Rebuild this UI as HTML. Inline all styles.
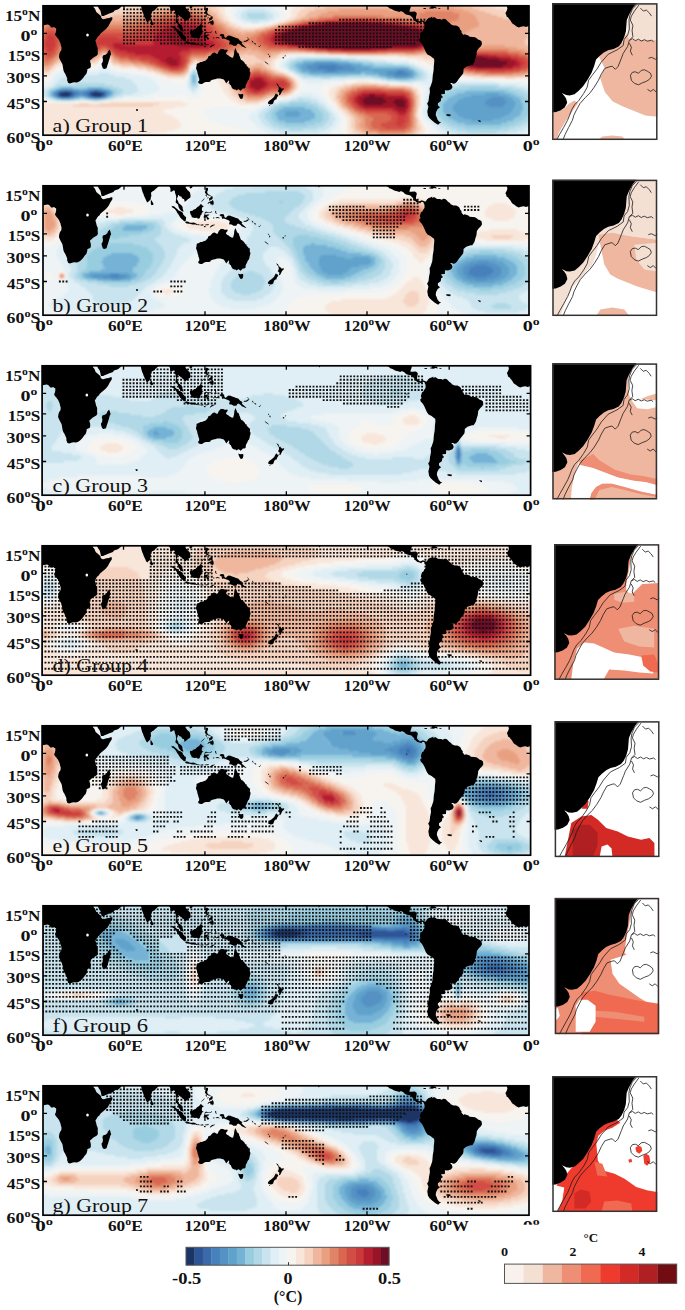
<!DOCTYPE html><html><head><meta charset="utf-8"><style>html,body{margin:0;padding:0;background:#fff;}svg{display:block;}.ax{font-family:"Liberation Serif",serif;font-weight:bold;font-size:14.3px;fill:#111;}.lb{font-family:"Liberation Serif",serif;font-size:18.8px;fill:#111;}.cb{font-family:"Liberation Serif",serif;font-weight:bold;font-size:17px;fill:#111;}.cb2{font-family:"Liberation Serif",serif;font-weight:bold;font-size:12.4px;fill:#111;}</style></head><body><svg width="685" height="1310" viewBox="0 0 685 1310"><defs><clipPath id="pc"><rect x="43" y="0.8" width="486" height="129.4"/></clipPath><filter id="bl" x="-2%" y="-5%" width="104%" height="110%"><feGaussianBlur stdDeviation="1.2"/></filter><path id="land" d="M19.4,-1.4L20.2,-0.6L20.7,0.8L21,1.8L21.4,3.7L20.7,5.8L19.4,8.3L20.3,10L20.5,11.5L21.9,12.3L23,13.7L24.5,15.5L25.2,16.8L26.1,18.3L27.9,19.4L28.4,19.8L30.2,21.2L32.6,22.4L34.9,21.7L37.6,21.3L40.2,22L42.7,20.9L44.6,20.1L46.2,19.8L47.6,19.6L49.1,20L50.4,21.6L51.1,22.6L52.5,22.4L54.2,22L55.1,23L56.1,23.2L56.2,25L56,26.3L55.7,27.8L54.9,29.3L55.8,31.1L57.3,32.7L59,34.9L59.6,36.5L60.5,38.5L60.8,40.3L61.5,42.6L61.4,44.7L61.1,45.5L60,47L59.3,49.1L58.9,52.1L59.6,53.8L60.8,56.2L62.2,58.8L62.6,60.1L63.1,63.2L63.5,65.6L64.2,67.3L65.2,68.7L66.2,70.9L67.2,73.2L67.1,75.3L67.6,76.3L67.8,77.1L68,77.8L69.1,78.2L70,78.5L71.3,77.9L72.8,77.6L74.7,77.2L76.5,77.6L77.6,77.2L78.9,76.7L80.7,75.6L82.2,74L83.5,72.6L84.8,70.6L86.3,69L87,67L87.4,65L87,64.7L88.2,63.7L90.2,62.9L90.9,61.6L90.8,58.8L90.2,56.7L90,55.6L91.3,54.4L92.8,52.9L94.3,51.9L96.9,50.5L97.9,48.9L97.7,46.1L97.8,42.9L96.7,40.6L96.1,37.8L96.1,37.6L95.4,35.8L95.9,34.7L96.6,33.8L97.1,32.7L98.2,31.3L99.4,30.5L100.4,28.8L102.1,27.3L104.2,25.6L106.2,23.8L108.5,21.1L109.4,19.2L110.3,17.5L111.6,15.5L112.4,14.2L112.3,12.3L110.9,12.2L109.4,13L107.1,13.3L103.8,14.2L102.4,14.1L101.6,13L101.2,12.6L100.8,11.8L101.5,11.2L100.6,10.7L99,9.3L97.4,7.9L96.3,7L95.5,5.1L95,3.7L93.6,2.2L93.2,0.8L92.9,-1.4ZM505.4,-1.4L506.2,-0.6L506.7,0.8L507,1.8L507.4,3.7L506.7,5.8L505.4,8.3L506.3,10L506.5,11.5L507.9,12.3L509,13.7L510.5,15.5L511.2,16.8L512.1,18.3L513.9,19.4L514.4,19.8L516.2,21.2L518.6,22.4L520.9,21.7L523.6,21.3L526.2,22L528.7,20.9L530.6,20.1L532.2,19.8L533.6,19.6L535.1,20L536.4,21.6L537.1,22.6L538.5,22.4L540.2,22L541.1,23L542.1,23.2L542.2,25L542,26.3L541.7,27.8L540.9,29.3L541.8,31.1L543.3,32.7L545,34.9L545.6,36.5L546.6,38.5L546.8,40.3L547.5,42.6L547.4,44.7L547.1,45.5L546,47L545.3,49.1L544.9,52.1L545.6,53.8L546.8,56.2L548.2,58.8L548.6,60.1L549.1,63.2L549.5,65.6L550.2,67.3L551.2,68.7L552.2,70.9L553.2,73.2L553.1,75.3L553.6,76.3L553.8,77.1L554,77.8L555.1,78.2L556,78.5L557.4,77.9L558.8,77.6L560.7,77.2L562.5,77.6L563.6,77.2L564.9,76.7L566.7,75.6L568.1,74L569.5,72.6L570.8,70.6L572.3,69L573,67L573.4,65L573,64.7L574.2,63.7L576.2,62.9L576.9,61.6L576.8,58.8L576.2,56.7L576,55.6L577.3,54.4L578.8,52.9L580.3,51.9L582.9,50.5L583.9,48.9L583.7,46.1L583.8,42.9L582.7,40.6L582.1,37.8L582.1,37.6L581.4,35.8L581.9,34.7L582.6,33.8L583.1,32.7L584.2,31.3L585.4,30.5L586.4,28.8L588.1,27.3L590.2,25.6L592.2,23.8L594.5,21.1L595.4,19.2L596.3,17.5L597.6,15.5L598.4,14.2L598.3,12.3L596.9,12.2L595.4,13L593.1,13.3L589.8,14.2L588.4,14.1L587.6,13L587.2,12.6L586.8,11.8L587.5,11.2L586.6,10.7L585,9.3L583.4,7.9L582.3,7L581.5,5.1L581,3.7L579.6,2.2L579.2,0.8L579,-1.4ZM94.3,-1.4L95.9,-1.4L96.7,0.1L97.8,1.5L99,3.7L100,5.1L100.4,5.8L100.8,7.2L101,8.2L101.2,9.3L101.4,10.2L101.7,11.1L102.7,11.1L103.8,10.9L105.1,10.2L107.1,9.6L109.3,8.6L110.9,7.9L112.1,7.6L113.5,7L114.5,5.6L116,5.1L117.7,4.4L119.1,3.8L120.4,2.5L121,2.3L121.6,0.8L122.4,0.2L123.1,-1.4ZM140.2,-1.4L141,-0.6L141.3,2.2L141.8,4.4L142.2,5.8L142.6,7.2L143.3,8.6L144,10.8L144.7,12.3L145.3,13.4L145.9,14.8L146.4,16.3L147.6,17.4L148.5,16.4L149.5,15.8L150.1,14.8L150.8,14.4L150.7,12.7L151.3,11.2L151.4,10.5L151.1,9.3L151.1,7.6L152.1,6.8L152.6,6.2L154.1,5.6L155.5,4.1L156.5,3.2L157.8,1.9L158.8,1.1L160.2,0.1L160.4,-1.4ZM150.9,15.1L151.4,15.3L152.2,16.6L152.9,17.8L153.6,18.9L153.2,19.7L151.8,20.3L151,19.6L150.8,18.2L150.8,17.1ZM166.5,-2.8L167.2,-0.6L167.6,-0.2L168.4,0.7L169.4,1.5L170.2,2.8L170.6,4.4L170.2,6.5L171.7,6.8L172.6,6.1L173.3,5.6L174.2,5.4L174.8,5.8L175,7.9L175.6,9.3L176.1,11.5L176.2,13.4L176.1,14.8L175.7,16.4L175.7,17.5L176.9,18.5L178,19.4L178.4,21.1L178.8,22.7L179.8,24.3L181,25.4L182,26.2L182.7,26.6L183.7,26.5L183.1,25L182.6,23.2L182.6,22.1L182,20.9L181,20.1L179.8,19L178.8,18.6L178.4,17.1L177.9,15.9L176.9,14.1L177.3,12.7L177.9,11.4L178,10.2L178.7,10L179.2,10.4L179.2,11.1L179.8,11.2L180.7,11.5L181.4,11.8L182,12.9L182.7,13.8L183.7,14L184.1,14.2L184.5,15.5L184.5,16.7L185.2,16.6L186.4,15.8L186.9,15.1L187.6,14.4L188.9,13.6L189.9,13L190.4,12.2L190.6,10.7L190.4,9.6L190,7.6L189.1,6.4L188.3,5.8L187.4,4.9L186.6,3.7L185.7,2.7L185.7,1.8L186.4,0.8L187.2,-0.4L188.5,-1.5L189.5,-1.8L191.2,-1.4L191.9,-0.5L192.2,-1.4ZM189.6,1.9L189.7,2.9L190.8,3.4L191.9,2.8L192.8,1.4L192.4,0.7L191.5,0.7L190.6,0.9ZM205.1,-3.6L205.9,-2.1L206.2,-1.9L207,-3.4L207.6,-3.6ZM205.8,2.9L205.5,5.1L205.4,6.5L204.9,6.2L205,7.9L205.8,8.6L205.8,9.4L207,9.7L208.4,10.4L209.1,10.7L209.6,9.4L210.7,10.7L210.5,11.2L209.5,10.8L208.6,9.6L208,9L207.3,8L207.2,6.5L208,5.1L208,2.9L206.5,2.8ZM207.6,18.9L208.1,17.5L209.7,16.8L210.4,16.3L211.5,16.2L212.4,15.1L213.4,15.9L213.8,18.2L213.4,19.6L212.6,20.4L212.2,19.2L210.8,19.8L210.3,18.3L209.6,17.8L208.8,18.3L208,19ZM207.6,12.2L208.8,12.5L209.3,13.4L209.1,14.8L209.5,15.9L210.4,15.3L210.9,14.5L211.8,14.8L212.6,13.4L212.7,11.6L210.9,11.2L210.4,12.7L209.7,13L208.4,12.7L207.7,14.1L207.6,13.4ZM205.4,10L206.5,10.1L207,11.5L206.4,11.8L205.8,10.7ZM201.2,17L202.7,15.8L204.2,14.2L204.6,12.9L204.1,13.4L203,14.8L201.6,16ZM191,25.7L192,26.1L193.3,25L193.9,24.6L195.6,24L196.9,22.4L198.2,21.6L198.9,21.2L199.7,20.3L200.7,18.9L201.4,19.3L201.9,20.3L202.4,20.5L203.9,21.3L202.7,22.1L202.2,22.6L201.8,23.9L202,25.7L203.7,27L202.3,27.3L201.6,28.4L201.6,29.4L200.7,30.1L200.3,31.3L200,32.4L199.5,33.2L197.7,34L197.7,33L196.2,32.7L194.9,33L193.8,32.8L192.8,32.4L191.8,32.3L191.5,30.8L190.6,29.6L190.4,28.4L190,27.6L190.1,26.3ZM171.7,20.8L172.6,21.2L174.1,21.3L175,22.3L176.2,23.2L177.5,24.3L178.5,25.4L179.9,26.1L181,26.5L182,27.2L183,28.1L183.1,29.7L183.9,29.7L184.6,31.3L185.8,31.7L186.2,32.7L185.8,34.4L185.8,36.3L185,36.2L184.1,36.2L182.9,35L181.1,33.5L179.8,31.7L178.5,29.6L177.7,28.4L176.8,27L176.4,26.1L175.6,25L174.8,23.9L173.7,23.2L172.7,22.8L171.9,21.9ZM185.2,37.6L186.1,36.5L187.2,36.6L188.3,36.8L189.6,37.4L190.8,37.7L192,37.8L193.1,37.4L194.3,37.7L195.1,38.1L196.2,38.8L197.4,38.9L197.4,40.2L195.8,39.6L194.2,39.6L192.8,39.5L191.5,39.2L190.1,38.8L188.8,38.8L187.4,38.4L186.6,38.4L185.4,37.8ZM197.6,39.3L198.5,39.3L199.2,39.7L198.5,40.3L197.7,39.9ZM199.5,39.6L200.4,39.5L200.5,40.4L199.5,40.3ZM200.8,39.9L201.6,39.6L202.6,39.3L203.8,39.9L203.7,40.3L202.3,40.4L201,40.6ZM204.7,39.7L206.1,39.6L207.7,39.3L209.1,39.6L208.8,40L207,40.3L205,40.3ZM203.7,41.1L205,41.1L206.1,42.1L204.5,42.2ZM209.7,42.2L210.8,41.1L212,40L214.5,39.6L214.9,39.9L213.1,40.7L211.5,41.7L210.4,42.5ZM204.2,35.8L204.3,33.8L204.5,33L203.5,32.3L204.1,30.4L204.7,28.6L204.7,27.7L205.3,27.3L206.1,26.6L207,26.9L208.8,27.2L210.4,27.2L211.6,26.3L212,26.5L211.1,27.7L209.5,27.8L207.7,27.7L206.4,27.8L205.3,28.2L205.1,29.2L205.8,30.1L207,29.6L208.8,29.4L209.5,29.6L208.6,30.4L207,30.9L207.7,31.9L208.4,32.8L209.3,33.8L208.6,34.6L207.7,34.6L207,34.4L206.5,32.4L205.9,32.1L205.5,33.2L205.7,35.8L205.4,35.9ZM215.1,25.7L215.8,26.3L216.5,26.9L215.8,27.7L216.9,28L216.1,29L215.5,28.1L215.1,27ZM215.5,32.7L217.2,32.1L219.2,32.4L219.6,33.5L217.8,33.1L216.1,33.2ZM213.1,32.6L214,32.4L214.7,33L213.9,33.6L213.1,33.2ZM219.7,29.7L220.3,29.6L221.6,28.9L223.2,29.3L224,29.5L224.4,31.7L225.2,32.7L225.9,32.8L227,31.5L228.6,30.5L230.4,30.8L232,31.5L232.9,31.7L233.8,32L235.4,32.7L236.9,33.2L238.1,33.6L239.8,35.4L240,35.8L241.4,36.6L242.5,37.2L242.1,37.8L241.4,37.7L242.1,39.1L243.1,40L244.6,41.2L245.5,42.2L246.4,42.6L245.5,42.9L244.1,42.2L241.7,41.2L240.4,39.7L238.1,38.5L237.1,39.2L236.3,40.7L234.7,40.8L233.3,40.7L232.5,39.9L230.7,39.3L229.7,39.7L228.9,37.8L230,37.2L229.3,35.8L227.9,35.1L225.9,34.3L224.6,33.8L223.2,33.5L222.3,33.9L221.6,32.3L222.8,31.7L221.2,31.5L219.8,30.4ZM243.2,35.9L244.8,35.8L245.9,35.8L246.8,35.1L248.5,34L248.7,34.9L247.5,36.1L246.2,36.8L244.1,36.8ZM246.6,32L247.9,32.7L249.3,34.2L249.7,34.9L248.9,34.3L247.5,33.1ZM251.7,35.4L252.8,36.2L253.5,37.4L252.9,37.7L252,36.5ZM254.3,37.8L255.6,38.5L256.3,39.2L254.9,39.5L254.3,38.5ZM258.5,41L259.7,41.1L260.1,41.7L258.7,41.7ZM259.8,39.6L260.4,39.9L261,41.2L260.4,41ZM267.9,48.6L268.7,48.9L268.7,50L267.9,49.7ZM269.5,50.3L270.3,51.1L269.9,52.7L269.1,51.4ZM264.4,56.2L265.6,56.8L267.8,58.4L268.5,59.3L268.2,59.6L266.8,58.5L265.1,57.2ZM282.4,52.4L283.3,52.1L284.1,52.8L283.7,53.4L282.5,53.2ZM284.5,50.8L285.7,50.5L286,51L284.6,51.4ZM235.4,42.9L235,44L234.4,45.5L234.2,47L234,48.9L233.6,50.8L233.1,52.4L232,52.7L231.1,52.2L229.7,51.4L228.6,50.5L227.5,50L226.3,49.1L225.9,48.3L226.6,46.9L227.4,46.2L227.7,45L227,44.5L225.7,44.8L224.6,44.7L223.2,44.1L221.9,44L220.9,43.7L220.1,44.7L219.6,45.2L218.9,45.8L218.5,46.8L217.8,48.2L217.2,48.9L216.2,48.6L215.8,48.2L215.1,47.7L214.2,47.5L213.4,47.7L212.4,48.3L211.8,49.3L211.1,49.6L210.4,50.7L209.6,51.1L209.1,50.8L208,51.9L208,53.1L207,53.9L205.8,55.4L204.3,55.9L203.1,56.4L201.6,56.9L200.5,56.9L198.9,58L197.7,58.5L197,58.5L196.6,59.7L196.5,61.8L196.1,62.5L196.2,64L196.8,65.2L197.2,66.2L197.7,69L198.2,70.1L198.4,71.6L199.2,73.5L199.3,74.8L199.1,76.1L198.2,76.6L198.4,77.9L199.6,78.7L201,78.9L202.2,79L203.5,78L204.9,77.2L206.2,77.1L207.6,77.1L209.1,77.1L210.4,76.4L210.8,75.4L212.4,74.8L213.8,74.5L215.8,74L217.2,73.4L219.2,73.4L220.5,73.4L221.9,74L223.2,74.3L224.2,75.1L224.8,76.1L225.7,77.6L226.5,78.4L227,77.2L227.9,76.4L228.9,75.3L229.2,76.4L228.8,78L228.5,79L229.3,78.5L230,78.9L229.6,79.9L230.7,80L231.5,81.9L232,83L232.7,83.7L234.2,84.4L235.4,84.6L236.7,85.4L237.8,84.4L238.6,84.2L239.4,84.8L240.6,85.8L241.4,84.9L242.8,83.6L244.1,83.4L245.4,83L245.6,81.4L245.8,79.7L246.6,78.4L247.3,77L247.9,75.4L248.9,74.5L249.4,73.1L249.7,71.2L250.4,68.7L250.2,67L249.7,66.5L249.8,64.7L250,63.2L249,63.5L247.8,61.8L246.6,60.9L246.6,59.6L245.4,59.3L244.4,57.5L243.5,56.5L242.1,55.2L241.2,54.9L240.5,53.8L240.1,52.5L239.8,51.5L239.3,50.7L239.1,49.6L238.6,48.6L238.1,47.7L237,47.5L236.7,46.1L236.2,45L235.8,43.9ZM238.3,88.6L239.4,89L240.8,89.3L242.1,89L243.2,89.2L243.2,91L242.7,93.2L241.2,93.9L240.1,93.5L239,91.3L238.5,90ZM276.1,77.9L277,78.7L278,79.2L278.7,80.9L279,81.9L279.9,81.4L280.5,82.5L281.8,83.7L283,83.2L284,83.4L283.3,84.9L282.2,85.8L281.8,86.5L281.1,88.1L280.5,89.2L279.7,90.2L279,89.7L279.1,89L279.5,87.7L278.6,87L277.6,86.1L278.4,85.3L278.8,83.9L278.6,82.5L278.2,81.4L277.6,80.5L276.7,79.2ZM276.1,88.3L277,89.7L277.9,89.2L278.3,90.4L277.5,91.7L276.6,93L276.7,94.3L275.5,94.5L274.2,95.4L273.6,96.9L273.3,98.3L272.2,99.3L270.2,99.6L269.1,98.9L267.8,98.5L268.2,96.9L269.5,95.6L271.1,94.5L272.9,93L274.1,91.8L274.7,90.5L275.3,89.2ZM269.1,100L270.1,100L269.9,100.8L269.3,100.8ZM109.5,44.6L110,45.5L110.5,46.8L110.8,47.9L111.2,49.3L110.5,50.3L110,51.7L109.7,53.3L109,55.2L108.3,57.7L107.5,60L106.5,63.2L105.1,63.7L104,64.1L102.8,63.2L101.9,60.8L101.5,58.8L102.3,57.4L102.8,56.4L102.9,54.1L102.4,52.4L103,50.5L104.4,50.1L105.5,49.8L106.5,48.9L107.5,47.9L107.8,46.8L108.9,45.4ZM385.9,-1.4L386.3,0.8L387.2,1.5L388.2,2.1L389.3,3.2L391,3.7L392.6,4.6L394.1,5.4L396,6.1L398,6.6L399.3,6.9L400.5,6.3L401.4,6.2L403.4,7.2L404.5,8.6L406.1,9.4L408.2,10L409.5,10.2L410.7,10.8L411.8,12L413.2,13.3L413.3,14.8L414.5,15.3L416.3,17L417.9,17.3L419.7,18.1L420.5,18.3L420.7,17.5L421.7,16.8L423.2,17.1L423.8,18.6L424.5,20L424.5,23L423,24.9L422.4,26.6L421,27.2L420.3,29.6L419.8,31.3L420.6,33L419.2,34.2L419.5,36.2L421.8,38.8L423,40.8L424.8,44.7L425.9,47.2L427.5,49.4L430.5,51L432.6,52.7L434.1,53.8L434.3,56.2L433.8,61L433.6,65.2L432.7,70.7L432.5,74L432.2,76.6L431.1,79.7L430.3,81.9L429.6,83L429.9,87L429.4,90L429.1,91L428.8,93.7L428.4,96.5L427.1,98.5L428.4,101.4L427.3,106.5L428,110.8L429.4,113.1L431.8,115.3L434.5,117.4L436.5,118.8L438.1,119.8L439.9,118.1L441.2,117.2L439.2,116.7L437.5,114.6L436.7,112.2L435.7,110L436.1,107L437.7,104.1L440,102.2L437.9,100.4L437.9,98.3L440.3,96.5L440.8,96L441.2,93.3L443.1,92L441.9,91L441.1,89.2L444.8,89L445,86.7L444.9,85.3L448,85.5L451.2,84.2L452.5,82.2L452.2,81L451.8,79.7L450,78L451.6,77.9L453.4,78.7L454.9,78.4L456.9,76.7L458.7,74L461.1,70.9L463.1,68.5L463.5,66.2L463.5,64L466.2,61.8L470.7,60.3L472.3,60.3L473.6,58.2L474.6,56.4L475.5,53.1L476.4,50.3L476.9,46.1L478.8,43.3L480.9,41.2L482,39.2L481.5,36.2L479.7,35.1L478.4,34.7L477,33.4L475,32.3L473,32.1L469.6,31.7L468.4,30.4L464.6,29.3L463.5,30.1L462.2,28.6L461.5,27.7L461.5,25.9L460.4,25L459.3,22.6L458.1,21.6L456.1,20.5L453.5,20.4L450.7,19.2L449.9,18.1L448,16.8L446.7,15.2L445.3,14L443.3,13.8L441.8,14.7L439.9,14L437.2,14.1L435.2,12.7L434.2,11.9L432.3,12.9L432.2,11.5L431.1,12.3L428.8,13L427.1,14.2L426.4,15.6L425.2,16.7L423.7,15.9L421.7,15.3L419.8,16.2L418.6,16.3L417.5,15.3L416,13.7L416,12L416.7,9.3L416.7,7.9L414.9,6.6L410.9,6.8L409.4,6.8L409.9,4.4L410.5,2.9L411,0.8L411.6,-1.4ZM430.7,0.9L434.5,1.2L435.9,2.2L436.7,2.9L436.3,3.4L434.5,3.1L433,3.4L432.3,3.7L429.8,3.4L428.6,2.9L430.9,2.2ZM438.3,2.9L440.4,3.1L440.2,3.7L438.3,3.7ZM423.3,2.9L426,2.9L426.1,3.8L424.4,3.9L423.2,3.4ZM423.8,0.1L424.1,1L427.1,0.9L428.8,0.5L428.4,-0.1ZM318.5,0.5L319.8,1.2L318.8,2.4L318.4,1.5ZM446.2,109.3L448.7,109.3L451,109.7L450,111.3L448,111.1L446.4,110.6ZM477.7,115.3L480.4,115.5L480.7,117.2L478.8,116.5ZM135.9,104.1L138.2,104.5L137.9,105.7L136.4,105.9ZM405.3,28.8L406.1,28.4L406.4,29.7L405.6,29.7Z"/></defs><g transform="translate(0,5)"><g><g clip-path="url(#pc)"><rect x="43" y="0.8" width="486" height="129.4" fill="#f7f7f7"/><g filter="url(#bl)" fill="none" stroke-width="2"><path stroke="#1b3565" d="M65 87h2M95 87h2M59 89h12M91 89h12M61 91h8M93 91h8"/><path stroke="#2d5595" d="M61 87h4M67 87h4M91 87h4M97 87h4M71 89h2M89 89h2M103 89h2M59 91h2M69 91h2M91 91h2M101 91h2"/><path stroke="#3a6aab" d="M59 87h2M71 87h2M89 87h2M101 87h4M57 89h2M73 89h2M87 89h2M57 91h2M71 91h2M89 91h2M103 91h2"/><path stroke="#4781bb" d="M319 61h18M317 63h26M327 65h8M397 67h6M395 69h12M65 85h2M93 85h6M57 87h2M73 87h4M85 87h4M105 87h2M55 89h2M75 89h4M83 89h4M105 89h2M73 91h2M87 91h2M105 91h2M61 93h8M93 93h8"/><path stroke="#5591c3" d="M313 59h26M307 61h12M337 61h14M307 63h10M343 63h12M311 65h16M335 65h20M397 65h8M323 67h16M387 67h10M403 67h6M387 69h8M407 69h4M393 71h16M59 85h6M67 85h6M89 85h4M99 85h4M55 87h2M77 87h8M107 87h2M53 89h2M79 89h4M107 89h2M55 91h2M75 91h4M83 91h4M59 93h2M69 93h4M89 93h4M101 93h2M491 93h12M487 95h18M485 97h22M485 99h20M489 101h14"/><path stroke="#60a2cb" d="M315 57h20M303 59h10M339 59h14M301 61h6M351 61h10M301 63h6M355 63h14M303 65h8M355 65h42M405 65h4M309 67h14M339 67h22M373 67h14M409 67h4M379 69h8M411 69h2M385 71h8M409 71h4M395 73h12M57 85h2M73 85h6M83 85h6M103 85h4M53 87h2M109 87h2M109 89h2M485 89h14M53 91h2M79 91h4M107 91h2M471 91h36M57 93h2M73 93h2M87 93h2M103 93h2M463 93h28M503 93h8M459 95h28M505 95h8M457 97h28M507 97h8M455 99h30M505 99h10M453 101h36M503 101h12M453 103h60M453 105h60M285 107h14M455 107h56M285 109h16M457 109h52M285 111h14M459 111h46M463 113h38M471 115h22"/><path stroke="#74b2d6" d="M303 57h12M335 57h14M297 59h6M353 59h10M295 61h6M361 61h12M297 63h4M369 63h40M299 65h4M409 65h4M301 67h8M361 67h12M413 67h2M309 69h52M365 69h14M413 69h4M193 71h2M379 71h6M413 71h2M193 73h2M387 73h8M407 73h6M193 75h2M193 77h2M61 83h12M87 83h16M55 85h2M79 85h4M107 85h4M51 87h2M111 87h2M465 87h40M51 89h2M111 89h2M457 89h28M499 89h12M51 91h2M109 91h2M453 91h18M507 91h8M55 93h2M75 93h4M85 93h2M105 93h2M449 93h14M511 93h8M447 95h12M513 95h8M445 97h12M515 97h6M443 99h12M515 99h8M443 101h10M515 101h8M283 103h22M443 103h10M513 103h10M279 105h32M443 105h10M513 105h10M277 107h8M299 107h14M443 107h12M511 107h10M275 109h10M301 109h14M445 109h12M509 109h12M277 111h8M299 111h16M447 111h12M505 111h14M277 113h38M449 113h14M501 113h14M279 115h32M453 115h18M493 115h20M285 117h20M457 117h50M465 119h36"/><path stroke="#98cde0" d="M303 55h38M295 57h8M349 57h12M293 59h4M363 59h12M291 61h4M373 61h32M293 63h4M409 63h2M295 65h4M413 65h2M297 67h4M415 67h2M193 69h2M303 69h6M361 69h4M417 69h2M191 71h2M195 71h2M313 71h34M371 71h8M415 71h4M191 73h2M195 73h2M381 73h6M413 73h4M191 75h2M195 75h2M395 75h14M191 77h2M195 77h2M193 79h2M57 83h4M73 83h14M103 83h6M469 83h26M51 85h4M111 85h4M455 85h54M49 87h2M113 87h4M449 87h16M505 87h10M49 89h2M113 89h2M445 89h12M511 89h8M49 91h2M111 91h2M443 91h10M515 91h8M53 93h2M79 93h6M107 93h2M441 93h8M519 93h6M61 95h10M93 95h6M439 95h8M521 95h6M437 97h8M521 97h8M289 99h18M437 99h6M523 99h8M279 101h34M435 101h8M523 101h8M275 103h8M305 103h12M435 103h8M523 103h8M273 105h6M311 105h8M435 105h8M523 105h8M271 107h6M313 107h8M437 107h6M521 107h10M271 109h4M315 109h8M437 109h8M521 109h8M271 111h6M315 111h8M439 111h8M519 111h8M271 113h6M315 113h8M441 113h8M515 113h10M273 115h6M311 115h12M443 115h10M513 115h10M275 117h10M305 117h16M447 117h10M507 117h12M279 119h36M451 119h14M501 119h14M285 121h22M457 121h52M465 123h36"/><path stroke="#b0d8e6" d="M247 9h18M247 11h20M249 13h16M295 55h8M341 55h14M291 57h4M361 57h12M289 59h4M375 59h18M289 61h2M405 61h6M289 63h4M411 63h4M291 65h4M415 65h4M193 67h4M295 67h2M417 67h4M191 69h2M195 69h2M299 69h4M419 69h4M303 71h10M347 71h24M419 71h4M321 73h10M375 73h6M417 73h4M387 75h8M409 75h8M75 79h30M191 79h2M195 79h2M57 81h56M191 81h6M459 81h40M53 83h4M109 83h10M449 83h20M495 83h18M49 85h2M115 85h8M443 85h12M509 85h12M47 87h2M117 87h6M441 87h8M515 87h10M47 89h2M115 89h6M437 89h8M519 89h10M47 91h2M113 91h4M435 91h8M523 91h8M51 93h2M109 93h4M433 93h8M525 93h8M57 95h4M71 95h4M89 95h4M99 95h4M299 95h4M433 95h6M527 95h8M289 97h22M431 97h6M529 97h6M279 99h10M307 99h10M431 99h6M531 99h4M273 101h6M313 101h6M431 101h4M531 101h4M271 103h4M317 103h6M431 103h4M531 103h4M269 105h4M319 105h6M431 105h4M531 105h4M267 107h4M321 107h6M431 107h6M531 107h4M265 109h6M323 109h6M431 109h6M529 109h6M265 111h6M323 111h6M433 111h6M527 111h8M265 113h6M323 113h6M435 113h6M525 113h8M267 115h6M323 115h6M437 115h6M523 115h8M269 117h6M321 117h6M439 117h8M519 117h10M271 119h8M315 119h10M443 119h8M515 119h10M273 121h12M307 121h16M447 121h10M509 121h12M279 123h38M451 123h14M501 123h14M289 125h14M457 125h52M467 127h30"/><path stroke="#c9e4ee" d="M247 5h18M243 7h26M241 9h6M265 9h8M241 11h6M267 11h6M241 13h8M265 13h8M245 15h24M251 17h8M297 53h44M289 55h6M355 55h14M287 57h4M373 57h14M285 59h4M393 59h16M285 61h4M411 61h4M287 63h2M415 63h4M193 65h4M289 65h2M419 65h4M191 67h2M293 67h2M421 67h4M99 69h10M197 69h2M295 69h4M423 69h4M65 71h50M189 71h2M197 71h2M299 71h4M423 71h4M61 73h64M189 73h2M197 73h2M303 73h18M331 73h44M421 73h6M59 75h72M189 75h2M197 75h2M381 75h6M417 75h8M57 77h76M189 77h2M197 77h2M399 77h14M55 79h20M105 79h30M189 79h2M197 79h2M453 79h46M53 81h4M113 81h24M189 81h2M197 81h2M443 81h16M499 81h18M49 83h4M119 83h18M191 83h6M437 83h12M513 83h12M43 85h6M123 85h16M191 85h4M435 85h8M521 85h10M37 87h10M123 87h14M433 87h8M525 87h10M41 89h6M121 89h12M431 89h6M529 89h6M43 91h4M117 91h6M429 91h6M531 91h4M47 93h4M113 93h2M297 93h14M429 93h4M533 93h2M53 95h4M75 95h6M83 95h6M103 95h4M291 95h8M303 95h14M429 95h4M279 97h10M311 97h8M427 97h4M273 99h6M317 99h6M427 99h4M269 101h4M319 101h6M427 101h4M267 103h4M323 103h4M427 103h4M263 105h6M325 105h4M427 105h4M261 107h6M327 107h4M427 107h4M259 109h6M329 109h4M427 109h4M259 111h6M329 111h4M427 111h6M259 113h6M329 113h6M429 113h6M533 113h2M261 115h6M329 115h6M431 115h6M531 115h4M261 117h8M327 117h6M433 117h6M529 117h6M263 119h8M325 119h8M435 119h8M525 119h10M265 121h8M323 121h8M439 121h8M521 121h10M269 123h10M317 123h12M441 123h10M515 123h12M273 125h16M303 125h22M445 125h12M509 125h14M279 127h40M451 127h16M497 127h20M457 129h50M473 131h18"/><path stroke="#e0eff5" d="M247 1h20M241 3h32M237 5h10M265 5h10M237 7h6M269 7h8M235 9h6M273 9h6M235 11h6M273 11h6M237 13h4M273 13h4M239 15h6M269 15h6M243 17h8M259 17h10M289 53h8M341 53h16M285 55h4M369 55h16M283 57h4M387 57h22M281 59h4M409 59h6M103 61h4M281 61h4M415 61h4M101 63h8M193 63h4M283 63h4M419 63h4M99 65h12M191 65h2M287 65h2M423 65h4M61 67h54M197 67h2M289 67h4M425 67h4M57 69h42M109 69h20M189 69h2M293 69h2M427 69h4M55 71h10M115 71h26M297 71h2M427 71h6M53 73h8M125 73h24M299 73h4M427 73h8M53 75h6M131 75h22M187 75h2M199 75h2M303 75h44M373 75h8M425 75h12M37 77h2M51 77h6M133 77h22M187 77h2M199 77h2M307 77h16M387 77h12M413 77h82M37 79h2M51 79h4M135 79h22M187 79h2M199 79h2M423 79h30M499 79h22M37 81h6M47 81h6M137 81h22M187 81h2M427 81h16M517 81h14M37 83h12M137 83h22M187 83h4M197 83h2M427 83h10M525 83h10M37 85h6M139 85h20M189 85h2M195 85h4M427 85h8M531 85h4M137 87h18M191 87h6M427 87h6M37 89h4M133 89h18M193 89h2M301 89h12M427 89h4M37 91h6M123 91h20M297 91h20M425 91h4M43 93h4M115 93h8M291 93h6M311 93h10M425 93h4M49 95h4M81 95h2M107 95h4M283 95h8M317 95h6M425 95h4M273 97h6M319 97h6M425 97h2M269 99h4M323 99h4M425 99h2M265 101h4M325 101h4M425 101h2M261 103h6M327 103h4M423 103h4M257 105h6M329 105h4M423 105h4M255 107h6M331 107h4M423 107h4M251 109h8M333 109h4M423 109h4M249 111h10M333 111h4M425 111h2M249 113h10M335 113h4M425 113h4M251 115h10M335 115h4M427 115h4M253 117h8M333 117h6M429 117h4M255 119h8M333 119h4M431 119h4M257 121h8M331 121h6M433 121h6M531 121h4M259 123h10M329 123h6M435 123h6M527 123h8M263 125h10M325 125h8M437 125h8M523 125h12M265 127h14M319 127h12M439 127h12M517 127h14M269 129h60M443 129h14M507 129h18M275 131h50M447 131h26M491 131h28M285 133h30M455 133h54M473 135h18"/><path stroke="#eef3f5" d="M251 -5h18M241 -3h36M237 -1h44M235 1h12M267 1h14M233 3h8M273 3h10M231 5h6M275 5h8M231 7h6M277 7h6M231 9h4M279 9h6M231 11h4M279 11h6M233 13h4M277 13h6M235 15h4M275 15h4M237 17h6M269 17h6M241 19h26M291 51h38M285 53h4M357 53h20M103 55h2M281 55h4M385 55h22M101 57h6M279 57h4M409 57h6M101 59h8M279 59h2M415 59h6M99 61h4M107 61h4M193 61h4M279 61h2M419 61h6M63 63h24M97 63h4M109 63h2M191 63h2M197 63h2M279 63h4M423 63h6M59 65h40M111 65h6M197 65h2M283 65h4M427 65h6M55 67h6M115 67h20M189 67h2M287 67h2M429 67h6M37 69h2M53 69h4M129 69h18M199 69h2M291 69h2M431 69h6M37 71h2M51 71h4M141 71h12M199 71h2M295 71h2M433 71h8M37 73h4M51 73h2M149 73h10M187 73h2M199 73h2M297 73h2M435 73h14M37 75h6M49 75h4M153 75h12M299 75h4M347 75h26M437 75h48M39 77h6M47 77h4M155 77h16M185 77h2M201 77h2M301 77h6M323 77h20M381 77h6M495 77h30M39 79h12M157 79h22M183 79h4M201 79h2M303 79h28M409 79h14M521 79h14M43 81h4M159 81h28M199 81h4M303 81h20M419 81h8M531 81h4M159 83h28M199 83h4M303 83h18M421 83h6M159 85h30M199 85h4M301 85h20M423 85h4M155 87h36M197 87h6M299 87h22M423 87h4M151 89h42M195 89h6M295 89h6M313 89h10M423 89h4M143 91h32M187 91h14M293 91h4M317 91h8M423 91h2M37 93h6M123 93h32M189 93h10M287 93h4M321 93h6M423 93h2M39 95h10M111 95h6M275 95h8M323 95h4M423 95h2M55 97h20M91 97h10M269 97h4M325 97h4M423 97h2M265 99h4M327 99h4M423 99h2M259 101h6M329 101h4M421 101h4M211 103h26M253 103h8M331 103h4M421 103h2M205 105h52M333 105h4M421 105h2M203 107h52M335 107h4M421 107h2M205 109h46M337 109h4M421 109h2M205 111h44M337 111h4M421 111h4M209 113h40M339 113h4M423 113h2M211 115h40M339 115h4M423 115h4M215 117h38M339 117h4M425 117h4M221 119h34M337 119h6M427 119h4M229 121h28M337 121h4M427 121h6M237 123h22M335 123h6M429 123h6M243 125h20M333 125h8M431 125h6M249 127h16M331 127h10M431 127h8M531 127h4M251 129h18M329 129h12M431 129h12M525 129h10M255 131h20M325 131h16M433 131h14M519 131h16M259 133h26M315 133h24M435 133h20M509 133h26M263 135h76M437 135h36M491 135h40M267 137h70M443 137h80"/><path stroke="#f7f4f0" d="M37 -5h72M221 -5h30M269 -5h52M499 -5h36M37 -3h58M223 -3h18M277 -3h30M515 -3h20M37 -1h8M59 -1h24M223 -1h14M281 -1h18M527 -1h8M37 1h4M65 1h8M225 1h10M281 1h14M37 3h2M225 3h8M283 3h10M225 5h6M283 5h8M225 7h6M283 7h8M225 9h6M285 9h6M227 11h4M285 11h6M229 13h4M283 13h6M229 15h6M279 15h6M233 17h4M275 17h4M237 19h4M267 19h6M241 21h22M285 51h6M329 51h18M103 53h4M281 53h4M377 53h30M101 55h2M105 55h4M277 55h4M407 55h10M99 57h2M107 57h2M275 57h4M415 57h10M67 59h12M97 59h4M109 59h2M195 59h2M275 59h4M421 59h8M61 61h38M111 61h2M191 61h2M197 61h2M275 61h4M425 61h8M57 63h6M87 63h10M111 63h8M275 63h4M429 63h6M37 65h2M55 65h4M117 65h20M189 65h2M199 65h2M279 65h4M433 65h6M37 67h4M53 67h2M135 67h12M199 67h2M283 67h4M435 67h6M39 69h2M51 69h2M147 69h8M201 69h2M289 69h2M437 69h8M39 71h4M49 71h2M153 71h8M187 71h2M201 71h2M291 71h4M441 71h12M41 73h10M159 73h8M185 73h2M201 73h4M295 73h2M449 73h24M43 75h6M165 75h22M201 75h16M297 75h2M485 75h50M45 77h2M171 77h14M203 77h16M299 77h2M343 77h14M369 77h12M525 77h10M179 79h4M203 79h16M299 79h4M331 79h12M389 79h20M203 81h18M299 81h4M323 81h12M413 81h6M203 83h18M299 83h4M321 83h10M417 83h4M203 85h20M297 85h4M321 85h8M419 85h4M203 87h20M295 87h4M321 87h8M419 87h4M201 89h24M293 89h2M323 89h6M421 89h2M175 91h12M201 91h26M289 91h4M325 91h4M421 91h2M155 93h34M199 93h30M277 93h10M327 93h4M421 93h2M37 95h2M117 95h114M269 95h6M327 95h4M421 95h2M37 97h18M75 97h16M101 97h8M183 97h52M265 97h4M329 97h4M421 97h2M189 99h50M259 99h6M331 99h4M421 99h2M185 101h74M333 101h4M175 103h36M237 103h16M335 103h2M419 103h2M165 105h40M337 105h2M419 105h2M163 107h40M339 107h2M419 107h2M167 109h38M341 109h2M419 109h2M173 111h32M341 111h4M419 111h2M175 113h34M343 113h4M419 113h4M179 115h32M343 115h4M421 115h2M179 117h36M343 117h4M421 117h4M181 119h40M343 119h4M423 119h4M181 121h48M341 121h6M423 121h4M179 123h58M341 123h6M425 123h4M175 125h68M341 125h6M425 125h6M167 127h82M341 127h6M425 127h6M37 129h8M153 129h98M341 129h8M423 129h8M37 131h44M119 131h136M341 131h10M423 131h10M37 133h222M339 133h16M419 133h16M37 135h226M339 135h24M417 135h20M531 135h4M37 137h230M337 137h38M411 137h32M523 137h12"/><path stroke="#f8e6da" d="M109 -5h112M321 -5h178M95 -3h68M203 -3h20M307 -3h110M465 -3h50M45 -1h14M83 -1h68M211 -1h12M299 -1h34M477 -1h50M41 1h24M73 1h66M215 1h10M295 1h18M485 1h50M39 3h88M217 3h8M293 3h12M495 3h40M37 5h74M219 5h6M291 5h10M505 5h30M37 7h10M55 7h42M219 7h6M291 7h8M515 7h20M37 9h6M59 9h30M221 9h4M291 9h6M523 9h12M37 11h4M63 11h20M223 11h4M291 11h6M529 11h6M37 13h2M67 13h8M223 13h6M289 13h6M225 15h4M285 15h6M229 17h4M279 17h6M231 19h6M273 19h4M235 21h6M263 21h6M241 23h18M287 49h28M103 51h4M279 51h6M347 51h52M101 53h2M107 53h2M277 53h4M407 53h16M67 55h10M99 55h2M109 55h2M231 55h12M273 55h4M417 55h16M63 57h22M97 57h2M109 57h2M195 57h2M221 57h22M271 57h4M425 57h10M37 59h2M59 59h8M79 59h18M111 59h2M193 59h2M197 59h2M215 59h26M271 59h4M429 59h8M37 61h2M55 61h6M113 61h8M199 61h2M211 61h28M271 61h4M433 61h6M37 63h4M53 63h4M119 63h18M189 63h2M199 63h4M209 63h28M271 63h4M435 63h6M39 65h2M51 65h4M137 65h10M201 65h34M275 65h4M439 65h6M41 67h2M49 67h4M147 67h8M201 67h32M279 67h4M441 67h8M41 69h10M155 69h6M187 69h2M203 69h28M285 69h4M445 69h10M43 71h6M161 71h6M185 71h2M203 71h26M289 71h2M453 71h14M167 73h18M205 73h24M293 73h2M473 73h32M515 73h20M217 75h12M295 75h2M219 77h8M295 77h4M357 77h12M219 79h8M297 79h2M343 79h10M379 79h10M221 81h8M297 81h2M335 81h8M407 81h6M221 83h8M297 83h2M331 83h8M413 83h4M223 85h6M295 85h2M329 85h8M417 85h2M223 87h8M293 87h2M329 87h6M417 87h2M225 89h6M291 89h2M329 89h6M417 89h4M227 91h6M285 91h4M329 91h6M419 91h2M229 93h8M271 93h6M331 93h4M419 93h2M231 95h8M265 95h4M331 95h4M419 95h2M109 97h74M235 97h10M259 97h6M333 97h4M419 97h2M37 99h42M89 99h10M159 99h30M239 99h20M335 99h2M419 99h2M37 101h36M153 101h32M337 101h2M419 101h2M37 103h138M337 103h4M37 105h128M339 105h4M417 105h2M37 107h126M341 107h4M417 107h2M37 109h130M343 109h4M417 109h2M37 111h136M345 111h4M417 111h2M37 113h138M347 113h4M417 113h2M37 115h142M347 115h4M419 115h2M37 117h142M347 117h4M419 117h2M37 119h144M347 119h4M419 119h4M37 121h144M347 121h4M421 121h2M37 123h142M347 123h4M421 123h4M37 125h138M347 125h6M421 125h4M37 127h130M347 127h6M419 127h6M45 129h108M349 129h8M417 129h6M81 131h38M351 131h12M415 131h8M355 133h20M409 133h10M363 135h54M375 137h36"/><path stroke="#f5d3c0" d="M163 -3h40M417 -3h48M151 -1h60M333 -1h144M139 1h30M199 1h16M313 1h96M463 1h22M127 3h30M207 3h10M305 3h20M473 3h22M111 5h36M211 5h8M301 5h14M479 5h26M47 7h8M97 7h42M213 7h6M299 7h10M485 7h30M43 9h16M89 9h38M217 9h4M297 9h10M491 9h32M41 11h22M83 11h30M217 11h6M297 11h8M497 11h32M39 13h6M57 13h10M75 13h24M219 13h4M295 13h6M503 13h32M37 15h6M61 15h30M221 15h4M291 15h4M511 15h24M37 17h4M63 17h22M223 17h6M285 17h4M517 17h18M37 19h2M65 19h16M227 19h4M277 19h4M521 19h14M37 21h2M69 21h6M229 21h6M269 21h4M525 21h10M233 23h8M259 23h6M527 23h8M239 25h16M529 25h6M529 27h6M529 29h6M527 31h8M527 33h8M525 35h10M525 37h10M525 39h10M529 41h6M533 43h2M103 49h2M245 49h2M279 49h8M315 49h14M431 49h12M67 51h10M101 51h2M107 51h2M233 51h22M275 51h4M399 51h42M63 53h20M99 53h2M109 53h2M221 53h36M271 53h6M423 53h18M37 55h2M61 55h6M77 55h10M95 55h4M195 55h2M211 55h20M243 55h18M265 55h8M433 55h8M37 57h2M57 57h6M85 57h12M111 57h2M193 57h2M197 57h4M207 57h14M243 57h28M435 57h6M39 59h2M55 59h4M113 59h6M191 59h2M199 59h16M241 59h14M263 59h8M437 59h6M39 61h2M53 61h2M121 61h14M189 61h2M201 61h10M239 61h10M265 61h6M439 61h4M41 63h2M51 63h2M137 63h10M203 63h6M237 63h8M267 63h4M441 63h6M41 65h4M49 65h2M147 65h6M235 65h6M271 65h4M445 65h4M43 67h6M155 67h4M187 67h2M233 67h6M275 67h4M449 67h6M161 69h4M185 69h2M231 69h6M283 69h2M455 69h8M167 71h18M229 71h6M287 71h2M467 71h14M523 71h12M229 73h4M291 73h2M505 73h10M229 75h4M293 75h2M227 77h6M227 79h6M295 79h2M353 79h26M229 81h4M295 81h2M343 81h8M389 81h18M229 83h4M295 83h2M339 83h6M411 83h2M229 85h4M293 85h2M337 85h4M413 85h4M231 87h4M291 87h2M335 87h4M415 87h2M231 89h6M287 89h4M335 89h4M415 89h2M233 91h6M273 91h12M335 91h2M417 91h2M237 93h4M267 93h4M335 93h2M417 93h2M239 95h6M261 95h4M335 95h4M417 95h2M245 97h14M337 97h2M417 97h2M79 99h10M99 99h60M337 99h4M417 99h2M73 101h80M339 101h2M417 101h2M341 103h2M417 103h2M343 105h4M345 107h4M347 109h4M415 109h2M349 111h4M415 111h2M351 113h4M351 115h4M417 115h2M351 117h4M417 117h2M351 119h4M417 119h2M351 121h4M417 121h4M351 123h4M417 123h4M353 125h4M417 125h4M353 127h8M415 127h4M357 129h8M413 129h4M363 131h16M407 131h8M375 133h34"/><path stroke="#efb79e" d="M169 1h30M409 1h54M157 3h50M325 3h98M455 3h18M147 5h20M201 5h10M315 5h24M389 5h12M463 5h16M139 7h18M207 7h6M309 7h18M469 7h16M127 9h22M209 9h8M307 9h14M473 9h18M113 11h28M213 11h4M305 11h12M475 11h22M45 13h12M99 13h34M215 13h4M301 13h8M477 13h26M43 15h18M91 15h30M217 15h4M295 15h6M477 15h34M41 17h4M57 17h6M85 17h18M219 17h4M289 17h4M479 17h38M39 19h4M59 19h6M81 19h12M223 19h4M281 19h4M479 19h42M39 21h2M61 21h8M75 21h14M225 21h4M273 21h4M479 21h46M37 23h4M63 23h20M227 23h6M265 23h6M475 23h52M37 25h2M65 25h16M231 25h8M255 25h8M471 25h58M37 27h2M67 27h10M235 27h20M467 27h62M37 29h2M69 29h4M241 29h4M465 29h64M463 31h64M461 33h66M457 35h68M455 37h70M449 39h76M69 41h4M445 41h38M505 41h24M67 43h8M439 43h26M517 43h16M37 45h2M65 45h12M247 45h4M435 45h22M525 45h10M37 47h2M65 47h14M237 47h22M281 47h24M429 47h24M531 47h4M37 49h2M63 49h20M101 49h2M105 49h4M229 49h16M247 49h16M271 49h8M329 49h18M387 49h18M419 49h12M443 49h6M37 51h2M61 51h6M77 51h10M97 51h4M109 51h2M219 51h14M255 51h20M441 51h6M37 53h4M59 53h4M83 53h8M95 53h4M111 53h2M207 53h14M257 53h14M441 53h6M39 55h2M57 55h4M87 55h8M111 55h4M191 55h4M197 55h14M261 55h4M441 55h4M39 57h2M55 57h2M113 57h6M191 57h2M201 57h6M441 57h4M41 59h2M53 59h2M119 59h14M189 59h2M255 59h8M443 59h4M41 61h2M49 61h4M135 61h10M249 61h16M443 61h6M43 63h8M147 63h6M245 63h8M261 63h6M447 63h4M45 65h4M153 65h6M187 65h2M241 65h6M267 65h4M449 65h6M159 67h4M185 67h2M239 67h4M271 67h4M455 67h6M165 69h8M181 69h4M237 69h4M275 69h8M463 69h10M525 69h10M235 71h4M285 71h2M481 71h42M233 73h4M289 73h2M233 75h4M291 75h2M233 77h2M293 77h2M233 79h2M293 79h2M233 81h2M293 81h2M351 81h10M377 81h12M233 83h4M293 83h2M345 83h6M405 83h6M233 85h4M291 85h2M341 85h6M411 85h2M235 87h4M289 87h2M339 87h4M413 87h2M237 89h4M277 89h10M339 89h4M239 91h4M267 91h6M337 91h4M415 91h2M241 93h6M263 93h4M337 93h4M415 93h2M245 95h16M339 95h2M415 95h2M339 97h2M415 97h2M341 99h2M415 99h2M341 101h4M415 101h2M343 103h4M415 103h2M347 105h2M415 105h2M349 107h2M415 107h2M351 109h4M353 111h4M355 113h4M415 113h2M355 115h6M415 115h2M355 117h6M415 117h2M355 119h4M415 119h2M355 121h4M415 121h2M355 123h6M415 123h2M357 125h6M413 125h4M361 127h6M411 127h4M365 129h14M405 129h8M379 131h28"/><path stroke="#e8a080" d="M423 3h32M167 5h34M339 5h50M401 5h62M157 7h18M193 7h14M327 7h98M453 7h16M149 9h14M203 9h6M321 9h98M459 9h14M141 11h14M207 11h6M317 11h16M383 11h36M459 11h16M133 13h16M209 13h6M309 13h10M403 13h12M459 13h18M121 15h20M213 15h4M301 15h8M457 15h20M45 17h12M103 17h32M215 17h4M293 17h6M451 17h28M43 19h6M53 19h6M93 19h32M217 19h6M285 19h4M449 19h30M41 21h4M57 21h4M89 21h14M221 21h4M277 21h6M449 21h30M41 23h2M59 23h4M83 23h12M223 23h4M271 23h4M451 23h24M39 25h4M61 25h4M81 25h8M225 25h6M263 25h4M451 25h20M39 27h2M61 27h6M77 27h8M227 27h8M255 27h6M453 27h14M39 29h2M63 29h6M73 29h10M229 29h12M245 29h12M453 29h12M37 31h4M63 31h18M233 31h20M453 31h10M37 33h2M63 33h18M237 33h12M451 33h10M37 35h2M65 35h14M241 35h6M449 35h8M37 37h2M65 37h14M447 37h8M37 39h2M63 39h18M245 39h4M443 39h6M37 41h2M63 41h6M73 41h8M243 41h12M439 41h6M483 41h22M37 43h2M63 43h4M75 43h8M239 43h20M435 43h4M465 43h52M39 45h2M61 45h4M77 45h6M235 45h12M251 45h12M429 45h6M457 45h10M509 45h16M39 47h2M61 47h4M79 47h8M101 47h6M229 47h8M259 47h22M305 47h10M423 47h6M453 47h6M521 47h10M39 49h2M59 49h4M83 49h6M97 49h4M109 49h2M219 49h10M263 49h8M347 49h40M405 49h14M449 49h6M527 49h8M39 51h2M57 51h4M87 51h10M111 51h2M207 51h12M447 51h4M533 51h2M41 53h2M55 53h4M91 53h4M113 53h2M191 53h16M447 53h4M41 55h2M53 55h4M115 55h4M445 55h4M41 57h2M51 57h4M119 57h12M189 57h2M445 57h4M43 59h2M49 59h4M133 59h10M447 59h2M43 61h6M145 61h6M187 61h2M449 61h2M153 63h4M187 63h2M253 63h8M451 63h4M159 65h4M185 65h2M247 65h6M261 65h6M455 65h4M533 65h2M163 67h6M183 67h2M243 67h4M267 67h4M461 67h6M527 67h8M173 69h8M241 69h2M271 69h4M473 69h12M513 69h12M239 71h2M279 71h6M237 73h4M287 73h2M237 75h2M289 75h2M235 77h4M291 77h2M235 79h4M291 79h2M235 81h4M291 81h2M361 81h16M237 83h2M291 83h2M351 83h6M385 83h20M237 85h2M289 85h2M347 85h4M407 85h4M239 87h2M285 87h4M343 87h4M411 87h2M241 89h2M269 89h8M343 89h2M413 89h2M243 91h4M263 91h4M341 91h4M413 91h2M247 93h16M341 93h2M413 93h2M341 95h4M341 97h4M343 99h2M345 101h2M347 103h2M413 103h2M349 105h4M413 105h2M351 107h4M413 107h2M355 109h4M413 109h2M357 111h6M413 111h2M359 113h6M413 113h2M361 115h4M413 115h2M361 117h4M413 117h2M359 119h6M413 119h2M359 121h6M413 121h2M361 123h6M411 123h4M363 125h6M411 125h2M367 127h10M407 127h4M379 129h26"/><path stroke="#e08468" d="M175 7h18M425 7h28M163 9h40M419 9h40M155 11h14M197 11h10M333 11h50M419 11h40M149 13h12M203 13h6M319 13h14M377 13h26M415 13h44M141 15h14M207 15h6M309 15h8M399 15h58M135 17h14M211 17h4M299 17h4M419 17h32M49 19h4M125 19h18M213 19h4M289 19h6M431 19h18M45 21h12M103 21h34M215 21h6M283 21h4M437 21h12M43 23h4M55 23h4M95 23h34M217 23h6M275 23h4M441 23h10M43 25h2M57 25h4M89 25h12M219 25h6M267 25h4M443 25h8M41 27h2M59 27h2M85 27h8M221 27h6M261 27h6M445 27h8M41 29h2M59 29h4M83 29h6M223 29h6M257 29h4M447 29h6M41 31h2M61 31h2M81 31h6M225 31h8M253 31h6M447 31h6M39 33h2M61 33h2M81 33h4M227 33h10M249 33h8M445 33h6M39 35h2M61 35h4M79 35h6M229 35h12M247 35h10M443 35h6M39 37h2M61 37h4M79 37h6M233 37h24M441 37h6M39 39h2M61 39h2M81 39h4M235 39h10M249 39h10M439 39h4M39 41h2M61 41h2M81 41h6M233 41h10M255 41h8M435 41h4M39 43h2M59 43h4M83 43h4M231 43h8M259 43h8M431 43h4M41 45h2M59 45h2M83 45h6M101 45h6M227 45h8M263 45h36M425 45h4M467 45h42M41 47h2M57 47h4M87 47h6M97 47h4M107 47h2M219 47h10M315 47h12M415 47h8M459 47h6M507 47h14M41 49h2M57 49h2M89 49h8M111 49h2M207 49h12M455 49h4M519 49h8M41 51h2M55 51h2M113 51h2M191 51h16M451 51h4M527 51h6M43 53h2M53 53h2M115 53h4M189 53h2M451 53h2M531 53h4M43 55h2M49 55h4M119 55h10M189 55h2M449 55h4M533 55h2M43 57h8M131 57h10M449 57h4M45 59h4M143 59h6M187 59h2M449 59h4M151 61h4M451 61h4M157 63h4M185 63h2M455 63h4M531 63h4M163 65h4M183 65h2M253 65h8M459 65h4M527 65h6M169 67h14M247 67h6M261 67h6M467 67h8M519 67h8M243 69h4M267 69h4M485 69h28M241 71h4M271 71h8M241 73h2M283 73h4M239 75h2M287 75h2M239 77h2M289 77h2M239 79h2M239 81h2M239 83h2M289 83h2M357 83h28M239 85h4M287 85h2M351 85h6M403 85h4M241 87h4M269 87h16M347 87h4M409 87h2M243 89h4M265 89h4M345 89h4M411 89h2M247 91h16M345 91h2M411 91h2M343 93h4M345 95h2M413 95h2M345 97h2M413 97h2M345 99h4M413 99h2M347 101h4M413 101h2M349 103h4M353 105h2M355 107h4M411 107h2M359 109h6M411 109h2M363 111h6M411 111h2M365 113h8M411 113h2M365 115h8M411 115h2M365 117h6M411 117h2M365 119h6M411 119h2M365 121h6M411 121h2M367 123h6M409 123h2M369 125h10M405 125h6M377 127h30"/><path stroke="#d9664f" d="M169 11h28M161 13h14M193 13h10M333 13h44M155 15h12M201 15h6M317 15h8M385 15h14M149 17h10M205 17h6M303 17h6M405 17h14M143 19h12M207 19h6M295 19h4M419 19h12M137 21h12M211 21h4M287 21h4M429 21h8M47 23h8M129 23h16M213 23h4M279 23h4M433 23h8M45 25h12M101 25h38M213 25h6M271 25h6M437 25h6M43 27h4M55 27h4M93 27h40M215 27h6M267 27h4M441 27h4M43 29h2M57 29h2M89 29h10M217 29h6M261 29h6M441 29h6M43 31h2M57 31h4M87 31h6M219 31h6M259 31h4M441 31h6M41 33h4M57 33h4M85 33h6M221 33h6M257 33h6M441 33h4M41 35h2M59 35h2M85 35h6M223 35h6M257 35h6M439 35h4M41 37h2M59 37h2M85 37h4M225 37h8M257 37h6M437 37h4M41 39h2M57 39h4M85 39h4M227 39h8M259 39h6M435 39h4M41 41h2M57 41h4M87 41h4M227 41h6M263 41h6M431 41h4M41 43h2M57 43h2M87 43h6M101 43h6M225 43h6M267 43h20M427 43h4M43 45h2M55 45h4M89 45h12M107 45h2M219 45h8M299 45h10M421 45h4M43 47h2M55 47h2M93 47h4M109 47h4M209 47h10M327 47h14M377 47h38M465 47h42M43 49h2M53 49h4M113 49h2M191 49h16M459 49h4M509 49h10M43 51h4M51 51h4M115 51h4M189 51h2M455 51h4M519 51h8M45 53h8M119 53h10M187 53h2M453 53h2M525 53h6M45 55h4M129 55h10M187 55h2M453 55h2M529 55h4M141 57h8M187 57h2M453 57h2M529 57h6M149 59h6M185 59h2M453 59h2M531 59h4M155 61h4M185 61h2M455 61h2M529 61h6M161 63h4M183 63h2M459 63h2M527 63h4M167 65h4M179 65h4M463 65h6M521 65h6M253 67h8M475 67h14M505 67h14M247 69h6M261 69h6M245 71h4M267 71h4M243 73h2M271 73h12M241 75h4M285 75h2M241 77h2M287 77h2M241 79h2M289 79h2M241 81h2M289 81h2M241 83h4M287 83h2M243 85h2M271 85h16M357 85h6M381 85h22M245 87h2M265 87h4M351 87h6M405 87h4M247 89h6M259 89h6M349 89h4M409 89h2M347 91h4M409 91h2M347 93h2M411 93h2M347 95h2M411 95h2M347 97h4M411 97h2M349 99h2M411 99h2M351 101h2M411 101h2M353 103h2M411 103h2M355 105h4M411 105h2M359 107h6M365 109h22M409 109h2M369 111h22M409 111h2M373 113h18M409 113h2M373 115h18M409 115h2M371 117h16M409 117h2M371 119h10M407 119h4M371 121h10M407 121h4M373 123h12M405 123h4M379 125h26"/><path stroke="#d24d44" d="M175 13h18M167 15h34M325 15h16M367 15h18M159 17h12M195 17h10M309 17h8M393 17h12M155 19h10M201 19h6M299 19h4M409 19h10M149 21h10M205 21h6M291 21h4M421 21h8M145 23h10M207 23h6M283 23h4M429 23h4M139 25h12M209 25h4M277 25h4M433 25h4M47 27h8M133 27h14M209 27h6M271 27h4M435 27h6M45 29h12M99 29h46M211 29h6M267 29h4M437 29h4M45 31h2M53 31h4M93 31h48M213 31h6M263 31h6M437 31h4M45 33h2M55 33h2M91 33h8M117 33h18M215 33h6M263 33h4M437 33h4M43 35h4M55 35h4M91 35h6M217 35h6M263 35h4M437 35h2M43 37h2M55 37h4M89 37h6M219 37h6M263 37h6M435 37h2M43 39h2M55 39h2M89 39h6M221 39h6M265 39h6M431 39h4M43 41h2M55 41h2M91 41h16M221 41h6M269 41h10M429 41h2M43 43h4M53 43h4M93 43h8M107 43h4M219 43h6M287 43h10M423 43h4M45 45h2M53 45h2M109 45h4M211 45h8M309 45h8M415 45h6M45 47h10M113 47h2M191 47h18M341 47h36M45 49h8M115 49h6M187 49h4M463 49h4M489 49h20M47 51h4M119 51h10M185 51h4M459 51h2M511 51h8M129 53h12M185 53h2M455 53h4M519 53h6M139 55h12M185 55h2M455 55h2M523 55h6M149 57h6M185 57h2M455 57h2M525 57h4M155 59h4M455 59h4M525 59h6M159 61h4M183 61h2M457 61h4M523 61h6M165 63h4M179 63h4M461 63h4M521 63h6M171 65h8M469 65h6M513 65h8M489 67h16M253 69h8M249 71h4M263 71h4M245 73h4M267 73h4M245 75h2M269 75h16M243 77h2M285 77h2M243 79h2M287 79h2M243 81h2M285 81h4M245 83h2M269 83h12M283 83h4M245 85h4M265 85h6M363 85h18M247 87h4M261 87h4M357 87h4M385 87h20M253 89h6M353 89h4M405 89h4M351 91h4M407 91h2M349 93h4M409 93h2M349 95h4M409 95h2M351 97h2M351 99h4M353 101h4M355 103h4M409 103h2M359 105h6M409 105h2M365 107h26M409 107h2M387 109h8M407 109h2M391 111h6M407 111h2M391 113h6M405 113h4M391 115h6M405 115h4M387 117h10M405 117h4M381 119h14M403 119h4M381 121h18M401 121h6M385 123h20"/><path stroke="#cb3a3b" d="M341 15h26M171 17h24M317 17h8M383 17h10M165 19h14M189 19h12M303 19h6M401 19h8M159 21h12M197 21h8M295 21h4M415 21h6M155 23h10M199 23h8M287 23h4M423 23h6M151 25h10M201 25h8M281 25h4M427 25h6M147 27h12M203 27h6M275 27h4M431 27h4M145 29h12M205 29h6M271 29h4M433 29h4M47 31h6M141 31h14M205 31h8M269 31h4M435 31h2M47 33h8M99 33h18M135 33h20M207 33h8M267 33h4M435 33h2M47 35h8M97 35h56M209 35h8M267 35h4M433 35h4M45 37h10M95 37h58M213 37h6M269 37h4M431 37h4M45 39h10M95 39h18M123 39h30M215 39h6M271 39h8M429 39h2M45 41h10M107 41h6M213 41h8M279 41h10M425 41h4M47 43h6M111 43h4M209 43h10M297 43h8M421 43h2M47 45h6M113 45h6M189 45h22M317 45h10M387 45h28M115 47h12M181 47h10M121 49h14M179 49h8M467 49h22M129 51h22M181 51h4M461 51h4M497 51h14M141 53h14M181 53h4M459 53h2M511 53h8M151 55h8M181 55h4M457 55h2M517 55h6M155 57h6M181 57h4M457 57h2M519 57h6M159 59h6M181 59h4M459 59h2M521 59h4M163 61h6M179 61h4M461 61h2M519 61h4M169 63h10M465 63h4M513 63h8M475 65h38M253 71h10M249 73h4M263 73h4M247 75h2M265 75h4M245 77h4M267 77h18M245 79h4M269 79h18M245 81h4M267 81h18M247 83h2M265 83h4M281 83h2M249 85h4M261 85h4M251 87h10M361 87h24M357 89h4M387 89h18M355 91h2M405 91h2M353 93h2M407 93h2M353 95h2M353 97h2M409 97h2M355 99h2M409 99h2M357 101h2M409 101h2M359 103h4M365 105h28M407 105h2M391 107h6M407 107h2M395 109h4M405 109h2M397 111h10M397 113h8M397 115h8M397 117h8M395 119h8M399 121h2"/><path stroke="#b51e30" d="M325 17h14M369 17h14M179 19h10M309 19h6M393 19h8M171 21h26M299 21h4M407 21h8M165 23h34M291 23h4M417 23h6M161 25h14M191 25h10M285 25h4M423 25h4M159 27h12M195 27h8M279 27h4M427 27h4M157 29h12M195 29h10M275 29h4M429 29h4M155 31h12M197 31h8M273 31h4M431 31h4M155 33h12M199 33h8M271 33h4M431 33h4M153 35h16M201 35h8M271 35h6M431 35h2M153 37h18M203 37h10M273 37h6M429 37h2M113 39h10M153 39h20M205 39h10M279 39h8M427 39h2M113 41h64M201 41h12M289 41h8M423 41h2M115 43h94M305 43h8M417 43h4M119 45h70M327 45h16M371 45h16M127 47h54M135 49h44M151 51h30M465 51h4M483 51h14M155 53h12M173 53h8M461 53h2M501 53h10M159 55h6M177 55h4M459 55h2M511 55h6M161 57h6M177 57h4M459 57h2M515 57h4M165 59h4M177 59h4M461 59h2M515 59h6M169 61h10M463 61h4M513 61h6M469 63h8M503 63h10M253 73h10M249 75h6M261 75h4M249 77h2M263 77h4M249 79h2M265 79h4M249 81h2M263 81h4M249 83h6M261 83h4M253 85h8M361 89h8M375 89h12M357 91h6M385 91h20M355 93h4M405 93h2M355 95h4M407 95h2M355 97h4M407 97h2M357 99h4M407 99h2M359 101h4M407 101h2M363 103h32M407 103h2M393 105h4M405 105h2M397 107h10M399 109h6"/><path stroke="#9a1428" d="M339 17h30M315 19h8M383 19h10M303 21h6M399 21h8M295 23h4M411 23h6M175 25h16M289 25h4M419 25h4M171 27h24M283 27h4M423 27h4M169 29h26M279 29h4M427 29h2M167 31h30M277 31h4M427 31h4M167 33h32M275 33h6M429 33h2M169 35h32M277 35h4M427 35h4M171 37h32M279 37h6M427 37h2M173 39h32M287 39h6M423 39h4M177 41h24M297 41h8M419 41h4M313 43h8M391 43h26M343 45h28M469 51h14M167 53h6M463 53h4M487 53h14M165 55h12M461 55h4M499 55h12M167 57h10M461 57h4M507 57h8M169 59h8M463 59h4M507 59h8M467 61h4M503 61h10M477 63h26M255 75h6M251 77h12M251 79h14M251 81h12M255 83h6M369 89h6M363 91h6M375 91h10M359 93h6M383 93h22M359 95h4M385 95h10M403 95h4M359 97h4M387 97h6M405 97h2M361 99h4M383 99h12M405 99h2M363 101h34M405 101h2M395 103h12M397 105h8"/><path stroke="#6e0d26" d="M323 19h60M309 21h90M299 23h112M293 25h126M287 27h136M283 29h144M281 31h146M281 33h148M281 35h146M285 37h142M293 39h130M305 41h114M321 43h70M467 53h20M465 55h34M465 57h42M467 59h40M471 61h32M369 91h6M365 93h18M363 95h22M395 95h8M363 97h24M393 97h12M365 99h18M395 99h10M397 101h8"/></g><path fill="none" stroke="#111" stroke-width="1.9" stroke-dasharray="1.9 1.475" d="M298.6 41.9h93M123 38.5h12M160.2 38.5h45.8M274.9 38.5h140.3M123 35.1h82.9M274.9 35.1h150.4M123 31.7h82.9M274.9 31.7h150.4M123 28.4h82.9M274.9 28.4h150.4M123 25h82.9M274.9 25h150.4M123 21.6h82.9M278.3 21.6h147M123 18.2h82.9M308.7 18.2h116.7M123 14.8h82.9M339.1 14.8h86.3M123 11.4h82.9M123 7.9h82.9M123 4.4h82.9"/><use href="#land" fill="#000"/><ellipse cx="87.5" cy="30" rx="1.3" ry="1.6" fill="#fff"/></g><path d="M43,7.9h4M529,7.9h-4M43,28.4h4M529,28.4h-4M43,48.9h4M529,48.9h-4M43,70.9h4M529,70.9h-4M43,96.5h4M529,96.5h-4M124,0.8v4M124,130.2v-4M205,0.8v4M205,130.2v-4M286,0.8v4M286,130.2v-4M367,0.8v4M367,130.2v-4M448,0.8v4M448,130.2v-4" stroke="#000" stroke-width="1.3" fill="none"/><rect x="43" y="0.8" width="486" height="129.4" fill="none" stroke="#000" stroke-width="1.7"/></g><text class="ax" x="5" y="15.8" textLength="35.4" lengthAdjust="spacingAndGlyphs">15<tspan font-size="9.8" dy="-5.6">o</tspan><tspan dy="5.6">N</tspan></text><text class="ax" x="20.5" y="35.7" textLength="16.9" lengthAdjust="spacingAndGlyphs">0<tspan font-size="9.8" dy="-5.6">o</tspan><tspan dy="5.6"></tspan></text><text class="ax" x="7.7" y="56.2" textLength="32.7" lengthAdjust="spacingAndGlyphs">15<tspan font-size="9.8" dy="-5.6">o</tspan><tspan dy="5.6">S</tspan></text><text class="ax" x="6.5" y="78.2" textLength="33.9" lengthAdjust="spacingAndGlyphs">30<tspan font-size="9.8" dy="-5.6">o</tspan><tspan dy="5.6">S</tspan></text><text class="ax" x="6.8" y="103.8" textLength="33.6" lengthAdjust="spacingAndGlyphs">45<tspan font-size="9.8" dy="-5.6">o</tspan><tspan dy="5.6">S</tspan></text><text class="ax" x="6.6" y="137.7" textLength="33.8" lengthAdjust="spacingAndGlyphs">60<tspan font-size="9.8" dy="-5.6">o</tspan><tspan dy="5.6">S</tspan></text><text class="ax" x="35.2" y="145.8" textLength="17.8" lengthAdjust="spacingAndGlyphs">0<tspan font-size="9.8" dy="-5.6">o</tspan><tspan dy="5.6"></tspan></text><text class="ax" x="107.9" y="145.8" textLength="34.8" lengthAdjust="spacingAndGlyphs">60<tspan font-size="9.8" dy="-5.6">o</tspan><tspan dy="5.6">E</tspan></text><text class="ax" x="184.4" y="145.8" textLength="42.4" lengthAdjust="spacingAndGlyphs">120<tspan font-size="9.8" dy="-5.6">o</tspan><tspan dy="5.6">E</tspan></text><text class="ax" x="263.3" y="145.8" textLength="47.4" lengthAdjust="spacingAndGlyphs">180<tspan font-size="9.8" dy="-5.6">o</tspan><tspan dy="5.6">W</tspan></text><text class="ax" x="343.8" y="145.8" textLength="46.8" lengthAdjust="spacingAndGlyphs">120<tspan font-size="9.8" dy="-5.6">o</tspan><tspan dy="5.6">W</tspan></text><text class="ax" x="429.5" y="145.8" textLength="39.3" lengthAdjust="spacingAndGlyphs">60<tspan font-size="9.8" dy="-5.6">o</tspan><tspan dy="5.6">W</tspan></text><text class="ax" x="522.8" y="145.8" textLength="17" lengthAdjust="spacingAndGlyphs">0<tspan font-size="9.8" dy="-5.6">o</tspan><tspan dy="5.6"></tspan></text><text class="lb" x="52.6" y="126.5" textLength="95.5" lengthAdjust="spacingAndGlyphs">a) Group 1</text></g><g transform="translate(0,185)"><g><g clip-path="url(#pc)"><rect x="43" y="0.8" width="486" height="129.4" fill="#f7f7f7"/><g filter="url(#bl)" fill="none" stroke-width="2"><path stroke="#4781bb" d="M475 81h12M471 83h20M469 85h24M469 87h24M469 89h22M111 91h8M473 91h14"/><path stroke="#5591c3" d="M477 77h12M469 79h26M465 81h10M487 81h12M463 83h8M491 83h10M463 85h6M493 85h8M463 87h6M493 87h8M109 89h10M463 89h6M491 89h10M93 91h18M119 91h8M465 91h8M487 91h12M103 93h22M467 93h28M475 95h12"/><path stroke="#60a2cb" d="M321 71h16M319 73h26M353 73h16M319 75h52M471 75h26M319 77h52M465 77h12M489 77h14M319 79h50M461 79h8M495 79h10M319 81h40M459 81h6M499 81h8M321 83h30M457 83h6M501 83h8M321 85h28M457 85h6M501 85h8M323 87h24M457 87h6M501 87h8M89 89h20M119 89h10M327 89h16M457 89h6M501 89h8M87 91h6M127 91h4M459 91h6M499 91h8M91 93h12M125 93h6M461 93h6M495 93h10M111 95h10M463 95h12M487 95h14M469 97h26"/><path stroke="#74b2d6" d="M125 41h22M123 43h24M123 45h20M311 59h4M305 61h22M303 63h32M303 65h38M303 67h44M111 69h22M303 69h58M107 71h30M305 71h16M337 71h34M473 71h24M103 73h36M305 73h14M345 73h8M369 73h6M465 73h40M103 75h36M305 75h14M371 75h4M461 75h10M497 75h12M101 77h38M307 77h12M371 77h4M457 77h8M503 77h10M103 79h34M309 79h10M369 79h6M455 79h6M505 79h10M103 81h34M309 81h10M359 81h14M453 81h6M507 81h10M105 83h28M311 83h10M351 83h18M453 83h4M509 83h8M101 85h32M313 85h8M349 85h14M451 85h6M509 85h8M89 87h44M315 87h8M347 87h12M451 87h6M509 87h8M83 89h6M129 89h8M317 89h10M343 89h12M453 89h4M509 89h8M83 91h4M131 91h6M321 91h30M453 91h6M507 91h8M85 93h6M131 93h4M325 93h20M455 93h6M505 93h8M97 95h14M121 95h10M457 95h6M501 95h10M461 97h8M495 97h12M465 99h38M473 101h20"/><path stroke="#98cde0" d="M279 17h4M135 37h8M121 39h32M115 41h10M147 41h8M113 43h10M147 43h8M109 45h14M143 45h10M107 47h42M105 49h36M107 51h22M297 51h12M111 53h8M293 53h26M293 55h34M293 57h40M109 59h24M293 59h18M315 59h24M103 61h38M293 61h12M327 61h18M97 63h50M295 63h8M335 63h14M93 65h56M295 65h8M341 65h14M91 67h60M297 67h6M347 67h18M479 67h14M89 69h22M133 69h20M297 69h6M361 69h12M467 69h40M87 71h20M137 71h16M297 71h8M371 71h6M461 71h12M497 71h16M87 73h16M139 73h14M299 73h6M375 73h4M457 73h8M505 73h12M87 75h16M139 75h14M299 75h6M375 75h6M453 75h8M509 75h10M87 77h14M139 77h14M301 77h6M375 77h6M451 77h6M513 77h10M87 79h16M137 79h14M301 79h8M375 79h4M449 79h6M515 79h8M87 81h16M137 81h14M303 81h6M373 81h6M447 81h6M517 81h8M87 83h18M133 83h16M303 83h8M369 83h8M447 83h6M517 83h8M85 85h16M133 85h14M305 85h8M363 85h12M447 85h4M517 85h8M81 87h8M133 87h12M307 87h8M359 87h12M447 87h4M517 87h8M79 89h4M137 89h8M309 89h8M355 89h12M447 89h6M517 89h8M79 91h4M137 91h6M313 91h8M351 91h12M447 91h6M515 91h10M81 93h4M135 93h6M317 93h8M345 93h12M449 93h6M513 93h10M87 95h10M131 95h8M321 95h30M451 95h6M511 95h10M103 97h28M331 97h8M453 97h8M507 97h10M455 99h10M503 99h12M459 101h14M493 101h16M465 103h38M479 105h12"/><path stroke="#b0d8e6" d="M265 7h34M245 9h58M237 11h68M233 13h72M231 15h72M229 17h50M283 17h20M229 19h72M231 21h68M233 23h62M237 25h56M243 27h48M249 29h40M255 31h32M261 33h24M265 35h20M119 37h16M143 37h14M269 37h16M111 39h10M153 39h6M271 39h18M107 41h8M155 41h6M273 41h22M103 43h10M155 43h6M273 43h28M99 45h10M153 45h8M273 45h34M95 47h12M149 47h12M273 47h42M91 49h14M141 49h20M275 49h46M87 51h20M129 51h30M277 51h20M309 51h20M85 53h26M119 53h36M279 53h14M319 53h16M83 55h72M281 55h12M327 55h14M83 57h74M283 57h10M333 57h14M81 59h28M133 59h26M285 59h8M339 59h12M81 61h22M141 61h20M287 61h6M345 61h12M79 63h18M147 63h16M289 63h6M349 63h14M79 65h14M149 65h14M291 65h4M355 65h14M469 65h36M77 67h14M151 67h14M291 67h6M365 67h10M461 67h18M493 67h22M77 69h12M153 69h12M293 69h4M373 69h6M455 69h12M507 69h14M77 71h10M153 71h12M293 71h4M377 71h4M451 71h10M513 71h12M77 73h10M153 73h12M295 73h4M379 73h4M447 73h10M517 73h10M77 75h10M153 75h10M295 75h4M381 75h4M445 75h8M519 75h10M77 77h10M153 77h10M297 77h4M381 77h4M445 77h6M523 77h8M77 79h10M151 79h10M297 79h4M379 79h6M443 79h6M523 79h10M77 81h10M151 81h10M299 81h4M379 81h6M441 81h6M525 81h8M77 83h10M149 83h10M299 83h4M377 83h8M441 83h6M525 83h10M77 85h8M147 85h10M299 85h6M375 85h8M441 85h6M525 85h10M77 87h4M145 87h12M247 87h8M301 87h6M371 87h12M441 87h6M525 87h10M75 89h4M145 89h10M241 89h18M303 89h6M367 89h14M441 89h6M525 89h8M75 91h4M143 91h10M237 91h26M305 91h8M363 91h14M443 91h4M525 91h8M75 93h6M141 93h10M235 93h28M307 93h10M357 93h16M443 93h6M523 93h8M79 95h8M139 95h8M233 95h32M311 95h10M351 95h16M445 95h6M521 95h10M87 97h16M131 97h12M231 97h34M317 97h14M339 97h18M445 97h8M517 97h12M97 99h40M231 99h34M323 99h22M447 99h8M515 99h10M109 101h20M231 101h32M451 101h8M509 101h14M231 103h32M453 103h12M503 103h16M233 105h28M457 105h22M491 105h22M235 107h22M465 107h42M241 109h10M475 109h24M495 119h12M491 121h20M493 123h18"/><path stroke="#c9e4ee" d="M253 1h48M233 3h74M225 5h86M221 7h44M299 7h14M217 9h28M303 9h10M215 11h22M305 11h8M213 13h20M305 13h8M211 15h20M303 15h10M211 17h18M303 17h8M209 19h20M301 19h8M209 21h22M299 21h8M211 23h22M295 23h10M213 25h24M293 25h10M219 27h24M291 27h10M227 29h22M289 29h10M235 31h20M287 31h12M241 33h20M285 33h14M119 35h44M247 35h18M285 35h16M105 37h14M157 37h8M249 37h20M285 37h18M99 39h12M159 39h6M251 39h20M289 39h16M95 41h12M161 41h4M253 41h20M295 41h16M91 43h12M161 43h6M253 43h20M301 43h14M85 45h14M161 45h8M253 45h20M307 45h14M81 47h14M161 47h10M251 47h22M315 47h12M77 49h14M161 49h14M251 49h24M321 49h14M73 51h14M159 51h22M249 51h28M329 51h12M71 53h14M155 53h32M247 53h32M335 53h12M69 55h14M155 55h36M247 55h34M341 55h10M69 57h14M157 57h32M247 57h36M347 57h10M69 59h12M159 59h24M245 59h40M351 59h12M67 61h14M161 61h20M245 61h42M357 61h12M67 63h12M163 63h16M247 63h22M279 63h10M363 63h10M461 63h52M67 65h12M163 65h14M247 65h20M283 65h8M369 65h10M453 65h16M505 65h18M67 67h10M165 67h12M249 67h16M285 67h6M375 67h8M449 67h12M515 67h14M67 69h10M165 69h12M249 69h14M287 69h6M379 69h6M445 69h10M521 69h12M67 71h10M165 71h10M249 71h14M289 71h4M381 71h6M443 71h8M525 71h10M67 73h10M165 73h10M249 73h14M291 73h4M383 73h6M441 73h6M527 73h8M69 75h8M163 75h10M247 75h16M293 75h2M385 75h6M439 75h6M529 75h6M69 77h8M163 77h10M243 77h22M293 77h4M385 77h6M439 77h6M531 77h4M69 79h8M161 79h10M241 79h24M293 79h4M385 79h8M437 79h6M533 79h2M69 81h8M161 81h10M237 81h30M295 81h4M385 81h8M437 81h4M533 81h2M71 83h6M159 83h10M233 83h36M295 83h4M385 83h8M437 83h4M71 85h6M157 85h10M231 85h40M297 85h2M383 85h8M437 85h4M71 87h6M157 87h10M229 87h18M255 87h16M297 87h4M383 87h8M437 87h4M69 89h6M155 89h10M227 89h14M259 89h14M297 89h6M381 89h10M437 89h4M533 89h2M69 91h6M153 91h10M225 91h12M263 91h10M299 91h6M377 91h12M437 91h6M533 91h2M71 93h4M151 93h10M223 93h12M263 93h12M299 93h8M373 93h14M437 93h6M531 93h4M73 95h6M147 95h10M223 95h10M265 95h10M301 95h10M367 95h16M439 95h6M531 95h4M75 97h12M143 97h12M221 97h10M265 97h10M305 97h12M357 97h22M439 97h6M529 97h6M79 99h18M137 99h14M221 99h10M265 99h10M309 99h14M345 99h24M441 99h6M525 99h10M81 101h28M129 101h18M221 101h10M263 101h12M317 101h36M443 101h8M523 101h12M85 103h60M221 103h10M263 103h10M445 103h8M519 103h14M87 105h56M221 105h12M261 105h12M447 105h10M513 105h16M89 107h52M221 107h14M257 107h14M449 107h16M507 107h18M91 109h48M223 109h18M251 109h18M453 109h22M499 109h22M93 111h44M225 111h40M457 111h62M93 113h42M227 113h36M463 113h56M93 115h40M233 115h24M467 115h54M95 117h34M469 117h54M103 119h18M471 119h24M507 119h20M471 121h20M511 121h18M473 123h20M511 123h16M477 125h48M485 127h34"/><path stroke="#e0eff5" d="M231 -5h74M219 -3h94M211 -1h106M207 1h46M301 1h20M201 3h32M307 3h16M199 5h26M311 5h12M195 7h26M313 7h10M193 9h24M313 9h10M191 11h24M313 11h10M191 13h22M313 13h8M189 15h22M313 15h6M189 17h22M311 17h6M187 19h22M309 19h6M185 21h24M307 21h6M183 23h28M305 23h6M181 25h32M303 25h6M175 27h44M301 27h6M163 29h64M299 29h8M149 31h34M217 31h18M299 31h8M123 33h54M229 33h12M299 33h8M89 35h30M163 35h12M237 35h10M301 35h8M83 37h22M165 37h8M241 37h8M303 37h8M79 39h20M165 39h6M243 39h8M305 39h10M75 41h20M165 41h6M243 41h10M311 41h8M73 43h18M167 43h6M243 43h10M315 43h10M69 45h16M169 45h6M241 45h12M321 45h10M69 47h12M171 47h10M239 47h12M327 47h10M67 49h10M175 49h14M235 49h16M335 49h8M65 51h8M181 51h20M229 51h20M341 51h8M65 53h6M187 53h60M347 53h10M63 55h6M191 55h56M351 55h10M61 57h8M189 57h58M357 57h10M61 59h8M183 59h62M363 59h10M467 59h10M59 61h8M181 61h64M369 61h10M453 61h70M59 63h8M179 63h68M269 63h10M373 63h12M447 63h14M513 63h22M57 65h10M177 65h70M267 65h16M379 65h10M443 65h10M523 65h12M57 67h10M177 67h20M217 67h32M265 67h20M383 67h8M441 67h8M529 67h6M57 69h10M177 69h16M221 69h28M263 69h24M385 69h8M439 69h6M533 69h2M57 71h10M175 71h16M223 71h26M263 71h26M387 71h8M437 71h6M59 73h8M175 73h14M223 73h26M263 73h14M285 73h6M389 73h8M437 73h4M59 75h10M173 75h14M223 75h24M263 75h14M287 75h6M391 75h8M435 75h4M61 77h8M173 77h12M223 77h20M265 77h12M289 77h4M391 77h8M435 77h4M61 79h8M171 79h12M221 79h20M265 79h12M291 79h2M393 79h6M433 79h4M63 81h6M171 81h10M219 81h18M267 81h10M291 81h4M393 81h6M433 81h4M63 83h8M169 83h10M219 83h14M269 83h8M293 83h2M393 83h6M433 83h4M65 85h6M167 85h12M217 85h14M271 85h8M293 85h4M391 85h8M433 85h4M65 87h6M167 87h10M215 87h14M271 87h8M293 87h4M391 87h8M433 87h4M67 89h2M165 89h10M215 89h12M273 89h6M293 89h4M391 89h6M433 89h4M67 91h2M163 91h12M213 91h12M273 91h6M295 91h4M389 91h8M433 91h4M67 93h4M161 93h12M213 93h10M275 93h6M295 93h4M387 93h8M433 93h4M67 95h6M157 95h12M211 95h12M275 95h6M295 95h6M383 95h10M433 95h6M67 97h8M155 97h10M211 97h10M275 97h6M295 97h10M379 97h12M435 97h4M67 99h12M151 99h8M211 99h10M275 99h6M297 99h12M369 99h18M435 99h6M69 101h12M147 101h8M211 101h10M275 101h8M299 101h18M353 101h30M437 101h6M69 103h16M145 103h8M209 103h12M273 103h10M303 103h68M437 103h8M533 103h2M69 105h18M143 105h8M209 105h12M273 105h10M317 105h30M439 105h8M529 105h6M67 107h22M141 107h8M209 107h12M271 107h10M439 107h10M525 107h10M65 109h26M139 109h12M209 109h14M269 109h12M441 109h12M521 109h14M63 111h30M137 111h14M211 111h14M265 111h14M443 111h14M519 111h16M59 113h34M135 113h18M211 113h16M263 113h14M445 113h18M519 113h16M55 115h38M133 115h24M213 115h20M257 115h18M447 115h20M521 115h14M51 117h44M129 117h32M215 117h58M449 117h20M523 117h12M49 119h54M121 119h44M217 119h52M451 119h20M527 119h8M49 121h116M221 121h44M451 121h20M529 121h6M53 123h108M229 123h28M453 123h20M527 123h8M61 125h94M457 125h20M525 125h10M75 127h68M461 127h24M519 127h16M467 129h64M479 131h42"/><path stroke="#eef3f5" d="M59 -5h172M305 -5h84M61 -3h158M313 -3h62M61 -1h150M317 -1h46M63 1h144M321 1h36M63 3h138M323 3h28M65 5h134M323 5h22M65 7h130M323 7h18M65 9h128M323 9h14M65 11h126M323 11h12M65 13h126M321 13h10M65 15h124M319 15h8M63 17h40M131 17h58M317 17h8M63 19h32M141 19h46M315 19h6M65 21h28M147 21h38M313 21h6M65 23h26M149 23h34M311 23h6M65 25h26M151 25h30M309 25h6M65 27h26M149 27h26M307 27h6M67 29h28M143 29h20M307 29h6M67 31h40M129 31h20M183 31h34M307 31h6M67 33h56M177 33h52M307 33h6M67 35h22M175 35h12M225 35h12M309 35h6M67 37h16M173 37h8M233 37h8M311 37h8M67 39h12M171 39h8M235 39h8M315 39h8M65 41h10M171 41h6M237 41h6M319 41h10M65 43h8M173 43h6M235 43h8M325 43h8M65 45h4M175 45h8M233 45h8M331 45h10M63 47h6M181 47h12M227 47h12M337 47h10M63 49h4M189 49h46M343 49h10M61 51h4M201 51h28M349 51h10M59 53h6M357 53h8M59 55h4M361 55h12M37 57h2M57 57h4M367 57h12M449 57h32M37 59h4M55 59h6M373 59h12M445 59h22M477 59h58M37 61h8M51 61h8M379 61h12M441 61h12M523 61h12M37 63h22M385 63h10M439 63h8M37 65h20M389 65h10M437 65h6M37 67h20M197 67h20M391 67h10M437 67h4M37 69h20M193 69h28M393 69h10M435 69h4M37 71h20M191 71h32M395 71h10M433 71h4M37 73h22M189 73h34M277 73h8M397 73h10M433 73h4M37 75h22M187 75h36M277 75h10M399 75h8M431 75h4M37 77h24M185 77h38M277 77h12M399 77h8M431 77h4M37 79h24M183 79h38M277 79h14M399 79h8M429 79h4M37 81h26M181 81h38M277 81h14M399 81h8M429 81h4M37 83h26M179 83h40M277 83h16M399 83h8M427 83h6M37 85h28M179 85h38M279 85h6M287 85h6M399 85h8M427 85h6M37 87h22M63 87h2M177 87h38M279 87h6M287 87h6M399 87h6M427 87h6M37 89h8M51 89h6M65 89h2M175 89h40M279 89h14M397 89h8M427 89h6M37 91h8M53 91h4M65 91h2M175 91h38M279 91h16M397 91h6M427 91h6M37 93h8M53 93h4M65 93h2M173 93h40M281 93h14M395 93h8M427 93h6M37 95h10M51 95h8M63 95h4M169 95h42M281 95h14M393 95h8M429 95h4M37 97h30M165 97h46M281 97h14M391 97h8M429 97h6M37 99h30M159 99h52M281 99h16M387 99h10M429 99h6M37 101h32M155 101h8M183 101h28M283 101h16M383 101h12M431 101h6M37 103h32M153 103h4M185 103h24M283 103h20M371 103h20M431 103h6M37 105h32M151 105h4M185 105h24M283 105h34M347 105h40M433 105h6M37 107h30M149 107h6M185 107h24M281 107h98M433 107h6M37 109h28M151 109h6M183 109h26M281 109h62M435 109h6M37 111h26M151 111h8M179 111h32M279 111h30M435 111h8M37 113h22M153 113h58M277 113h22M435 113h10M37 115h18M157 115h56M275 115h20M437 115h10M37 117h14M161 117h54M273 117h20M437 117h12M37 119h12M165 119h52M269 119h22M437 119h14M37 121h12M165 121h56M265 121h24M437 121h14M37 123h16M161 123h68M257 123h30M437 123h16M37 125h24M155 125h132M437 125h20M37 127h38M143 127h142M437 127h24M37 129h246M437 129h30M531 129h4M37 131h246M437 131h42M521 131h14M37 133h244M437 133h98M37 135h242M435 135h100M37 137h240M435 137h100"/><path stroke="#f7f4f0" d="M37 -5h22M389 -5h146M37 -3h24M375 -3h160M37 -1h24M363 -1h172M37 1h26M357 1h178M37 3h26M351 3h184M37 5h28M345 5h190M37 7h28M341 7h194M37 9h28M337 9h198M37 11h28M335 11h200M37 13h28M331 13h68M421 13h114M37 15h28M327 15h12M425 15h110M37 17h8M51 17h12M103 17h28M325 17h8M429 17h106M37 19h6M53 19h10M95 19h46M321 19h8M431 19h62M507 19h28M37 21h4M55 21h10M93 21h54M319 21h6M433 21h56M511 21h24M37 23h2M57 23h8M91 23h24M125 23h24M317 23h6M435 23h52M513 23h22M37 25h2M59 25h6M91 25h16M133 25h18M315 25h6M437 25h48M515 25h20M37 27h2M59 27h6M91 27h16M133 27h16M313 27h6M437 27h48M517 27h18M61 29h6M95 29h20M125 29h18M313 29h6M439 29h46M515 29h20M61 31h6M107 31h22M313 31h6M441 31h44M515 31h20M63 33h4M313 33h6M441 33h48M513 33h22M63 35h4M187 35h38M315 35h8M441 35h52M509 35h26M63 37h4M181 37h14M221 37h12M319 37h6M443 37h92M63 39h4M179 39h8M227 39h8M323 39h8M443 39h92M63 41h2M177 41h10M229 41h8M329 41h6M443 41h92M61 43h4M179 43h10M227 43h8M333 43h10M445 43h90M61 45h4M183 45h16M219 45h14M341 45h8M445 45h44M517 45h18M37 47h2M61 47h2M193 47h34M347 47h8M445 47h34M525 47h10M37 49h2M59 49h4M353 49h10M445 49h28M531 49h4M37 51h4M57 51h4M359 51h10M443 51h28M533 51h2M37 53h6M55 53h4M365 53h12M443 53h32M531 53h4M37 55h8M53 55h6M373 55h12M441 55h44M525 55h10M39 57h18M379 57h14M439 57h10M481 57h54M41 59h14M385 59h14M437 59h8M45 61h6M391 61h12M437 61h4M395 63h12M435 63h4M399 65h10M433 65h4M401 67h10M431 67h6M403 69h10M431 69h4M405 71h8M429 71h4M407 73h8M427 73h6M407 75h10M425 75h6M407 77h12M423 77h8M407 79h22M407 81h22M407 83h20M285 85h2M407 85h20M59 87h4M285 87h2M405 87h22M45 89h6M57 89h2M405 89h22M45 91h8M57 91h2M403 91h24M45 93h8M57 93h2M403 93h10M419 93h8M47 95h4M59 95h4M401 95h10M421 95h8M399 97h8M423 97h6M397 99h8M423 99h6M163 101h20M395 101h8M425 101h6M157 103h28M391 103h10M425 103h6M155 105h6M173 105h12M387 105h12M427 105h6M155 107h6M173 107h12M379 107h18M427 107h6M157 109h8M169 109h14M343 109h52M427 109h8M159 111h20M309 111h82M427 111h8M299 113h88M429 113h6M295 115h46M429 115h8M293 117h38M429 117h8M291 119h36M429 119h8M289 121h36M427 121h10M287 123h38M427 123h10M287 125h38M427 125h10M285 127h42M425 127h12M283 129h48M423 129h14M283 131h54M375 131h20M421 131h16M281 133h70M361 133h42M417 133h20M279 135h156M277 137h158"/><path stroke="#f8e6da" d="M399 13h22M339 15h66M413 15h12M45 17h6M333 17h62M421 17h8M43 19h10M329 19h10M425 19h6M493 19h14M41 21h2M51 21h4M325 21h8M427 21h6M489 21h22M39 23h4M53 23h4M115 23h10M323 23h6M429 23h6M487 23h26M39 25h2M55 25h4M107 25h26M321 25h6M431 25h6M485 25h30M39 27h2M57 27h2M107 27h26M319 27h6M433 27h4M485 27h32M37 29h4M57 29h4M115 29h10M319 29h4M433 29h6M485 29h30M37 31h4M59 31h2M319 31h6M433 31h8M485 31h30M37 33h4M59 33h4M319 33h6M435 33h6M489 33h24M37 35h2M59 35h4M323 35h6M435 35h6M493 35h16M37 37h2M59 37h4M195 37h26M325 37h8M435 37h8M37 39h2M59 39h4M187 39h40M331 39h6M437 39h6M37 41h2M59 41h4M187 41h42M335 41h8M437 41h6M37 43h4M59 43h2M189 43h38M343 43h8M437 43h8M37 45h4M59 45h2M199 45h20M349 45h8M437 45h8M489 45h28M39 47h2M57 47h4M355 47h10M437 47h8M479 47h46M39 49h4M55 49h4M363 49h10M437 49h8M473 49h58M41 51h4M55 51h2M369 51h12M437 51h6M471 51h20M513 51h20M43 53h12M377 53h14M437 53h6M475 53h18M511 53h20M45 55h8M385 55h16M435 55h6M485 55h40M393 57h14M435 57h4M399 59h12M433 59h4M403 61h10M433 61h4M407 63h8M431 63h4M409 65h8M429 65h4M411 67h8M427 67h4M413 69h18M413 71h16M415 73h12M417 75h8M419 77h4M63 89h2M63 93h2M413 93h6M411 95h10M407 97h16M405 99h18M403 101h22M401 103h24M161 105h12M399 105h28M161 107h12M397 107h12M417 107h10M165 109h4M395 109h12M419 109h8M391 111h14M419 111h8M387 113h18M419 113h10M341 115h62M419 115h10M331 117h72M419 117h10M327 119h78M417 119h12M325 121h82M415 121h12M325 123h102M325 125h102M327 127h98M331 129h92M337 131h38M395 131h26M351 133h10M403 133h14"/><path stroke="#f5d3c0" d="M405 15h8M395 17h12M411 17h10M339 19h58M419 19h6M43 21h8M333 21h14M379 21h6M423 21h4M43 23h2M51 23h2M329 23h8M425 23h4M41 25h2M51 25h4M327 25h6M427 25h4M41 27h2M53 27h4M325 27h6M429 27h4M41 29h2M55 29h2M323 29h6M429 29h4M41 31h2M55 31h4M325 31h6M431 31h2M41 33h2M57 33h2M325 33h8M431 33h4M39 35h4M57 35h2M329 35h6M431 35h4M39 37h4M57 37h2M333 37h6M431 37h4M39 39h4M57 39h2M337 39h8M431 39h6M39 41h4M57 41h2M343 41h10M433 41h4M41 43h2M57 43h2M351 43h8M433 43h4M41 45h2M55 45h4M357 45h10M433 45h4M41 47h4M55 47h2M365 47h10M433 47h4M43 49h4M51 49h4M373 49h14M433 49h4M45 51h10M381 51h24M433 51h4M491 51h22M391 53h20M433 53h4M493 53h18M401 55h12M431 55h4M407 57h8M431 57h4M411 59h6M429 59h4M413 61h6M427 61h6M415 63h16M417 65h12M419 67h8M59 89h2M59 93h2M409 107h8M407 109h12M405 111h14M405 113h14M403 115h16M403 117h16M405 119h12M407 121h8"/><path stroke="#efb79e" d="M407 17h4M397 19h8M413 19h6M347 21h32M385 21h12M419 21h4M45 23h6M337 23h50M421 23h4M43 25h8M333 25h10M423 25h4M43 27h2M51 27h2M331 27h8M425 27h4M43 29h2M51 29h4M329 29h8M427 29h2M43 31h2M53 31h2M331 31h6M427 31h4M43 33h2M53 33h4M333 33h6M427 33h4M43 35h2M53 35h4M335 35h8M427 35h4M43 37h2M55 37h2M339 37h8M427 37h4M43 39h2M55 39h2M345 39h10M429 39h2M43 41h2M55 41h2M353 41h8M429 41h4M43 43h2M53 43h4M359 43h10M429 43h4M43 45h4M51 45h4M367 45h12M429 45h4M45 47h10M375 47h36M429 47h4M47 49h4M387 49h28M429 49h4M405 51h12M429 51h4M411 53h8M427 53h6M413 55h8M425 55h6M415 57h16M417 59h12M419 61h8M61 89h2M59 91h2M63 91h2M61 93h2"/><path stroke="#e8a080" d="M405 19h8M397 21h6M413 21h6M387 23h10M419 23h2M343 25h44M421 25h2M45 27h6M339 27h14M423 27h2M45 29h6M337 29h10M423 29h4M45 31h8M337 31h10M423 31h4M45 33h8M339 33h10M425 33h2M45 35h8M343 35h8M425 35h2M45 37h10M347 37h10M423 37h4M45 39h10M355 39h8M423 39h6M45 41h10M361 41h10M423 41h6M45 43h8M369 43h14M409 43h20M47 45h4M379 45h50M411 47h18M415 49h14M417 51h12M419 53h8M421 55h4"/><path stroke="#e08468" d="M403 21h10M397 23h6M413 23h6M387 25h10M417 25h4M353 27h36M419 27h4M347 29h18M421 29h2M347 31h12M421 31h2M349 33h10M421 33h4M351 35h12M421 35h4M357 37h12M419 37h4M363 39h12M415 39h8M371 41h52M383 43h26"/><path stroke="#d9664f" d="M403 23h10M397 25h4M413 25h4M389 27h8M417 27h2M365 29h26M417 29h4M359 31h22M417 31h4M359 33h16M417 33h4M363 35h14M415 35h6M369 37h16M413 37h6M375 39h40M61 91h2"/><path stroke="#d24d44" d="M401 25h12M397 27h6M413 27h4M391 29h8M415 29h2M381 31h16M415 31h2M375 33h20M413 33h4M377 35h22M409 35h6M385 37h28"/><path stroke="#cb3a3b" d="M403 27h10M399 29h16M397 31h8M409 31h6M395 33h18M399 35h10"/><path stroke="#b51e30" d="M405 31h4"/></g><path fill="none" stroke="#111" stroke-width="1.9" stroke-dasharray="1.9 1.475" d="M153.4 106.5h8.7M173.7 106.5h8.7M170.3 101.4h12M58.9 96.5h8.7M170.3 96.5h15.4M372.8 52.4h22.1M372.8 48.9h22.1M372.8 45.4h22.1M372.8 41.9h25.5M366.1 38.5h35.6M342.4 35.1h62.6M106.2 31.7h1.9M335.7 31.7h69.4M106.2 28.4h1.9M332.3 28.4h86.3M328.9 25h89.7M463.9 25h15.4M328.9 21.6h35.6M379.6 21.6h39M463.9 21.6h15.4M403.2 18.2h15.4M403.2 14.8h15.4"/><use href="#land" fill="#000"/><ellipse cx="87.5" cy="30" rx="1.3" ry="1.6" fill="#fff"/></g><path d="M43,7.9h4M529,7.9h-4M43,28.4h4M529,28.4h-4M43,48.9h4M529,48.9h-4M43,70.9h4M529,70.9h-4M43,96.5h4M529,96.5h-4M124,0.8v4M124,130.2v-4M205,0.8v4M205,130.2v-4M286,0.8v4M286,130.2v-4M367,0.8v4M367,130.2v-4M448,0.8v4M448,130.2v-4" stroke="#000" stroke-width="1.3" fill="none"/><rect x="43" y="0.8" width="486" height="129.4" fill="none" stroke="#000" stroke-width="1.7"/></g><text class="ax" x="5" y="15.8" textLength="35.4" lengthAdjust="spacingAndGlyphs">15<tspan font-size="9.8" dy="-5.6">o</tspan><tspan dy="5.6">N</tspan></text><text class="ax" x="20.5" y="35.7" textLength="16.9" lengthAdjust="spacingAndGlyphs">0<tspan font-size="9.8" dy="-5.6">o</tspan><tspan dy="5.6"></tspan></text><text class="ax" x="7.7" y="56.2" textLength="32.7" lengthAdjust="spacingAndGlyphs">15<tspan font-size="9.8" dy="-5.6">o</tspan><tspan dy="5.6">S</tspan></text><text class="ax" x="6.5" y="78.2" textLength="33.9" lengthAdjust="spacingAndGlyphs">30<tspan font-size="9.8" dy="-5.6">o</tspan><tspan dy="5.6">S</tspan></text><text class="ax" x="6.8" y="103.8" textLength="33.6" lengthAdjust="spacingAndGlyphs">45<tspan font-size="9.8" dy="-5.6">o</tspan><tspan dy="5.6">S</tspan></text><text class="ax" x="6.6" y="137.7" textLength="33.8" lengthAdjust="spacingAndGlyphs">60<tspan font-size="9.8" dy="-5.6">o</tspan><tspan dy="5.6">S</tspan></text><text class="ax" x="35.2" y="145.8" textLength="17.8" lengthAdjust="spacingAndGlyphs">0<tspan font-size="9.8" dy="-5.6">o</tspan><tspan dy="5.6"></tspan></text><text class="ax" x="107.9" y="145.8" textLength="34.8" lengthAdjust="spacingAndGlyphs">60<tspan font-size="9.8" dy="-5.6">o</tspan><tspan dy="5.6">E</tspan></text><text class="ax" x="184.4" y="145.8" textLength="42.4" lengthAdjust="spacingAndGlyphs">120<tspan font-size="9.8" dy="-5.6">o</tspan><tspan dy="5.6">E</tspan></text><text class="ax" x="263.3" y="145.8" textLength="47.4" lengthAdjust="spacingAndGlyphs">180<tspan font-size="9.8" dy="-5.6">o</tspan><tspan dy="5.6">W</tspan></text><text class="ax" x="343.8" y="145.8" textLength="46.8" lengthAdjust="spacingAndGlyphs">120<tspan font-size="9.8" dy="-5.6">o</tspan><tspan dy="5.6">W</tspan></text><text class="ax" x="429.5" y="145.8" textLength="39.3" lengthAdjust="spacingAndGlyphs">60<tspan font-size="9.8" dy="-5.6">o</tspan><tspan dy="5.6">W</tspan></text><text class="ax" x="522.8" y="145.8" textLength="17" lengthAdjust="spacingAndGlyphs">0<tspan font-size="9.8" dy="-5.6">o</tspan><tspan dy="5.6"></tspan></text><text class="lb" x="52.6" y="126.5" textLength="95.5" lengthAdjust="spacingAndGlyphs">b) Group 2</text></g><g transform="translate(0,365)"><g transform="matrix(1.00514,0,0,1,-1.121,0)"><g clip-path="url(#pc)"><rect x="43" y="0.8" width="486" height="129.4" fill="#f7f7f7"/><g filter="url(#bl)" fill="none" stroke-width="2"><path stroke="#3a6aab" d="M457 89h2"/><path stroke="#4781bb" d="M455 85h4M455 87h4M455 89h2M455 91h4M455 93h4"/><path stroke="#5591c3" d="M455 83h4M455 95h4"/><path stroke="#60a2cb" d="M153 67h6M153 69h8M459 89h2M459 91h2M455 97h4"/><path stroke="#74b2d6" d="M153 63h14M149 65h24M147 67h6M159 67h16M147 69h6M161 69h14M149 71h24M153 73h14M455 81h4M459 85h2M453 87h2M459 87h2M453 89h2M473 89h14M453 91h2M469 91h22M453 93h2M459 93h2M467 93h26M459 95h2M469 95h26M459 97h2M471 97h26M455 99h4"/><path stroke="#98cde0" d="M163 57h6M149 59h26M143 61h36M143 63h10M167 63h14M143 65h6M173 65h10M143 67h4M175 67h8M143 69h4M175 69h8M145 71h4M173 71h10M147 73h6M167 73h16M151 75h30M163 77h16M455 79h4M453 83h2M459 83h2M453 85h2M469 85h20M461 87h36M461 89h12M487 89h14M461 91h8M491 91h12M461 93h6M493 93h12M453 95h2M461 95h8M495 95h14M453 97h2M461 97h10M497 97h18M453 99h2M459 99h48M455 101h6M465 101h30M457 103h2M479 103h4"/><path stroke="#b0d8e6" d="M389 25h12M389 27h12M389 29h10M49 37h4M47 39h6M47 41h8M185 41h10M47 43h6M171 43h38M49 45h4M167 45h44M49 47h2M101 47h18M165 47h42M99 49h32M161 49h34M99 51h44M155 51h30M101 53h82M105 55h78M109 57h54M169 57h16M115 59h34M175 59h10M121 61h22M179 61h8M271 61h16M129 63h14M181 63h8M267 63h34M133 65h10M183 65h6M267 65h42M137 67h6M183 67h8M269 67h44M139 69h4M183 69h8M269 69h46M141 71h4M183 71h10M273 71h44M143 73h4M183 73h10M275 73h44M147 75h4M181 75h10M279 75h42M151 77h12M179 77h10M283 77h40M455 77h4M157 79h30M287 79h38M163 81h20M291 81h36M453 81h2M459 81h2M167 83h12M293 83h36M461 83h34M297 85h34M451 85h2M461 85h8M489 85h16M299 87h36M449 87h4M497 87h12M303 89h34M447 89h6M501 89h12M305 91h36M447 91h6M503 91h10M309 93h34M447 93h6M505 93h12M313 95h34M447 95h6M509 95h16M317 97h34M447 97h6M515 97h14M321 99h32M449 99h4M507 99h16M327 101h26M451 101h4M461 101h4M495 101h16M337 103h12M453 103h4M459 103h20M483 103h22M455 105h44"/><path stroke="#c9e4ee" d="M47 1h6M43 3h14M43 5h14M41 7h18M39 9h22M39 11h22M389 11h12M37 13h26M377 13h36M37 15h26M371 15h48M37 17h28M367 17h56M37 19h30M365 19h60M37 21h30M363 21h64M37 23h32M361 23h68M37 25h38M361 25h28M401 25h28M37 27h52M165 27h14M361 27h28M401 27h28M37 29h64M161 29h22M263 29h10M361 29h28M399 29h30M37 31h76M157 31h32M251 31h34M361 31h66M37 33h86M155 33h50M245 33h46M363 33h62M37 35h94M151 35h146M365 35h52M37 37h12M53 37h248M371 37h36M37 39h10M53 39h250M377 39h18M37 41h10M55 41h130M195 41h108M37 43h10M53 43h118M209 43h88M37 45h12M53 45h114M211 45h82M37 47h12M51 47h50M119 47h46M207 47h80M37 49h62M131 49h30M195 49h38M249 49h34M37 51h62M143 51h12M185 51h38M253 51h28M37 53h64M183 53h28M255 53h28M37 55h68M183 55h18M253 55h34M37 57h72M185 57h14M251 57h46M37 59h78M185 59h14M249 59h62M37 61h30M85 61h36M187 61h12M249 61h22M287 61h32M37 63h28M103 63h26M189 63h12M249 63h18M301 63h24M37 65h26M115 65h18M189 65h14M251 65h16M309 65h18M37 67h26M125 67h12M191 67h12M251 67h18M313 67h14M37 69h24M131 69h8M191 69h14M253 69h16M315 69h14M37 71h24M135 71h6M193 71h12M255 71h18M317 71h12M37 73h22M139 73h4M193 73h12M259 73h16M319 73h12M37 75h20M141 75h6M191 75h14M261 75h18M321 75h12M455 75h4M39 77h18M145 77h6M189 77h14M265 77h18M323 77h10M39 79h16M149 79h8M187 79h14M267 79h20M325 79h10M453 79h2M459 79h2M41 81h12M153 81h10M183 81h14M271 81h20M327 81h10M447 81h6M461 81h38M41 83h12M155 83h12M179 83h14M275 83h18M329 83h12M439 83h14M495 83h20M39 85h14M157 85h32M279 85h18M331 85h12M435 85h16M505 85h20M37 87h26M159 87h26M283 87h16M335 87h12M431 87h18M509 87h24M37 89h36M161 89h20M285 89h18M337 89h14M429 89h18M513 89h22M37 91h44M163 91h14M289 91h16M341 91h16M427 91h20M513 91h22M37 93h46M167 93h4M291 93h18M343 93h22M391 93h22M423 93h24M517 93h18M37 95h42M293 95h20M347 95h100M525 95h10M37 97h28M297 97h20M351 97h96M529 97h6M299 99h22M353 99h96M523 99h12M301 101h26M353 101h98M511 101h24M305 103h32M349 103h104M505 103h30M309 105h108M435 105h20M499 105h32M315 107h96M445 107h80M327 109h74M455 109h60"/><path stroke="#e0eff5" d="M37 -5h498M37 -3h498M37 -1h498M37 1h10M53 1h482M37 3h6M57 3h478M37 5h6M57 5h478M37 7h4M59 7h476M37 9h2M61 9h474M37 11h2M61 11h328M401 11h134M63 13h314M413 13h122M63 15h308M419 15h116M65 17h302M423 17h112M67 19h298M425 19h110M67 21h296M427 21h108M69 23h292M429 23h106M75 25h286M429 25h106M89 27h76M179 27h182M429 27h106M101 29h60M183 29h80M273 29h88M429 29h106M113 31h44M189 31h62M285 31h76M427 31h108M123 33h32M205 33h40M291 33h72M425 33h110M131 35h20M297 35h68M417 35h118M301 37h70M407 37h128M303 39h74M395 39h140M303 41h232M297 43h112M415 43h120M293 45h106M423 45h112M287 47h106M427 47h108M233 49h16M283 49h40M429 49h106M223 51h30M281 51h30M431 51h104M211 53h44M283 53h28M433 53h102M201 55h52M287 55h30M433 55h102M199 57h52M297 57h28M433 57h102M199 59h50M311 59h22M431 59h104M67 61h18M199 61h50M319 61h18M431 61h104M65 63h38M201 63h48M325 63h14M431 63h46M515 63h20M63 65h52M203 65h48M327 65h12M431 65h28M533 65h2M63 67h62M203 67h48M327 67h12M431 67h14M61 69h38M113 69h18M205 69h48M329 69h10M61 71h28M125 71h10M205 71h50M329 71h10M59 73h26M131 73h8M205 73h54M331 73h8M455 73h4M57 75h24M135 75h6M205 75h56M333 75h8M423 75h20M453 75h2M459 75h2M37 77h2M57 77h22M139 77h6M203 77h26M243 77h22M333 77h10M419 77h36M459 77h10M37 79h2M55 79h22M141 79h8M201 79h24M249 79h18M335 79h10M415 79h38M461 79h44M531 79h4M37 81h4M53 81h24M143 81h10M197 81h26M253 81h18M337 81h10M411 81h36M499 81h36M37 83h4M53 83h24M145 83h10M193 83h24M257 83h18M341 83h10M407 83h32M515 83h20M37 85h2M53 85h24M147 85h10M189 85h24M259 85h20M343 85h12M403 85h32M525 85h10M63 87h18M147 87h12M185 87h20M263 87h20M347 87h14M393 87h38M533 87h2M73 89h14M145 89h16M181 89h18M267 89h18M351 89h22M377 89h52M81 91h12M143 91h20M177 91h18M271 91h18M357 91h70M83 93h14M141 93h26M171 93h20M273 93h18M365 93h26M413 93h10M79 95h18M139 95h50M275 95h18M65 97h32M133 97h54M277 97h20M37 99h62M127 99h58M279 99h20M37 101h148M281 101h20M37 103h146M283 103h22M37 105h144M285 105h24M417 105h18M531 105h4M37 107h142M287 107h28M411 107h34M525 107h10M37 109h138M291 109h36M401 109h54M515 109h20M37 111h42M141 111h28M297 111h238M37 113h24M309 113h226M37 115h14M345 115h72M483 115h52M37 117h10M379 117h20M503 117h32M37 119h6M511 119h24M37 121h6M513 121h22M37 123h10M515 123h20M37 125h14M515 125h20M37 127h24M149 127h36M511 127h24M37 129h46M121 129h78M507 129h28M37 131h178M383 131h28M499 131h36M37 133h268M363 133h70M483 133h52M37 135h498M37 137h498"/><path stroke="#eef3f5" d="M409 43h6M399 45h24M393 47h14M415 47h12M323 49h78M421 49h8M311 51h86M423 51h8M311 53h82M425 53h8M317 55h42M361 55h30M425 55h8M325 57h34M367 57h24M425 57h8M333 59h28M373 59h18M423 59h8M337 61h22M381 61h8M423 61h8M339 63h16M421 63h10M477 63h38M339 65h14M417 65h14M459 65h74M339 67h12M411 67h20M445 67h30M517 67h18M99 69h14M339 69h10M407 69h58M527 69h8M89 71h36M339 71h10M403 71h60M531 71h4M85 73h46M339 73h10M403 73h52M459 73h6M531 73h4M81 75h16M123 75h12M341 75h8M401 75h22M443 75h10M461 75h16M527 75h8M79 77h14M129 77h10M229 77h14M343 77h8M399 77h20M469 77h66M77 79h14M133 79h8M225 79h24M345 79h8M397 79h18M505 79h26M77 81h12M135 81h8M223 81h30M347 81h10M393 81h18M77 83h12M135 83h10M217 83h40M351 83h12M387 83h20M77 85h12M135 85h12M213 85h46M355 85h48M81 87h12M133 87h14M205 87h58M361 87h32M87 89h12M131 89h14M199 89h68M373 89h4M93 91h14M125 91h18M195 91h76M97 93h44M191 93h34M245 93h28M97 95h42M189 95h28M249 95h26M97 97h36M187 97h26M253 97h24M99 99h28M185 99h26M255 99h24M185 101h24M257 101h24M183 103h24M257 103h26M181 105h26M259 105h26M179 107h28M259 107h28M175 109h34M257 109h34M79 111h62M169 111h40M257 111h40M61 113h152M255 113h54M51 115h166M251 115h94M417 115h66M47 117h180M243 117h136M399 117h104M43 119h396M471 119h40M43 121h266M355 121h76M483 121h30M47 123h260M361 123h68M485 123h30M51 125h258M361 125h70M485 125h30M61 127h88M185 127h134M353 127h86M477 127h34M83 129h38M199 129h308M215 131h168M411 131h88M305 133h58M433 133h50"/><path stroke="#f7f4f0" d="M407 47h8M401 49h20M397 51h10M415 51h8M393 53h10M417 53h8M359 55h2M391 55h10M419 55h6M359 57h8M391 57h12M419 57h6M361 59h12M391 59h12M417 59h6M359 61h22M389 61h34M355 63h66M353 65h64M351 67h60M475 67h42M349 69h16M377 69h30M465 69h62M349 71h12M383 71h20M463 71h24M509 71h22M349 73h12M385 73h18M465 73h30M505 73h26M97 75h26M349 75h12M385 75h16M477 75h50M93 77h36M351 77h12M383 77h16M91 79h14M119 79h14M353 79h18M377 79h20M89 81h12M123 81h12M357 81h36M89 83h12M123 83h12M363 83h24M89 85h12M123 85h12M93 87h14M119 87h14M99 89h32M107 91h18M225 93h20M217 95h32M213 97h40M211 99h44M209 101h48M207 103h50M207 105h52M207 107h52M209 109h48M209 111h48M213 113h42M217 115h34M227 117h16M439 119h32M309 121h46M431 121h52M307 123h54M429 123h56M309 125h52M431 125h54M319 127h34M439 127h38"/><path stroke="#f8e6da" d="M407 51h8M403 53h14M401 55h18M403 57h16M403 59h14M365 69h12M361 71h22M487 71h22M361 73h24M495 73h10M361 75h24M363 77h20M105 79h14M371 79h6M101 81h22M101 83h22M101 85h22M107 87h12"/></g><path fill="none" stroke="#111" stroke-width="1.9" stroke-dasharray="1.9 1.475" d="M484.2 45.4h42.4M386.3 41.9h12M484.2 41.9h42.4M183.8 38.5h32.3M342.4 38.5h59.3M484.2 38.5h42.4M177.1 35.1h39M322.2 35.1h82.9M484.2 35.1h42.4M123 31.7h96.4M288.4 31.7h120M460.6 31.7h59.3M123 28.4h99.8M288.4 28.4h120M460.6 28.4h39M123 25h99.8M288.4 25h133.5M460.6 25h39M123 21.6h99.8M295.2 21.6h126.8M460.6 21.6h39M123 18.2h99.8M335.7 18.2h86.3M123 14.8h99.8M339.1 14.8h82.9M146.7 11.4h76.2M339.1 11.4h82.9M150.1 7.9h72.8M150.1 4.4h72.8"/><use href="#land" fill="#000"/><ellipse cx="87.5" cy="30" rx="1.3" ry="1.6" fill="#fff"/></g><path d="M43,7.9h4M529,7.9h-4M43,28.4h4M529,28.4h-4M43,48.9h4M529,48.9h-4M43,70.9h4M529,70.9h-4M43,96.5h4M529,96.5h-4M124,0.8v4M124,130.2v-4M205,0.8v4M205,130.2v-4M286,0.8v4M286,130.2v-4M367,0.8v4M367,130.2v-4M448,0.8v4M448,130.2v-4" stroke="#000" stroke-width="1.3" fill="none"/><rect x="43" y="0.8" width="486" height="129.4" fill="none" stroke="#000" stroke-width="1.7"/></g><text class="ax" x="5" y="15.8" textLength="35.4" lengthAdjust="spacingAndGlyphs">15<tspan font-size="9.8" dy="-5.6">o</tspan><tspan dy="5.6">N</tspan></text><text class="ax" x="20.5" y="35.7" textLength="16.9" lengthAdjust="spacingAndGlyphs">0<tspan font-size="9.8" dy="-5.6">o</tspan><tspan dy="5.6"></tspan></text><text class="ax" x="7.7" y="56.2" textLength="32.7" lengthAdjust="spacingAndGlyphs">15<tspan font-size="9.8" dy="-5.6">o</tspan><tspan dy="5.6">S</tspan></text><text class="ax" x="6.5" y="78.2" textLength="33.9" lengthAdjust="spacingAndGlyphs">30<tspan font-size="9.8" dy="-5.6">o</tspan><tspan dy="5.6">S</tspan></text><text class="ax" x="6.8" y="103.8" textLength="33.6" lengthAdjust="spacingAndGlyphs">45<tspan font-size="9.8" dy="-5.6">o</tspan><tspan dy="5.6">S</tspan></text><text class="ax" x="6.6" y="137.7" textLength="33.8" lengthAdjust="spacingAndGlyphs">60<tspan font-size="9.8" dy="-5.6">o</tspan><tspan dy="5.6">S</tspan></text><text class="ax" x="35.2" y="145.8" textLength="17.8" lengthAdjust="spacingAndGlyphs">0<tspan font-size="9.8" dy="-5.6">o</tspan><tspan dy="5.6"></tspan></text><text class="ax" x="107.9" y="145.8" textLength="34.8" lengthAdjust="spacingAndGlyphs">60<tspan font-size="9.8" dy="-5.6">o</tspan><tspan dy="5.6">E</tspan></text><text class="ax" x="184.4" y="145.8" textLength="42.4" lengthAdjust="spacingAndGlyphs">120<tspan font-size="9.8" dy="-5.6">o</tspan><tspan dy="5.6">E</tspan></text><text class="ax" x="263.3" y="145.8" textLength="47.4" lengthAdjust="spacingAndGlyphs">180<tspan font-size="9.8" dy="-5.6">o</tspan><tspan dy="5.6">W</tspan></text><text class="ax" x="343.8" y="145.8" textLength="46.8" lengthAdjust="spacingAndGlyphs">120<tspan font-size="9.8" dy="-5.6">o</tspan><tspan dy="5.6">W</tspan></text><text class="ax" x="429.5" y="145.8" textLength="39.3" lengthAdjust="spacingAndGlyphs">60<tspan font-size="9.8" dy="-5.6">o</tspan><tspan dy="5.6">W</tspan></text><text class="ax" x="522.8" y="145.8" textLength="17" lengthAdjust="spacingAndGlyphs">0<tspan font-size="9.8" dy="-5.6">o</tspan><tspan dy="5.6"></tspan></text><text class="lb" x="52.6" y="126.5" textLength="95.5" lengthAdjust="spacingAndGlyphs">c) Group 3</text></g><g transform="translate(0,545)"><g transform="matrix(1.00514,0,0,1,-1.121,0)"><g clip-path="url(#pc)"><rect x="43" y="0.8" width="486" height="129.4" fill="#f7f7f7"/><g filter="url(#bl)" fill="none" stroke-width="2"><path stroke="#74b2d6" d="M397 119h10M397 121h10M401 123h2"/><path stroke="#98cde0" d="M401 27h10M399 29h14M397 31h16M399 33h14M405 35h4M397 115h10M395 117h16M393 119h4M407 119h6M393 121h4M407 121h6M393 123h8M403 123h8M397 125h10"/><path stroke="#b0d8e6" d="M405 23h4M397 25h18M361 27h40M411 27h6M355 29h44M413 29h4M357 31h40M413 31h4M367 33h32M413 33h4M393 35h12M409 35h8M399 37h14M405 39h4M173 79h6M171 81h10M171 83h10M395 113h14M393 115h4M407 115h6M391 117h4M411 117h6M389 119h4M413 119h6M389 121h4M413 121h6M389 123h4M411 123h6M391 125h6M407 125h8M395 127h14"/><path stroke="#c9e4ee" d="M401 21h12M391 23h14M409 23h8M347 25h50M415 25h4M333 27h28M417 27h4M329 29h26M417 29h4M333 31h24M417 31h6M345 33h22M417 33h4M357 35h36M417 35h4M47 37h6M375 37h24M413 37h6M45 39h8M395 39h10M409 39h8M45 41h10M401 41h14M45 43h10M45 45h10M47 47h6M47 49h4M171 77h12M169 79h4M179 79h6M167 81h4M181 81h4M167 83h4M181 83h4M169 85h14M395 111h14M391 113h4M409 113h6M389 115h4M413 115h8M387 117h4M417 117h14M387 119h2M419 119h30M387 121h2M419 121h32M387 123h2M417 123h26M387 125h4M415 125h8M389 127h6M409 127h8M393 129h18"/><path stroke="#e0eff5" d="M407 17h2M397 19h20M365 21h36M413 21h6M337 23h54M417 23h6M321 25h26M419 25h6M313 27h20M421 27h6M311 29h18M421 29h6M49 31h2M313 31h20M423 31h4M45 33h10M321 33h24M421 33h6M43 35h12M337 35h20M421 35h4M491 35h16M43 37h4M53 37h4M353 37h22M419 37h4M491 37h18M43 39h2M53 39h4M367 39h28M417 39h4M491 39h18M43 41h2M55 41h2M387 41h14M415 41h4M495 41h12M43 43h2M55 43h2M395 43h22M43 45h2M55 45h2M401 45h14M43 47h4M53 47h4M407 47h2M43 49h4M51 49h6M45 51h10M47 53h6M177 53h8M177 55h10M175 57h12M175 59h12M175 61h12M177 63h10M177 65h8M177 67h8M175 69h10M173 71h12M169 73h18M167 75h22M165 77h6M183 77h6M165 79h4M185 79h4M163 81h4M185 81h6M165 83h2M185 83h4M165 85h4M183 85h4M169 87h16M67 95h8M63 97h16M63 99h16M67 101h10M395 109h16M389 111h6M409 111h8M387 113h4M415 113h12M385 115h4M421 115h30M383 117h4M431 117h30M383 119h4M449 119h16M383 121h4M451 121h16M383 123h4M443 123h24M383 125h4M423 125h38M385 127h4M417 127h28M387 129h6M411 129h8M391 131h22"/><path stroke="#eef3f5" d="M407 13h4M399 15h18M391 17h16M409 17h12M353 19h44M417 19h6M329 21h36M419 21h8M313 23h24M423 23h6M303 25h18M425 25h6M483 25h28M47 27h6M297 27h16M427 27h8M475 27h44M45 29h10M295 29h16M427 29h8M469 29h54M43 31h6M51 31h6M295 31h18M427 31h8M467 31h58M41 33h4M55 33h4M301 33h20M427 33h8M465 33h64M41 35h2M55 35h4M311 35h26M425 35h6M465 35h26M507 35h22M39 37h4M57 37h2M175 37h8M329 37h24M423 37h6M467 37h24M509 37h22M39 39h4M57 39h2M171 39h16M347 39h20M421 39h6M469 39h22M509 39h22M39 41h4M57 41h4M169 41h22M359 41h28M419 41h6M471 41h24M507 41h24M39 43h4M57 43h4M169 43h24M371 43h24M417 43h6M473 43h56M39 45h4M57 45h2M167 45h28M387 45h14M415 45h6M477 45h50M39 47h4M57 47h2M167 47h28M395 47h12M409 47h10M483 47h42M41 49h2M57 49h2M165 49h32M399 49h18M493 49h26M41 51h4M55 51h4M165 51h32M405 51h8M43 53h4M53 53h4M165 53h12M185 53h12M43 55h12M165 55h12M187 55h12M45 57h8M165 57h10M187 57h12M165 59h10M187 59h12M165 61h10M187 61h12M165 63h12M187 63h12M165 65h12M185 65h12M165 67h12M185 67h12M165 69h10M185 69h12M165 71h8M185 71h12M163 73h6M187 73h8M163 75h4M189 75h6M161 77h4M189 77h6M161 79h4M189 79h6M67 81h8M159 81h4M191 81h4M63 83h14M161 83h4M189 83h6M67 85h8M163 85h2M187 85h6M165 87h4M185 87h6M169 89h18M67 93h8M59 95h8M75 95h6M57 97h6M79 97h6M57 99h6M79 99h6M57 101h10M77 101h8M61 103h22M67 105h10M393 107h20M389 109h6M411 109h10M385 111h4M417 111h20M383 113h4M427 113h30M381 115h4M451 115h16M379 117h4M461 117h12M379 119h4M465 119h12M379 121h4M467 121h12M379 123h4M467 123h12M379 125h4M461 125h16M381 127h4M445 127h28M383 129h4M419 129h44M385 131h6M413 131h14M389 133h28M395 135h14"/><path stroke="#f7f4f0" d="M409 5h2M401 7h16M399 9h20M393 11h30M385 13h22M411 13h14M355 15h44M417 15h10M487 15h24M333 17h58M421 17h10M473 17h50M317 19h36M423 19h14M463 19h66M45 21h8M305 21h24M427 21h108M43 23h14M295 23h18M429 23h106M41 25h18M171 25h10M289 25h14M431 25h52M511 25h24M39 27h8M53 27h8M167 27h20M283 27h14M435 27h40M519 27h16M39 29h6M55 29h6M163 29h28M281 29h14M435 29h34M523 29h12M37 31h6M57 31h4M161 31h32M281 31h14M435 31h32M525 31h10M37 33h4M59 33h4M161 33h34M285 33h16M435 33h30M529 33h6M37 35h4M59 35h4M159 35h38M291 35h20M431 35h34M529 35h6M37 37h2M59 37h4M159 37h16M183 37h16M299 37h30M429 37h38M531 37h4M37 39h2M59 39h4M159 39h12M187 39h14M317 39h30M427 39h42M531 39h4M37 41h2M61 41h2M157 41h12M191 41h12M337 41h22M425 41h46M531 41h4M37 43h2M61 43h2M157 43h12M193 43h10M349 43h22M423 43h10M451 43h22M529 43h6M37 45h2M59 45h4M157 45h10M195 45h10M357 45h30M421 45h10M455 45h22M527 45h8M37 47h2M59 47h4M157 47h10M195 47h12M365 47h30M419 47h8M461 47h22M525 47h10M37 49h4M59 49h4M157 49h8M197 49h10M377 49h22M417 49h8M467 49h26M519 49h16M37 51h4M59 51h2M157 51h8M197 51h10M389 51h16M413 51h10M477 51h58M37 53h6M57 53h4M157 53h8M197 53h10M395 53h26M491 53h44M39 55h4M55 55h6M157 55h8M199 55h8M399 55h20M509 55h24M39 57h6M53 57h6M157 57h8M199 57h8M405 57h10M41 59h16M157 59h8M199 59h8M43 61h12M157 61h8M199 61h8M157 63h8M199 63h8M157 65h8M197 65h10M157 67h8M197 67h10M157 69h8M197 69h10M157 71h8M197 71h8M157 73h6M195 73h10M157 75h6M195 75h10M65 77h10M155 77h6M195 77h10M57 79h24M155 79h6M195 79h8M55 81h12M75 81h10M155 81h4M195 81h8M55 83h8M77 83h8M157 83h4M195 83h8M57 85h10M75 85h8M159 85h4M193 85h8M61 87h16M161 87h4M191 87h8M165 89h4M187 89h8M65 91h8M169 91h24M59 93h8M75 93h6M169 93h22M53 95h6M81 95h6M169 95h22M51 97h6M85 97h6M171 97h20M49 99h8M85 99h8M173 99h16M49 101h8M85 101h8M51 103h10M83 103h8M395 103h16M53 105h14M77 105h12M389 105h30M57 107h28M387 107h6M413 107h16M61 109h20M383 109h6M421 109h24M381 111h4M437 111h22M379 113h4M457 113h14M375 115h6M467 115h12M375 117h4M473 117h12M373 119h6M477 119h12M371 121h8M479 121h12M371 123h8M479 123h12M371 125h8M477 125h14M373 127h8M473 127h18M375 129h8M463 129h24M377 131h8M427 131h54M379 133h10M417 133h56M383 135h12M409 135h36M385 137h34"/><path stroke="#f8e6da" d="M37 -5h180M287 -5h248M37 -3h174M295 -3h240M37 -1h168M303 -1h232M37 1h164M307 1h228M37 3h162M313 3h222M37 5h160M317 5h92M411 5h124M37 7h158M319 7h82M417 7h118M37 9h158M319 9h80M419 9h116M37 11h158M319 11h74M423 11h112M37 13h156M315 13h70M425 13h110M37 15h158M309 15h46M427 15h60M511 15h24M37 17h158M301 17h32M431 17h42M523 17h12M37 19h158M295 19h22M437 19h26M529 19h6M37 21h8M53 21h144M287 21h18M37 23h6M57 23h42M129 23h70M281 23h14M37 25h4M59 25h28M133 25h38M181 25h20M275 25h14M37 27h2M61 27h18M137 27h30M187 27h16M269 27h14M37 29h2M61 29h14M139 29h24M191 29h14M267 29h14M61 31h12M139 31h22M193 31h14M265 31h16M63 33h8M141 33h20M195 33h14M267 33h18M63 35h8M141 35h18M197 35h14M271 35h20M63 37h8M143 37h16M199 37h14M275 37h24M63 39h8M143 39h16M201 39h14M283 39h34M63 41h6M143 41h14M203 41h12M295 41h42M63 43h6M145 43h12M203 43h14M309 43h40M433 43h18M63 45h6M145 45h12M205 45h14M325 45h32M431 45h24M63 47h6M145 47h12M207 47h12M337 47h28M427 47h34M63 49h4M145 49h12M207 49h12M345 49h32M425 49h42M61 51h6M145 51h12M207 51h14M351 51h38M423 51h54M61 53h6M145 53h12M207 53h14M357 53h38M421 53h70M37 55h2M61 55h4M147 55h10M207 55h14M365 55h34M419 55h20M477 55h32M533 55h2M37 57h2M59 57h6M147 57h10M207 57h12M373 57h32M415 57h18M497 57h38M37 59h4M57 59h8M147 59h10M207 59h12M383 59h46M509 59h26M37 61h6M55 61h8M147 61h10M207 61h12M391 61h34M519 61h16M37 63h26M147 63h10M207 63h12M395 63h26M527 63h8M37 65h24M147 65h10M207 65h10M399 65h20M37 67h24M147 67h10M207 67h10M403 67h10M37 69h26M147 69h10M207 69h10M37 71h34M147 71h10M205 71h12M37 73h42M147 73h10M205 73h10M37 75h48M147 75h10M205 75h10M37 77h28M75 77h14M147 77h8M205 77h10M37 79h20M81 79h10M147 79h8M203 79h12M37 81h18M85 81h8M147 81h8M203 81h10M39 83h16M85 83h6M151 83h6M203 83h10M47 85h10M83 85h4M153 85h6M201 85h12M55 87h6M77 87h6M157 87h4M199 87h12M57 89h22M161 89h4M195 89h14M57 91h8M73 91h8M163 91h6M193 91h16M51 93h8M81 93h4M163 93h6M191 93h20M43 95h10M87 95h4M159 95h10M191 95h20M37 97h14M91 97h6M153 97h18M191 97h22M397 97h16M37 99h12M93 99h10M147 99h26M189 99h24M393 99h26M37 101h12M93 101h12M143 101h72M389 101h36M37 103h14M91 103h16M139 103h76M385 103h10M411 103h20M37 105h16M89 105h20M137 105h80M383 105h6M419 105h20M37 107h20M85 107h28M129 107h90M381 107h6M429 107h22M37 109h24M81 109h142M377 109h6M445 109h18M37 111h188M375 111h6M459 111h16M37 113h194M371 113h8M471 113h12M37 115h202M369 115h6M479 115h12M37 117h252M365 117h10M485 117h12M37 119h264M361 119h12M489 119h12M37 121h272M357 121h14M491 121h14M37 123h280M351 123h20M491 123h18M533 123h2M37 125h296M337 125h34M491 125h24M525 125h10M37 127h336M491 127h44M37 129h338M487 129h48M37 131h340M481 131h54M37 133h342M473 133h62M37 135h346M445 135h90M37 137h348M419 137h116"/><path stroke="#f5d3c0" d="M217 -5h70M211 -3h84M205 -1h98M201 1h106M199 3h114M197 5h120M195 7h38M267 7h52M195 9h30M275 9h44M195 11h24M281 11h38M193 13h24M283 13h32M195 15h20M281 15h28M195 17h18M279 17h22M195 19h18M275 19h20M197 21h18M269 21h18M99 23h30M199 23h18M263 23h18M87 25h46M201 25h18M255 25h20M79 27h58M203 27h20M249 27h20M75 29h64M205 29h28M239 29h28M73 31h66M207 31h58M71 33h70M209 33h58M71 35h70M211 35h60M71 37h72M213 37h62M71 39h72M215 39h68M69 41h74M215 41h80M69 43h76M217 43h92M69 45h76M219 45h106M69 47h76M219 47h118M67 49h78M219 49h126M67 51h78M221 51h130M67 53h78M221 53h136M65 55h82M221 55h144M439 55h38M65 57h42M121 57h26M219 57h34M275 57h98M433 57h64M65 59h38M125 59h22M219 59h28M283 59h100M429 59h28M491 59h18M63 61h38M127 61h20M219 61h24M291 61h100M425 61h24M503 61h16M63 63h38M127 63h20M219 63h22M297 63h98M421 63h22M511 63h16M61 65h40M127 65h20M217 65h20M305 65h18M345 65h54M419 65h20M517 65h18M61 67h40M127 67h20M217 67h18M357 67h46M413 67h22M523 67h12M63 69h40M127 69h20M217 69h16M365 69h68M525 69h10M71 71h36M125 71h22M217 71h14M369 71h62M529 71h6M79 73h32M123 73h24M215 73h14M373 73h56M531 73h4M85 75h62M215 75h12M377 75h50M533 75h2M89 77h58M215 77h10M379 77h48M533 77h2M91 79h56M215 79h10M381 79h44M93 81h54M213 81h10M383 81h42M37 83h2M91 83h12M135 83h16M213 83h8M383 83h42M37 85h10M87 85h6M145 85h8M213 85h8M385 85h40M37 87h18M83 87h4M153 87h4M211 87h8M385 87h42M49 89h8M79 89h4M157 89h4M209 89h10M385 89h42M49 91h8M81 91h4M157 91h6M209 91h10M385 91h44M533 91h2M37 93h14M85 93h4M155 93h8M211 93h10M281 93h12M385 93h44M533 93h2M37 95h6M91 95h6M145 95h14M211 95h10M277 95h18M385 95h46M531 95h4M97 97h56M213 97h10M275 97h24M383 97h14M413 97h20M531 97h4M103 99h44M213 99h10M271 99h30M383 99h10M419 99h18M529 99h6M105 101h38M215 101h10M269 101h34M381 101h8M425 101h16M529 101h6M107 103h32M215 103h14M265 103h40M379 103h6M431 103h16M527 103h8M109 105h28M217 105h16M261 105h46M377 105h6M439 105h16M525 105h10M113 107h16M219 107h22M253 107h56M373 107h8M451 107h14M525 107h10M223 109h90M371 109h6M463 109h14M523 109h12M225 111h92M367 111h8M475 111h16M521 111h14M231 113h90M363 113h8M483 113h20M515 113h20M239 115h88M355 115h14M491 115h44M289 117h76M497 117h38M301 119h60M501 119h34M309 121h48M505 121h30M317 123h34M509 123h24M333 125h4M515 125h10"/><path stroke="#efb79e" d="M233 7h34M225 9h50M219 11h62M217 13h66M215 15h66M213 17h66M213 19h62M215 21h54M217 23h46M219 25h36M223 27h26M233 29h6M107 57h14M253 57h22M103 59h22M247 59h36M457 59h34M101 61h26M243 61h48M449 61h20M487 61h16M101 63h26M241 63h56M443 63h14M501 63h10M101 65h26M237 65h68M323 65h22M439 65h12M507 65h10M101 67h26M235 67h122M435 67h12M513 67h10M103 69h24M233 69h132M433 69h10M517 69h8M107 71h18M231 71h138M431 71h10M519 71h10M111 73h12M229 73h144M429 73h10M523 73h8M227 75h12M257 75h72M357 75h20M427 75h10M523 75h10M225 77h10M263 77h60M363 77h16M427 77h10M525 77h8M225 79h6M265 79h54M367 79h14M425 79h12M525 79h10M223 81h6M267 81h48M371 81h12M425 81h10M527 81h8M103 83h32M221 83h6M269 83h44M373 83h10M425 83h10M527 83h8M93 85h12M125 85h20M221 85h4M269 85h42M375 85h10M425 85h10M527 85h8M87 87h6M143 87h10M219 87h6M269 87h42M375 87h10M427 87h10M527 87h8M37 89h12M83 89h4M149 89h8M219 89h6M269 89h42M377 89h8M427 89h10M525 89h10M37 91h12M85 91h4M151 91h6M219 91h6M269 91h42M377 91h8M429 91h10M525 91h8M89 93h6M143 93h12M221 93h4M269 93h12M293 93h18M377 93h8M429 93h10M523 93h10M97 95h48M221 95h4M267 95h10M295 95h16M377 95h8M431 95h10M523 95h8M223 97h4M265 97h10M299 97h12M377 97h6M433 97h12M521 97h10M223 99h6M263 99h8M301 99h12M375 99h8M437 99h10M519 99h10M225 101h8M259 101h10M303 101h10M373 101h8M441 101h12M517 101h12M229 103h8M255 103h10M305 103h10M371 103h8M447 103h12M515 103h12M233 105h28M307 105h12M369 105h8M455 105h14M511 105h14M241 107h12M309 107h12M367 107h6M465 107h18M507 107h18M313 109h12M363 109h8M477 109h46M317 111h14M355 111h12M491 111h30M321 113h42M503 113h12M327 115h28"/><path stroke="#e8a080" d="M469 61h18M457 63h16M487 63h14M451 65h10M499 65h8M447 67h8M505 67h8M443 69h8M511 69h6M441 71h8M513 71h6M439 73h8M515 73h8M239 75h18M329 75h28M437 75h8M517 75h6M235 77h28M323 77h40M437 77h6M519 77h6M231 79h8M255 79h10M319 79h14M355 79h12M437 79h6M521 79h4M229 81h6M259 81h8M315 81h12M361 81h10M435 81h8M521 81h6M227 83h4M261 83h8M313 83h12M363 83h10M435 83h8M521 83h6M105 85h20M225 85h4M263 85h6M311 85h10M367 85h8M435 85h8M521 85h6M93 87h6M129 87h14M225 87h4M263 87h6M311 87h8M369 87h6M437 87h6M519 87h8M87 89h6M141 89h8M225 89h4M265 89h4M311 89h8M369 89h8M437 89h8M519 89h6M89 91h4M141 91h10M225 91h2M263 91h6M311 91h6M371 91h6M439 91h6M519 91h6M95 93h8M125 93h18M225 93h4M263 93h6M311 93h6M371 93h6M439 93h8M517 93h6M225 95h4M263 95h4M311 95h6M371 95h6M441 95h8M515 95h8M227 97h4M261 97h4M311 97h8M371 97h6M445 97h8M513 97h8M229 99h4M257 99h6M313 99h6M369 99h6M447 99h10M511 99h8M233 101h6M253 101h6M313 101h8M367 101h6M453 101h10M507 101h10M237 103h18M315 103h8M365 103h6M459 103h12M501 103h14M319 105h8M363 105h6M469 105h42M321 107h10M357 107h10M483 107h24M325 109h14M349 109h14M331 111h24"/><path stroke="#e08468" d="M473 63h14M461 65h12M489 65h10M455 67h8M499 67h6M451 69h8M505 69h6M449 71h6M509 71h4M447 73h6M511 73h4M445 75h6M513 75h4M443 77h6M515 77h4M239 79h16M333 79h22M443 79h6M515 79h6M235 81h6M251 81h8M327 81h34M443 81h4M515 81h6M231 83h4M257 83h4M325 83h10M355 83h8M443 83h4M515 83h6M229 85h4M259 85h4M321 85h8M359 85h8M443 85h6M515 85h6M99 87h30M229 87h2M259 87h4M319 87h8M361 87h8M443 87h6M515 87h4M93 89h6M127 89h14M229 89h2M261 89h4M319 89h6M363 89h6M445 89h4M513 89h6M93 91h8M125 91h16M227 91h4M261 91h2M317 91h8M365 91h6M445 91h6M513 91h6M103 93h22M229 93h2M259 93h4M317 93h6M365 93h6M447 93h6M511 93h6M229 95h4M259 95h4M317 95h6M365 95h6M449 95h8M509 95h6M231 97h4M257 97h4M319 97h6M365 97h6M453 97h8M505 97h8M233 99h6M253 99h4M319 99h6M363 99h6M457 99h8M501 99h10M239 101h14M321 101h6M361 101h6M463 101h12M493 101h14M323 103h8M359 103h6M471 103h30M327 105h8M353 105h10M331 107h26M339 109h10"/><path stroke="#d9664f" d="M473 65h16M463 67h10M491 67h8M459 69h6M499 69h6M455 71h6M503 71h6M453 73h4M507 73h4M451 75h4M509 75h4M449 77h4M511 77h4M449 79h4M511 79h4M241 81h10M447 81h6M511 81h4M235 83h6M251 83h6M335 83h20M447 83h6M511 83h4M233 85h4M255 85h4M329 85h14M345 85h14M449 85h4M511 85h4M231 87h4M257 87h2M327 87h8M355 87h6M449 87h4M509 87h6M99 89h28M231 89h2M257 89h4M325 89h6M357 89h6M449 89h6M509 89h4M101 91h24M231 91h2M257 91h4M325 91h6M359 91h6M451 91h6M507 91h6M231 93h4M257 93h2M323 93h6M359 93h6M453 93h6M505 93h6M233 95h2M255 95h4M323 95h6M359 95h6M457 95h6M501 95h8M235 97h4M251 97h6M325 97h6M359 97h6M461 97h8M497 97h8M239 99h14M325 99h6M357 99h6M465 99h36M327 101h8M355 101h6M475 101h18M331 103h10M349 103h10M335 105h18"/><path stroke="#d24d44" d="M473 67h18M465 69h6M493 69h6M461 71h4M499 71h4M457 73h6M503 73h4M455 75h4M505 75h4M453 77h6M507 77h4M453 79h4M507 79h4M453 81h4M507 81h4M241 83h10M453 83h4M507 83h4M237 85h6M249 85h6M343 85h2M453 85h4M507 85h4M235 87h4M253 87h4M335 87h20M453 87h6M505 87h4M233 89h4M255 89h2M331 89h26M455 89h6M503 89h6M233 91h4M255 91h2M331 91h6M351 91h8M457 91h6M501 91h6M235 93h2M253 93h4M329 93h8M353 93h6M459 93h8M497 93h8M235 95h4M251 95h4M329 95h8M353 95h6M463 95h10M493 95h8M239 97h12M331 97h6M353 97h6M469 97h28M331 99h10M349 99h8M335 101h20M341 103h8"/><path stroke="#cb3a3b" d="M471 69h22M465 71h6M493 71h6M463 73h4M497 73h6M459 75h6M501 75h4M459 77h4M503 77h4M457 79h4M503 79h4M457 81h4M503 81h4M457 83h4M503 83h4M243 85h6M457 85h6M503 85h4M239 87h14M459 87h4M501 87h4M237 89h4M251 89h4M461 89h4M499 89h4M237 91h4M251 91h4M337 91h14M463 91h6M495 91h6M237 93h4M249 93h4M337 93h16M467 93h10M489 93h8M239 95h12M337 95h16M473 95h20M337 97h16M341 99h8"/><path stroke="#b51e30" d="M471 71h22M467 73h6M493 73h4M465 75h4M497 75h4M463 77h4M499 77h4M461 79h4M499 79h4M461 81h4M499 81h4M461 83h4M499 83h4M463 85h4M497 85h6M463 87h6M495 87h6M241 89h10M465 89h8M491 89h8M241 91h10M469 91h26M241 93h8M477 93h12"/><path stroke="#9a1428" d="M473 73h20M469 75h4M491 75h6M467 77h4M495 77h4M465 79h4M495 79h4M465 81h4M495 81h4M465 83h6M495 83h4M467 85h6M493 85h4M469 87h8M487 87h8M473 89h18"/><path stroke="#6e0d26" d="M473 75h18M471 77h24M469 79h26M469 81h26M471 83h24M473 85h20M477 87h10"/></g><path fill="none" stroke="#111" stroke-width="1.9" stroke-dasharray="1.9 1.475" d="M42 123.7h484.5M42 117.6h484.5M42 111.9h484.5M42 106.5h484.5M42 101.4h484.5M42 96.5h484.5M42 91.9h484.5M42 87.4h484.5M42 83h484.5M42 78.9h484.5M42 74.8h484.5M42 70.9h484.5M42 67h484.5M42 63.2h484.5M42 59.6h484.5M42 55.9h484.5M42 52.4h484.5M42 48.9h484.5M42 45.4h295.5M382.9 45.4h143.7M42 41.9h268.5M399.8 41.9h126.8M42 38.5h238.2M409.9 38.5h116.7M42 35.1h170.7M423.4 35.1h103.2M42 31.7h52.5M150.1 31.7h62.6M423.4 31.7h103.2M42 28.4h52.5M150.1 28.4h62.6M423.4 28.4h103.2M42 25h52.5M150.1 25h62.6M423.4 25h103.2M42 21.6h52.5M150.1 21.6h62.6M423.4 21.6h103.2M42 18.2h52.5M150.1 18.2h62.6M423.4 18.2h103.2M42 14.8h52.5M150.1 14.8h62.6M423.4 14.8h103.2M42 11.4h52.5M150.1 11.4h376.5M42 7.9h52.5M150.1 7.9h376.5M42 4.4h52.5M150.1 4.4h376.5"/><use href="#land" fill="#000"/><ellipse cx="87.5" cy="30" rx="1.3" ry="1.6" fill="#fff"/></g><path d="M43,7.9h4M529,7.9h-4M43,28.4h4M529,28.4h-4M43,48.9h4M529,48.9h-4M43,70.9h4M529,70.9h-4M43,96.5h4M529,96.5h-4M124,0.8v4M124,130.2v-4M205,0.8v4M205,130.2v-4M286,0.8v4M286,130.2v-4M367,0.8v4M367,130.2v-4M448,0.8v4M448,130.2v-4" stroke="#000" stroke-width="1.3" fill="none"/><rect x="43" y="0.8" width="486" height="129.4" fill="none" stroke="#000" stroke-width="1.7"/></g><text class="ax" x="5" y="15.8" textLength="35.4" lengthAdjust="spacingAndGlyphs">15<tspan font-size="9.8" dy="-5.6">o</tspan><tspan dy="5.6">N</tspan></text><text class="ax" x="20.5" y="35.7" textLength="16.9" lengthAdjust="spacingAndGlyphs">0<tspan font-size="9.8" dy="-5.6">o</tspan><tspan dy="5.6"></tspan></text><text class="ax" x="7.7" y="56.2" textLength="32.7" lengthAdjust="spacingAndGlyphs">15<tspan font-size="9.8" dy="-5.6">o</tspan><tspan dy="5.6">S</tspan></text><text class="ax" x="6.5" y="78.2" textLength="33.9" lengthAdjust="spacingAndGlyphs">30<tspan font-size="9.8" dy="-5.6">o</tspan><tspan dy="5.6">S</tspan></text><text class="ax" x="6.8" y="103.8" textLength="33.6" lengthAdjust="spacingAndGlyphs">45<tspan font-size="9.8" dy="-5.6">o</tspan><tspan dy="5.6">S</tspan></text><text class="ax" x="6.6" y="137.7" textLength="33.8" lengthAdjust="spacingAndGlyphs">60<tspan font-size="9.8" dy="-5.6">o</tspan><tspan dy="5.6">S</tspan></text><text class="ax" x="35.2" y="145.8" textLength="17.8" lengthAdjust="spacingAndGlyphs">0<tspan font-size="9.8" dy="-5.6">o</tspan><tspan dy="5.6"></tspan></text><text class="ax" x="107.9" y="145.8" textLength="34.8" lengthAdjust="spacingAndGlyphs">60<tspan font-size="9.8" dy="-5.6">o</tspan><tspan dy="5.6">E</tspan></text><text class="ax" x="184.4" y="145.8" textLength="42.4" lengthAdjust="spacingAndGlyphs">120<tspan font-size="9.8" dy="-5.6">o</tspan><tspan dy="5.6">E</tspan></text><text class="ax" x="263.3" y="145.8" textLength="47.4" lengthAdjust="spacingAndGlyphs">180<tspan font-size="9.8" dy="-5.6">o</tspan><tspan dy="5.6">W</tspan></text><text class="ax" x="343.8" y="145.8" textLength="46.8" lengthAdjust="spacingAndGlyphs">120<tspan font-size="9.8" dy="-5.6">o</tspan><tspan dy="5.6">W</tspan></text><text class="ax" x="429.5" y="145.8" textLength="39.3" lengthAdjust="spacingAndGlyphs">60<tspan font-size="9.8" dy="-5.6">o</tspan><tspan dy="5.6">W</tspan></text><text class="ax" x="522.8" y="145.8" textLength="17" lengthAdjust="spacingAndGlyphs">0<tspan font-size="9.8" dy="-5.6">o</tspan><tspan dy="5.6"></tspan></text><text class="lb" x="52.6" y="126.5" textLength="95.5" lengthAdjust="spacingAndGlyphs">d) Group 4</text></g><g transform="translate(0,725)"><g transform="matrix(1.00514,0,0,1,-1.121,0)"><g clip-path="url(#pc)"><rect x="43" y="0.8" width="486" height="129.4" fill="#f7f7f7"/><g filter="url(#bl)" fill="none" stroke-width="2"><path stroke="#3a6aab" d="M405 25h4M405 27h4M487 67h4M483 69h12M485 71h8"/><path stroke="#4781bb" d="M403 21h8M399 23h14M397 25h8M409 25h6M397 27h8M409 27h6M399 29h14M403 31h10M479 65h18M475 67h12M491 67h12M475 69h8M495 69h8M475 71h10M493 71h10M479 73h22"/><path stroke="#5591c3" d="M341 7h14M341 9h16M405 17h4M399 19h14M393 21h10M411 21h4M387 23h12M413 23h4M271 25h20M383 25h14M415 25h2M269 27h22M389 27h8M415 27h2M273 29h14M393 29h6M413 29h4M397 31h6M413 31h4M401 33h14M407 35h4M477 63h22M473 65h6M497 65h8M471 67h4M503 67h6M469 69h6M503 69h6M471 71h4M503 71h6M473 73h6M501 73h6M475 75h30M483 77h14M135 93h6"/><path stroke="#60a2cb" d="M329 5h40M323 7h18M355 7h20M321 9h20M357 9h20M323 11h52M325 13h48M327 15h46M399 15h14M329 17h54M391 17h14M409 17h8M329 19h70M413 19h6M331 21h62M415 21h4M271 23h28M337 23h50M417 23h4M265 25h6M291 25h12M347 25h36M417 25h4M265 27h4M291 27h10M357 27h32M417 27h4M267 29h6M287 29h10M369 29h24M417 29h4M277 31h8M389 31h8M417 31h2M395 33h6M415 33h2M401 35h6M411 35h4M405 37h8M477 61h24M469 63h8M499 63h8M467 65h6M505 65h6M465 67h6M509 67h6M465 69h4M509 69h6M465 71h6M509 71h6M467 73h6M507 73h6M469 75h6M505 75h6M473 77h10M497 77h10M481 79h20M135 91h8M133 93h2M141 93h2"/><path stroke="#74b2d6" d="M325 3h48M317 5h12M369 5h14M313 7h10M375 7h14M311 9h10M377 9h20M399 9h6M309 11h14M375 11h38M307 13h18M373 13h44M185 15h14M305 15h22M373 15h26M413 15h6M181 17h22M299 17h30M383 17h8M417 17h4M179 19h26M285 19h44M419 19h2M181 21h24M271 21h60M419 21h4M183 23h22M263 23h8M299 23h38M421 23h2M185 25h18M261 25h4M303 25h44M421 25h2M191 27h6M261 27h4M301 27h56M421 27h2M261 29h6M297 29h72M421 29h2M267 31h10M285 31h16M351 31h38M419 31h4M385 33h10M417 33h4M395 35h6M415 35h4M399 37h6M413 37h4M405 39h10M477 59h22M467 61h10M501 61h8M463 63h6M507 63h8M461 65h6M511 65h6M461 67h4M515 67h6M461 69h4M515 69h6M463 71h2M515 71h6M465 73h2M513 73h6M467 75h2M511 75h8M469 77h4M507 77h8M255 79h8M471 79h10M501 79h10M251 81h18M477 81h28M253 83h12M99 87h4M99 89h6M133 91h2M143 91h2M131 93h2M143 93h2M135 95h6M505 123h6"/><path stroke="#98cde0" d="M323 1h50M311 3h14M373 3h16M307 5h10M383 5h24M303 7h10M389 7h24M159 9h12M301 9h10M397 9h2M405 9h12M155 11h46M299 11h10M413 11h6M153 13h54M295 13h12M417 13h4M151 15h34M199 15h10M289 15h16M419 15h4M151 17h30M203 17h10M281 17h18M421 17h4M151 19h28M205 19h10M269 19h16M421 19h6M155 21h26M205 21h10M261 21h10M423 21h4M159 23h24M205 23h10M257 23h6M423 23h4M167 25h18M203 25h12M255 25h6M423 25h4M173 27h18M197 27h16M255 27h6M423 27h4M179 29h30M257 29h4M423 29h4M185 31h20M261 31h6M301 31h50M423 31h2M273 33h112M421 33h2M371 35h24M419 35h4M395 37h4M417 37h4M399 39h6M415 39h4M403 41h12M475 57h22M465 59h12M499 59h10M461 61h6M509 61h8M459 63h4M515 63h6M457 65h4M517 65h8M457 67h4M521 67h6M457 69h4M521 69h6M459 71h4M521 71h6M463 73h2M519 73h8M463 75h4M519 75h6M255 77h8M465 77h4M515 77h8M243 79h12M263 79h10M467 79h4M511 79h8M241 81h10M269 81h8M469 81h8M505 81h10M243 83h10M265 83h10M473 83h38M251 85h16M481 85h22M97 87h2M103 87h2M97 89h2M131 91h2M145 91h2M145 93h2M133 95h2M141 95h4M505 117h2M495 119h24M493 121h28M493 123h12M511 123h10M497 125h22M505 127h6"/><path stroke="#b0d8e6" d="M319 -1h58M305 1h18M373 1h26M299 3h12M389 3h24M155 5h42M297 5h10M407 5h12M151 7h52M295 7h8M413 7h10M147 9h12M171 9h36M293 9h8M417 9h8M145 11h10M201 11h10M289 11h10M419 11h8M143 13h10M207 13h8M283 13h12M421 13h8M141 15h10M209 15h8M277 15h12M423 15h6M139 17h12M213 17h8M267 17h14M425 17h6M139 19h12M215 19h8M259 19h10M427 19h4M141 21h14M215 21h10M253 21h8M427 21h6M143 23h16M215 23h10M249 23h8M427 23h6M147 25h20M215 25h10M249 25h6M427 25h4M151 27h22M213 27h10M249 27h6M427 27h4M159 29h20M209 29h12M251 29h6M427 29h4M167 31h18M205 31h12M255 31h6M425 31h4M173 33h40M263 33h10M423 33h4M179 35h30M297 35h74M423 35h4M187 37h12M315 37h80M421 37h4M393 39h6M419 39h4M397 41h6M415 41h6M401 43h16M407 45h6M475 55h18M461 57h14M497 57h12M457 59h8M509 59h10M453 61h8M517 61h8M451 63h8M521 63h8M451 65h6M525 65h8M451 67h6M527 67h6M451 69h6M527 69h8M455 71h4M527 71h8M459 73h4M527 73h6M525 75h8M239 77h16M263 77h10M523 77h8M235 79h8M273 79h8M465 79h2M519 79h10M233 81h8M277 81h6M467 81h2M515 81h10M233 83h10M275 83h8M469 83h4M511 83h12M237 85h14M267 85h12M469 85h12M503 85h16M105 87h2M251 87h16M473 87h42M105 89h2M135 89h8M477 89h32M129 91h2M147 91h2M483 91h20M129 93h2M147 93h2M129 95h4M145 95h2M491 115h26M489 117h16M507 117h16M487 119h8M519 119h8M485 121h8M521 121h8M485 123h8M521 123h8M487 125h10M519 125h8M491 127h14M511 127h12M499 129h16"/><path stroke="#c9e4ee" d="M337 -5h16M305 -3h86M187 -1h8M295 -1h24M377 -1h38M153 1h52M291 1h14M399 1h22M145 3h64M289 3h10M413 3h12M141 5h14M197 5h14M287 5h10M419 5h10M135 7h16M203 7h10M285 7h10M423 7h10M131 9h16M207 9h8M283 9h10M425 9h10M125 11h20M211 11h8M279 11h10M427 11h10M121 13h22M215 13h6M273 13h10M429 13h10M117 15h24M217 15h8M263 15h14M429 15h10M117 17h22M221 17h10M253 17h14M431 17h8M115 19h24M223 19h36M431 19h10M115 21h26M225 21h28M433 21h8M117 23h26M225 23h24M433 23h6M117 25h30M225 25h24M431 25h8M121 27h30M223 27h26M431 27h8M127 29h32M221 29h30M431 29h6M137 31h30M217 31h38M429 31h6M149 33h24M213 33h16M251 33h12M427 33h6M159 35h20M209 35h16M269 35h28M427 35h4M165 37h22M199 37h20M299 37h16M425 37h4M171 39h44M309 39h84M423 39h4M177 41h30M319 41h46M391 41h6M421 41h4M395 43h6M417 43h6M399 45h8M413 45h8M403 47h14M467 53h24M455 55h20M493 55h16M451 57h10M509 57h10M447 59h10M519 59h12M445 61h8M525 61h10M443 63h8M529 63h6M443 65h8M533 65h2M443 67h8M533 67h2M443 69h8M443 71h12M445 73h14M533 73h2M233 75h38M461 75h2M533 75h2M225 77h14M273 77h8M463 77h2M531 77h4M219 79h16M281 79h6M529 79h6M217 81h16M283 81h6M465 81h2M525 81h10M217 83h16M283 83h6M467 83h2M523 83h12M219 85h18M279 85h8M467 85h2M519 85h12M95 87h2M225 87h26M267 87h16M467 87h6M515 87h14M95 89h2M107 89h2M133 89h2M143 89h4M243 89h24M469 89h8M509 89h16M149 91h2M469 91h14M503 91h20M127 93h2M149 93h4M471 93h50M127 95h2M147 95h4M471 95h48M131 97h16M473 97h46M473 99h44M475 101h42M91 103h24M475 103h40M77 105h46M475 105h40M73 107h52M343 107h20M477 107h40M75 109h48M343 109h26M477 109h40M81 111h34M343 111h28M477 111h44M347 113h24M477 113h48M349 115h22M477 115h14M517 115h12M355 117h14M477 117h12M523 117h8M475 119h12M527 119h6M477 121h8M529 121h6M477 123h8M529 123h6M479 125h8M527 125h8M481 127h10M523 127h8M485 129h14M515 129h12M493 131h26"/><path stroke="#e0eff5" d="M153 -5h62M275 -5h62M353 -5h70M143 -3h76M273 -3h32M391 -3h40M131 -1h56M195 -1h24M273 -1h22M415 -1h22M121 1h32M205 1h14M275 1h16M421 1h20M113 3h32M209 3h10M277 3h12M425 3h18M107 5h34M211 5h8M277 5h10M429 5h18M105 7h30M213 7h8M277 7h8M433 7h16M101 9h30M215 9h8M273 9h10M435 9h14M99 11h26M219 11h8M269 11h10M437 11h14M97 13h24M221 13h10M259 13h14M439 13h12M95 15h22M225 15h38M439 15h12M95 17h22M231 17h22M439 17h12M95 19h20M441 19h10M95 21h20M441 21h10M95 23h22M439 23h10M95 25h22M439 25h10M97 27h24M439 27h8M99 29h28M437 29h10M101 31h36M435 31h10M105 33h44M229 33h22M433 33h10M109 35h50M225 35h44M431 35h10M119 37h46M219 37h32M287 37h12M429 37h10M143 39h28M215 39h28M299 39h10M427 39h10M153 41h24M207 41h30M307 41h12M365 41h26M425 41h8M157 43h72M315 43h80M423 43h8M161 45h60M323 45h42M393 45h6M421 45h8M163 47h50M333 47h18M397 47h6M417 47h8M165 49h42M401 49h22M167 51h34M405 51h12M449 51h42M167 53h30M443 53h24M491 53h16M167 55h28M441 55h14M509 55h12M167 57h28M439 57h12M519 57h16M167 59h28M437 59h10M531 59h4M167 61h30M437 61h8M165 63h34M435 63h8M165 65h36M435 65h8M165 67h42M435 67h8M165 69h54M435 69h8M165 71h92M435 71h8M165 73h104M437 73h8M165 75h68M271 75h8M439 75h16M459 75h2M165 77h60M281 77h6M441 77h10M461 77h2M165 79h54M287 79h6M445 79h2M463 79h2M165 81h52M289 81h6M165 83h52M289 83h8M465 83h2M165 85h54M287 85h12M465 85h2M531 85h4M107 87h2M165 87h60M283 87h16M529 87h6M131 89h2M147 89h6M165 89h78M267 89h30M467 89h2M525 89h10M99 91h8M127 91h2M151 91h6M163 91h138M467 91h2M523 91h12M125 93h2M153 93h112M281 93h28M467 93h4M521 93h14M125 95h2M151 95h94M285 95h34M467 95h4M519 95h16M125 97h6M147 97h88M283 97h48M467 97h6M519 97h16M99 99h124M283 99h64M467 99h6M517 99h18M65 101h132M283 101h100M467 101h8M517 101h18M47 103h44M115 103h62M283 103h102M467 103h8M515 103h20M43 105h34M123 105h44M285 105h102M467 105h8M515 105h20M41 107h32M125 107h36M287 107h56M363 107h24M467 107h10M517 107h18M41 109h34M123 109h32M291 109h52M369 109h18M467 109h10M517 109h18M43 111h38M115 111h34M293 111h50M371 111h16M467 111h10M521 111h14M49 113h92M299 113h48M371 113h16M467 113h10M525 113h10M59 115h72M305 115h44M371 115h16M467 115h10M529 115h6M83 117h26M313 117h42M369 117h18M467 117h10M531 117h4M323 119h64M467 119h8M533 119h2M329 121h58M467 121h10M333 123h52M467 123h10M337 125h46M469 125h10M343 127h38M469 127h12M531 127h4M347 129h32M471 129h14M527 129h8M355 131h18M475 131h18M519 131h16M479 133h50M489 135h30"/><path stroke="#eef3f5" d="M65 -5h88M215 -5h60M423 -5h40M65 -3h78M219 -3h54M431 -3h32M65 -1h66M219 -1h54M437 -1h26M65 1h56M219 1h56M441 1h22M67 3h46M219 3h14M261 3h16M443 3h20M67 5h40M219 5h12M265 5h12M447 5h16M67 7h38M221 7h10M265 7h12M449 7h14M67 9h34M223 9h10M261 9h12M449 9h14M67 11h32M227 11h14M251 11h18M451 11h10M67 13h30M231 13h28M451 13h10M67 15h28M451 15h10M69 17h26M451 17h10M69 19h26M451 19h8M69 21h26M451 21h8M69 23h26M449 23h10M69 25h26M449 25h8M69 27h28M447 27h10M71 29h28M447 29h8M71 31h30M445 31h10M71 33h34M443 33h12M71 35h38M441 35h12M71 37h48M251 37h36M439 37h14M71 39h72M243 39h20M291 39h8M437 39h16M73 41h80M237 41h20M299 41h8M433 41h22M73 43h84M229 43h26M307 43h8M431 43h26M73 45h40M143 45h18M221 45h32M313 45h10M365 45h28M429 45h32M73 47h32M149 47h14M213 47h40M319 47h14M351 47h46M425 47h48M73 49h26M151 49h14M207 49h46M325 49h48M391 49h10M423 49h70M73 51h22M155 51h12M201 51h52M333 51h32M395 51h10M417 51h32M491 51h16M75 53h16M155 53h12M197 53h56M341 53h16M399 53h44M507 53h28M75 55h12M157 55h10M195 55h58M403 55h38M521 55h14M75 57h10M157 57h10M195 57h58M413 57h26M77 59h4M159 59h8M195 59h58M425 59h12M159 61h8M197 61h58M425 61h12M159 63h6M199 63h58M427 63h8M159 65h6M201 65h56M427 65h8M159 67h6M207 67h54M427 67h8M159 69h6M219 69h46M427 69h8M159 71h6M257 71h14M429 71h6M159 73h6M269 73h10M429 73h8M157 75h8M279 75h10M377 75h2M429 75h10M455 75h4M157 77h8M287 77h8M373 77h14M431 77h10M451 77h2M157 79h8M293 79h6M371 79h18M431 79h14M447 79h4M157 81h8M295 81h6M371 81h22M433 81h16M463 81h2M157 83h8M297 83h8M371 83h22M435 83h12M97 85h8M155 85h10M299 85h8M371 85h24M437 85h8M93 87h2M109 87h2M139 87h26M299 87h12M371 87h24M465 87h2M93 89h2M109 89h2M129 89h2M153 89h12M297 89h18M371 89h26M465 89h2M97 91h2M107 91h2M125 91h2M157 91h6M301 91h22M369 91h28M465 91h2M123 93h2M265 93h16M309 93h22M367 93h30M465 93h2M119 95h6M245 95h40M319 95h26M361 95h36M465 95h2M97 97h28M235 97h48M331 97h66M465 97h2M37 99h62M223 99h60M347 99h50M465 99h2M37 101h28M197 101h86M383 101h14M463 101h4M37 103h10M177 103h106M385 103h12M463 103h4M37 105h6M167 105h118M387 105h10M463 105h4M37 107h4M161 107h58M263 107h24M387 107h10M463 107h4M37 109h4M155 109h38M271 109h20M387 109h10M463 109h4M37 111h6M149 111h30M277 111h16M387 111h10M461 111h6M37 113h12M141 113h28M281 113h18M387 113h10M461 113h6M37 115h22M131 115h30M285 115h20M387 115h10M461 115h6M37 117h46M109 117h42M287 117h26M387 117h10M461 117h6M37 119h102M289 119h34M387 119h10M461 119h6M291 121h38M387 121h10M461 121h6M293 123h40M385 123h12M461 123h6M293 125h44M383 125h14M461 125h8M291 127h52M381 127h16M461 127h8M289 129h58M379 129h18M461 129h10M287 131h68M373 131h22M461 131h14M285 133h110M461 133h18M529 133h6M281 135h114M461 135h28M519 135h16M277 137h116M461 137h74"/><path stroke="#f7f4f0" d="M37 -5h28M463 -5h72M37 -3h28M463 -3h36M511 -3h24M37 -1h28M463 -1h26M521 -1h14M37 1h28M463 1h22M527 1h8M37 3h30M233 3h28M463 3h18M531 3h4M37 5h30M231 5h34M463 5h16M37 7h10M53 7h14M231 7h34M463 7h14M37 9h6M57 9h10M233 9h28M463 9h12M37 11h4M57 11h10M241 11h10M461 11h12M37 13h4M59 13h8M461 13h10M37 15h2M61 15h6M461 15h10M37 17h2M61 17h8M461 17h8M61 19h8M459 19h10M63 21h6M459 21h8M63 23h6M459 23h8M63 25h6M457 25h8M63 27h6M457 27h8M63 29h8M455 29h10M63 31h8M455 31h8M65 33h6M455 33h8M65 35h6M453 35h10M65 37h6M453 37h12M65 39h6M263 39h28M453 39h12M65 41h8M257 41h10M293 41h6M455 41h14M63 43h10M255 43h8M301 43h6M457 43h16M63 45h10M113 45h30M253 45h8M307 45h6M461 45h20M63 47h10M105 47h44M253 47h8M311 47h8M473 47h24M63 49h10M99 49h22M139 49h12M253 49h8M317 49h8M373 49h18M493 49h16M531 49h4M63 51h10M95 51h20M145 51h10M253 51h8M323 51h10M365 51h30M507 51h28M61 53h14M91 53h20M147 53h8M253 53h8M329 53h12M357 53h42M37 55h2M61 55h14M87 55h22M149 55h8M253 55h8M333 55h70M37 57h2M61 57h14M85 57h22M151 57h6M253 57h8M339 57h74M37 59h2M59 59h18M81 59h24M153 59h6M253 59h10M343 59h40M393 59h32M37 61h2M59 61h46M153 61h6M255 61h8M349 61h34M397 61h28M37 63h2M59 63h44M153 63h6M257 63h8M353 63h34M401 63h26M37 65h2M57 65h46M155 65h4M257 65h10M355 65h36M409 65h18M37 67h4M57 67h46M155 67h4M261 67h8M357 67h38M413 67h14M37 69h4M57 69h46M155 69h4M265 69h8M359 69h38M417 69h10M37 71h4M57 71h46M153 71h6M271 71h8M361 71h38M419 71h10M37 73h4M57 73h44M153 73h6M279 73h10M361 73h40M419 73h10M37 75h2M65 75h32M153 75h4M289 75h6M361 75h16M379 75h22M421 75h8M153 77h4M295 77h6M363 77h10M387 77h16M421 77h10M453 77h2M459 77h2M151 79h6M299 79h4M363 79h8M389 79h14M423 79h8M451 79h2M461 79h2M151 81h6M301 81h6M363 81h8M393 81h12M423 81h10M449 81h2M149 83h8M305 83h4M363 83h8M393 83h12M425 83h10M447 83h4M463 83h2M95 85h2M105 85h4M147 85h8M307 85h6M363 85h8M395 85h10M425 85h12M445 85h4M111 87h2M133 87h6M311 87h8M363 87h8M395 87h10M427 87h22M111 89h2M125 89h4M315 89h10M361 89h10M397 89h8M427 89h20M95 91h2M109 91h4M121 91h4M323 91h12M359 91h10M397 91h8M429 91h18M99 93h12M115 93h8M331 93h36M397 93h8M429 93h16M37 95h2M99 95h20M345 95h16M397 95h8M429 95h14M37 97h26M85 97h12M397 97h8M429 97h14M463 97h2M397 99h8M429 99h12M463 99h2M397 101h8M429 101h12M461 101h2M397 103h8M429 103h12M461 103h2M397 105h8M429 105h12M459 105h4M219 107h44M397 107h8M429 107h12M459 107h4M193 109h78M397 109h8M429 109h12M459 109h4M179 111h98M397 111h8M429 111h12M459 111h2M169 113h34M261 113h20M397 113h8M429 113h12M457 113h4M161 115h28M269 115h16M397 115h8M429 115h12M457 115h4M151 117h30M273 117h14M397 117h8M429 117h14M457 117h4M139 119h34M275 119h14M397 119h10M429 119h14M457 119h4M37 121h130M275 121h16M397 121h10M427 121h18M455 121h6M37 123h126M275 123h18M397 123h10M427 123h18M455 123h6M37 125h124M273 125h20M397 125h10M427 125h20M453 125h8M37 127h134M267 127h24M397 127h12M425 127h36M37 129h154M259 129h30M397 129h12M425 129h36M37 131h250M395 131h14M423 131h38M37 133h248M395 133h16M423 133h38M37 135h244M395 135h18M419 135h42M37 137h240M393 137h68"/><path stroke="#f8e6da" d="M499 -3h12M489 -1h32M485 1h42M481 3h50M479 5h56M47 7h6M477 7h20M511 7h24M43 9h14M475 9h16M519 9h16M41 11h16M473 11h14M523 11h12M41 13h8M51 13h8M471 13h12M527 13h8M39 15h6M55 15h6M471 15h10M529 15h6M39 17h4M57 17h4M469 17h10M531 17h4M37 19h6M57 19h4M469 19h8M533 19h2M37 21h4M59 21h4M467 21h10M37 23h4M59 23h4M467 23h8M37 25h4M59 25h4M465 25h8M37 27h2M61 27h2M465 27h8M37 29h2M61 29h2M465 29h8M37 31h2M61 31h2M463 31h10M37 33h2M61 33h4M463 33h10M37 35h2M61 35h4M463 35h10M37 37h2M61 37h4M465 37h10M37 39h2M61 39h4M465 39h12M37 41h2M61 41h4M267 41h12M283 41h10M469 41h12M37 43h2M61 43h2M263 43h6M295 43h6M473 43h16M533 43h2M37 45h2M59 45h4M261 45h6M301 45h6M481 45h20M531 45h4M37 47h4M59 47h4M261 47h6M307 47h4M497 47h14M527 47h8M37 49h4M59 49h4M121 49h18M261 49h4M311 49h6M509 49h22M37 51h4M59 51h4M115 51h30M261 51h4M317 51h6M37 53h4M57 53h4M111 53h10M139 53h8M261 53h4M321 53h8M39 55h2M57 55h4M109 55h8M143 55h6M261 55h4M327 55h6M39 57h2M57 57h4M107 57h8M147 57h4M261 57h6M331 57h8M39 59h2M55 59h4M105 59h8M147 59h6M263 59h4M337 59h6M383 59h10M39 61h4M55 61h4M105 61h6M149 61h4M263 61h4M341 61h8M383 61h14M39 63h4M55 63h4M103 63h6M149 63h4M265 63h4M345 63h8M387 63h14M39 65h4M53 65h4M103 65h6M151 65h4M267 65h4M347 65h8M391 65h18M41 67h2M53 67h4M103 67h6M151 67h4M269 67h6M351 67h6M395 67h18M41 69h2M53 69h4M103 69h6M151 69h4M273 69h8M353 69h6M397 69h20M41 71h4M53 71h4M103 71h6M149 71h4M279 71h10M355 71h6M399 71h20M41 73h4M51 73h6M101 73h8M149 73h4M289 73h8M355 73h6M401 73h18M39 75h6M53 75h12M97 75h10M149 75h4M295 75h6M357 75h4M401 75h20M37 77h6M63 77h42M147 77h6M301 77h4M357 77h6M403 77h18M455 77h4M37 79h4M147 79h4M303 79h4M357 79h6M403 79h20M453 79h2M145 81h6M307 81h4M359 81h4M405 81h18M451 81h2M143 83h6M309 83h6M359 83h4M405 83h20M93 85h2M109 85h2M139 85h8M313 85h6M357 85h6M405 85h20M449 85h2M463 85h2M91 87h2M113 87h2M129 87h4M319 87h6M355 87h8M405 87h22M449 87h2M463 87h2M91 89h2M113 89h4M123 89h2M325 89h10M351 89h10M405 89h22M447 89h2M93 91h2M113 91h8M335 91h24M405 91h24M447 91h2M37 93h4M95 93h4M111 93h4M405 93h24M445 93h4M463 93h2M39 95h16M91 95h8M405 95h24M443 95h6M463 95h2M63 97h22M405 97h24M443 97h6M405 99h24M441 99h8M461 99h2M405 101h24M441 101h8M459 101h2M405 103h24M441 103h8M457 103h4M405 105h24M441 105h8M455 105h4M405 107h24M441 107h8M453 107h6M405 109h24M441 109h8M453 109h6M405 111h24M441 111h18M203 113h58M405 113h24M441 113h16M189 115h80M405 115h24M441 115h16M181 117h40M243 117h30M405 117h24M443 117h14M173 119h34M253 119h22M407 119h22M443 119h14M167 121h38M253 121h22M407 121h20M445 121h10M163 123h46M249 123h26M407 123h20M445 123h10M161 125h112M407 125h20M447 125h6M171 127h96M409 127h16M191 129h68M409 129h16M409 131h14M411 133h12M413 135h6"/><path stroke="#f5d3c0" d="M497 7h14M491 9h28M487 11h36M49 13h2M483 13h44M45 15h10M481 15h18M509 15h20M43 17h14M479 17h14M515 17h16M43 19h4M53 19h4M477 19h12M519 19h14M41 21h4M55 21h4M477 21h10M523 21h12M41 23h4M55 23h4M475 23h10M525 23h10M41 25h2M57 25h2M473 25h10M525 25h10M39 27h4M57 27h4M473 27h10M527 27h8M39 29h4M57 29h4M473 29h8M527 29h8M39 31h2M59 31h2M473 31h8M529 31h6M39 33h2M59 33h2M473 33h8M529 33h6M39 35h2M59 35h2M473 35h10M529 35h6M39 37h2M59 37h2M475 37h10M529 37h6M39 39h2M59 39h2M477 39h14M529 39h6M39 41h2M57 41h4M279 41h4M481 41h18M527 41h8M39 43h4M57 43h4M269 43h10M287 43h8M489 43h18M525 43h8M39 45h4M57 45h2M267 45h6M295 45h6M501 45h14M521 45h10M41 47h2M57 47h2M267 47h4M301 47h6M511 47h16M41 49h2M55 49h4M265 49h4M307 49h4M41 51h2M55 51h4M265 51h4M311 51h6M41 53h4M55 53h2M121 53h18M265 53h4M317 53h4M41 55h4M53 55h4M117 55h10M135 55h8M265 55h4M321 55h6M41 57h4M53 57h4M115 57h6M141 57h6M267 57h2M325 57h6M41 59h4M53 59h2M113 59h4M143 59h4M267 59h4M331 59h6M43 61h2M51 61h4M111 61h6M145 61h4M267 61h4M335 61h6M43 63h2M51 63h4M109 63h6M145 63h4M269 63h4M339 63h6M43 65h2M51 65h2M109 65h4M147 65h4M271 65h6M343 65h4M43 67h4M49 67h4M109 67h4M147 67h4M275 67h6M347 67h4M43 69h10M109 69h4M147 69h4M281 69h8M349 69h4M45 71h8M109 71h4M147 71h2M289 71h8M351 71h4M45 73h6M109 73h4M145 73h4M297 73h4M351 73h4M45 75h8M107 75h6M145 75h4M301 75h4M353 75h4M43 77h6M53 77h10M105 77h8M143 77h4M305 77h4M353 77h4M41 79h4M67 79h44M141 79h6M307 79h4M353 79h4M459 79h2M37 81h4M97 81h10M139 81h6M311 81h4M353 81h6M461 81h2M37 83h2M97 83h12M137 83h6M315 83h4M353 83h6M451 83h2M111 85h4M131 85h8M319 85h4M351 85h6M115 87h4M123 87h6M325 87h8M345 87h10M117 89h6M335 89h16M449 89h2M463 89h2M37 91h4M91 91h2M449 91h2M463 91h2M41 93h10M93 93h2M449 93h2M55 95h10M85 95h6M449 95h2M449 97h2M461 97h2M449 99h4M459 99h2M449 101h10M449 103h8M449 105h6M449 107h4M449 109h4M221 117h22M207 119h46M205 121h48M209 123h40"/><path stroke="#efb79e" d="M499 15h10M493 17h22M47 19h6M489 19h30M45 21h10M487 21h36M45 23h10M485 23h40M43 25h4M53 25h4M483 25h16M509 25h16M43 27h2M55 27h2M483 27h12M513 27h14M43 29h2M55 29h2M481 29h14M515 29h12M41 31h4M55 31h4M481 31h14M517 31h12M41 33h4M55 33h4M481 33h16M517 33h12M41 35h4M55 35h4M483 35h16M519 35h10M41 37h4M55 37h4M485 37h22M519 37h10M41 39h4M55 39h4M491 39h22M517 39h12M41 41h4M55 41h2M499 41h28M43 43h2M55 43h2M279 43h8M507 43h18M43 45h2M53 45h4M273 45h6M289 45h6M515 45h6M43 47h4M53 47h4M271 47h4M297 47h4M43 49h4M51 49h4M269 49h4M301 49h6M43 51h6M51 51h4M269 51h4M307 51h4M45 53h10M269 53h4M311 53h6M45 55h8M127 55h8M269 55h4M315 55h6M45 57h8M121 57h20M269 57h4M321 57h4M45 59h8M117 59h8M137 59h6M271 59h2M325 59h6M45 61h6M117 61h4M139 61h6M271 61h4M331 61h4M45 63h6M115 63h4M141 63h4M273 63h6M335 63h4M45 65h6M113 65h6M143 65h4M277 65h6M339 65h4M47 67h2M113 67h4M143 67h4M281 67h10M343 67h4M113 69h4M143 69h4M289 69h8M345 69h4M113 71h6M143 71h4M297 71h6M347 71h4M113 73h6M141 73h4M301 73h4M349 73h2M113 75h6M141 75h4M305 75h4M349 75h4M49 77h4M113 77h8M139 77h4M309 77h2M351 77h2M45 79h4M61 79h6M111 79h10M135 79h6M311 79h4M351 79h2M455 79h4M41 81h4M71 81h26M107 81h14M131 81h8M315 81h2M349 81h4M453 81h2M39 83h4M91 83h6M109 83h28M319 83h4M349 83h4M461 83h2M37 85h4M91 85h2M115 85h16M323 85h8M343 85h8M451 85h2M37 87h4M89 87h2M119 87h4M333 87h12M37 89h6M89 89h2M41 91h6M51 93h6M89 93h4M451 93h2M65 95h20M451 95h2M461 95h2M451 97h2M459 97h2M453 99h6"/><path stroke="#e8a080" d="M47 25h6M499 25h10M45 27h10M495 27h18M45 29h10M495 29h20M45 31h4M51 31h4M495 31h22M45 33h2M53 33h2M497 33h20M45 35h2M53 35h2M499 35h20M45 37h2M53 37h2M507 37h12M45 39h2M51 39h4M513 39h4M45 41h4M51 41h4M45 43h10M45 45h8M279 45h10M47 47h6M275 47h6M289 47h8M47 49h4M273 49h4M297 49h4M49 51h2M273 51h2M301 51h6M273 53h2M305 53h6M273 55h2M311 55h4M273 57h4M315 57h6M125 59h12M273 59h4M321 59h4M121 61h18M275 61h4M325 61h6M119 63h6M137 63h4M279 63h4M331 63h4M119 65h4M137 65h6M283 65h8M335 65h4M117 67h6M139 67h4M291 67h8M339 67h4M117 69h6M139 69h4M297 69h6M343 69h2M119 71h4M137 71h6M303 71h4M345 71h2M119 73h6M137 73h4M305 73h4M345 73h4M119 75h8M133 75h8M309 75h2M347 75h2M121 77h18M311 77h4M347 77h4M49 79h12M121 79h14M315 79h2M347 79h4M45 81h2M65 81h6M121 81h10M317 81h4M345 81h4M459 81h2M43 83h2M81 83h10M323 83h4M343 83h6M41 85h2M87 85h4M331 85h12M41 87h4M87 87h2M451 87h2M43 89h4M87 89h2M451 89h2M47 91h6M89 91h2M451 91h2M57 93h8M85 93h4M461 93h2M453 97h6"/><path stroke="#e08468" d="M49 31h2M47 33h6M47 35h6M47 37h6M47 39h4M49 41h2M281 47h8M277 49h8M289 49h8M275 51h4M295 51h6M275 53h4M301 53h4M275 55h4M305 55h6M277 57h2M309 57h6M277 59h4M315 59h6M279 61h6M321 61h4M125 63h12M283 63h10M325 63h6M123 65h14M291 65h10M331 65h4M123 67h16M299 67h6M335 67h4M123 69h16M303 69h4M339 69h4M123 71h14M307 71h2M341 71h4M125 73h12M309 73h4M343 73h2M127 75h6M311 75h4M345 75h2M315 77h2M345 77h2M317 79h4M343 79h4M47 81h2M61 81h4M321 81h4M341 81h4M455 81h2M45 83h2M69 83h12M327 83h16M453 83h2M43 85h4M83 85h4M461 85h2M45 87h2M85 87h2M461 87h2M47 89h2M461 89h2M53 91h4M85 91h4M461 91h2M65 93h8M77 93h8M453 95h2M459 95h2"/><path stroke="#d9664f" d="M285 49h4M279 51h16M279 53h6M293 53h8M279 55h4M297 55h8M279 57h6M299 57h10M281 59h8M303 59h12M285 61h20M307 61h14M293 63h14M319 63h6M301 65h8M327 65h4M305 67h6M333 67h2M307 69h4M337 69h2M309 71h4M339 71h2M313 73h2M341 73h2M315 75h2M341 75h4M317 77h2M341 77h4M321 79h2M341 79h2M49 81h6M57 81h4M325 81h16M457 81h2M47 83h2M65 83h4M47 85h2M71 85h12M453 85h2M47 87h2M83 87h2M49 89h4M85 89h2M57 91h8M83 91h2M453 91h2M73 93h4M453 93h2M455 95h4"/><path stroke="#d24d44" d="M285 53h8M283 55h14M285 57h14M289 59h14M305 61h2M307 63h12M309 65h18M311 67h6M327 67h6M311 69h6M333 69h4M313 71h4M335 71h4M315 73h4M337 73h4M317 75h4M339 75h2M319 77h4M339 77h2M323 79h6M335 79h6M55 81h2M49 83h2M61 83h4M455 83h2M459 83h2M49 85h2M65 85h6M49 87h2M73 87h10M453 87h2M53 89h6M81 89h4M453 89h2M65 91h18M459 93h2"/><path stroke="#cb3a3b" d="M317 67h10M317 69h16M317 71h4M333 71h2M319 73h2M335 73h2M321 75h2M335 75h4M323 77h6M333 77h6M329 79h6M51 83h4M57 83h4M457 83h2M51 85h2M61 85h4M459 85h2M51 87h4M61 87h12M59 89h22M459 91h2M455 93h4"/><path stroke="#b51e30" d="M321 71h12M321 73h14M323 75h12M329 77h4M55 83h2M53 85h8M455 85h2M55 87h6M459 87h2M459 89h2M455 91h2"/><path stroke="#9a1428" d="M457 85h2M455 87h2M455 89h2M457 91h2"/><path stroke="#6e0d26" d="M457 87h2M457 89h2"/></g><path fill="none" stroke="#111" stroke-width="1.9" stroke-dasharray="1.9 1.475" d="M339.1 123.7h15.4M359.3 123.7h32.3M339.1 117.6h1.9M362.7 117.6h28.9M79.2 111.9h15.4M106.2 111.9h12M173.7 111.9h12M193.9 111.9h22.1M227.7 111.9h15.4M247.9 111.9h1.9M339.1 111.9h1.9M366.1 111.9h25.5M484.2 111.9h8.7M511.2 111.9h1.9M79.2 106.5h39M153.4 106.5h5.3M177.1 106.5h5.3M190.6 106.5h22.1M231.1 106.5h15.4M251.3 106.5h22.1M339.1 106.5h1.9M352.6 106.5h5.3M366.1 106.5h25.5M470.7 106.5h1.9M511.2 106.5h1.9M79.2 101.4h39M153.4 101.4h12M204.1 101.4h8.7M231.1 101.4h15.4M251.3 101.4h22.1M342.4 101.4h15.4M369.4 101.4h22.1M470.7 101.4h5.3M507.8 101.4h5.3M79.2 96.5h1.9M92.7 96.5h25.5M153.4 96.5h15.4M173.7 96.5h5.3M207.4 96.5h8.7M231.1 96.5h39M345.8 96.5h12M369.4 96.5h18.8M490.9 96.5h5.3M507.8 96.5h5.3M153.4 91.9h28.9M207.4 91.9h8.7M231.1 91.9h12M251.3 91.9h15.4M288.4 91.9h1.9M349.2 91.9h8.7M366.1 91.9h18.8M487.6 91.9h5.3M507.8 91.9h5.3M153.4 87.4h28.9M210.8 87.4h5.3M231.1 87.4h8.7M258.1 87.4h1.9M285.1 87.4h5.3M352.6 87.4h18.8M379.6 87.4h5.3M477.4 87.4h12M511.2 87.4h1.9M244.6 83h35.6M359.3 83h12M379.6 83h1.9M244.6 78.9h35.6M460.6 78.9h66M460.6 74.8h66M460.6 70.9h66M460.6 67h66M99.4 63.2h8.7M460.6 63.2h66M92.7 59.6h76.2M460.6 59.6h66M92.7 55.9h82.9M460.6 55.9h66M92.7 52.4h79.5M460.6 52.4h66M92.7 48.9h82.9M180.4 48.9h62.6M308.7 48.9h18.8M335.7 48.9h5.3M92.7 45.4h82.9M180.4 45.4h62.6M298.6 45.4h1.9M308.7 45.4h32.3M92.7 41.9h82.9M180.4 41.9h62.6M298.6 41.9h1.9M312.1 41.9h28.9M92.7 38.5h76.2M92.7 35.1h76.2M92.7 31.7h76.2M224.3 14.8h15.4M247.9 14.8h32.3M224.3 11.4h55.9M224.3 7.9h55.9M224.3 4.4h55.9"/><use href="#land" fill="#000"/><ellipse cx="87.5" cy="30" rx="1.3" ry="1.6" fill="#fff"/></g><path d="M43,7.9h4M529,7.9h-4M43,28.4h4M529,28.4h-4M43,48.9h4M529,48.9h-4M43,70.9h4M529,70.9h-4M43,96.5h4M529,96.5h-4M124,0.8v4M124,130.2v-4M205,0.8v4M205,130.2v-4M286,0.8v4M286,130.2v-4M367,0.8v4M367,130.2v-4M448,0.8v4M448,130.2v-4" stroke="#000" stroke-width="1.3" fill="none"/><rect x="43" y="0.8" width="486" height="129.4" fill="none" stroke="#000" stroke-width="1.7"/></g><text class="ax" x="5" y="15.8" textLength="35.4" lengthAdjust="spacingAndGlyphs">15<tspan font-size="9.8" dy="-5.6">o</tspan><tspan dy="5.6">N</tspan></text><text class="ax" x="20.5" y="35.7" textLength="16.9" lengthAdjust="spacingAndGlyphs">0<tspan font-size="9.8" dy="-5.6">o</tspan><tspan dy="5.6"></tspan></text><text class="ax" x="7.7" y="56.2" textLength="32.7" lengthAdjust="spacingAndGlyphs">15<tspan font-size="9.8" dy="-5.6">o</tspan><tspan dy="5.6">S</tspan></text><text class="ax" x="6.5" y="78.2" textLength="33.9" lengthAdjust="spacingAndGlyphs">30<tspan font-size="9.8" dy="-5.6">o</tspan><tspan dy="5.6">S</tspan></text><text class="ax" x="6.8" y="103.8" textLength="33.6" lengthAdjust="spacingAndGlyphs">45<tspan font-size="9.8" dy="-5.6">o</tspan><tspan dy="5.6">S</tspan></text><text class="ax" x="6.6" y="137.7" textLength="33.8" lengthAdjust="spacingAndGlyphs">60<tspan font-size="9.8" dy="-5.6">o</tspan><tspan dy="5.6">S</tspan></text><text class="ax" x="35.2" y="145.8" textLength="17.8" lengthAdjust="spacingAndGlyphs">0<tspan font-size="9.8" dy="-5.6">o</tspan><tspan dy="5.6"></tspan></text><text class="ax" x="107.9" y="145.8" textLength="34.8" lengthAdjust="spacingAndGlyphs">60<tspan font-size="9.8" dy="-5.6">o</tspan><tspan dy="5.6">E</tspan></text><text class="ax" x="184.4" y="145.8" textLength="42.4" lengthAdjust="spacingAndGlyphs">120<tspan font-size="9.8" dy="-5.6">o</tspan><tspan dy="5.6">E</tspan></text><text class="ax" x="263.3" y="145.8" textLength="47.4" lengthAdjust="spacingAndGlyphs">180<tspan font-size="9.8" dy="-5.6">o</tspan><tspan dy="5.6">W</tspan></text><text class="ax" x="343.8" y="145.8" textLength="46.8" lengthAdjust="spacingAndGlyphs">120<tspan font-size="9.8" dy="-5.6">o</tspan><tspan dy="5.6">W</tspan></text><text class="ax" x="429.5" y="145.8" textLength="39.3" lengthAdjust="spacingAndGlyphs">60<tspan font-size="9.8" dy="-5.6">o</tspan><tspan dy="5.6">W</tspan></text><text class="ax" x="522.8" y="145.8" textLength="17" lengthAdjust="spacingAndGlyphs">0<tspan font-size="9.8" dy="-5.6">o</tspan><tspan dy="5.6"></tspan></text><text class="lb" x="52.6" y="126.5" textLength="95.5" lengthAdjust="spacingAndGlyphs">e) Group 5</text></g><g transform="translate(0,905)"><g><g clip-path="url(#pc)"><rect x="43" y="0.8" width="486" height="129.4" fill="#f7f7f7"/><g filter="url(#bl)" fill="none" stroke-width="2"><path stroke="#1b3565" d="M279 25h16M275 27h26M273 29h28M277 31h20"/><path stroke="#2d5595" d="M275 25h4M295 25h12M271 27h4M301 27h8M359 27h46M271 29h2M301 29h8M357 29h52M273 31h4M297 31h8M361 31h48M281 33h12"/><path stroke="#3a6aab" d="M279 23h76M271 25h4M307 25h80M395 25h12M267 27h4M309 27h50M405 27h6M267 29h4M309 29h48M409 29h4M269 31h4M305 31h56M409 31h4M275 33h6M293 33h14M357 33h54M489 61h12M487 63h18M487 65h18"/><path stroke="#4781bb" d="M311 21h38M273 23h6M355 23h22M401 23h8M267 25h4M387 25h8M407 25h6M265 27h2M411 27h4M265 29h2M413 29h4M267 31h2M413 31h4M271 33h4M307 33h50M411 33h4M383 35h30M403 37h4M485 57h16M481 59h26M481 61h8M501 61h12M479 63h8M505 63h10M481 65h6M505 65h12M483 67h32M491 69h16"/><path stroke="#5591c3" d="M281 21h30M349 21h18M401 21h10M269 23h4M377 23h24M409 23h6M265 25h2M413 25h4M263 27h2M415 27h4M261 29h4M417 29h2M263 31h4M417 31h2M267 33h4M415 33h4M275 35h108M413 35h4M391 37h12M407 37h8M403 39h6M481 53h14M477 55h28M475 57h10M501 57h10M475 59h6M507 59h10M475 61h6M513 61h6M475 63h4M515 63h8M475 65h6M517 65h8M477 67h6M515 67h10M481 69h10M507 69h18M493 71h26M367 87h12M365 89h16M363 91h20M361 93h22M361 95h20M361 97h20M363 99h14M365 101h8"/><path stroke="#60a2cb" d="M403 17h10M305 19h50M399 19h16M273 21h8M367 21h14M391 21h10M411 21h6M265 23h4M415 23h4M261 25h4M417 25h4M259 27h4M419 27h2M259 29h2M419 29h2M261 31h2M419 31h4M263 33h4M419 33h2M115 35h10M271 35h4M417 35h4M115 37h14M375 37h16M415 37h4M117 39h14M393 39h10M409 39h8M119 41h14M403 41h6M121 43h14M125 45h10M473 51h26M469 53h12M495 53h12M469 55h8M505 55h8M469 57h6M511 57h8M469 59h6M517 59h6M469 61h6M519 61h8M469 63h6M523 63h6M471 65h4M525 65h8M471 67h6M525 67h8M475 69h6M525 69h10M481 71h12M519 71h14M497 73h34M367 83h14M363 85h20M457 85h2M359 87h8M379 87h8M357 89h8M381 89h6M355 91h8M383 91h4M355 93h6M383 93h4M355 95h6M381 95h6M353 97h8M381 97h6M353 99h10M377 99h8M353 101h12M373 101h12M353 103h30M355 105h26M355 107h22M357 109h16"/><path stroke="#74b2d6" d="M401 11h12M397 13h18M397 15h20M321 17h24M395 17h8M413 17h4M277 19h28M355 19h18M391 19h8M415 19h4M267 21h6M381 21h10M417 21h4M261 23h4M419 23h2M101 25h16M257 25h4M421 25h2M101 27h22M255 27h4M421 27h4M101 29h26M255 29h4M421 29h4M101 31h30M257 31h4M423 31h2M101 33h32M259 33h4M421 33h4M103 35h12M125 35h12M265 35h6M421 35h4M105 37h10M129 37h10M275 37h100M419 37h4M107 39h10M131 39h10M381 39h12M417 39h4M109 41h10M133 41h10M391 41h12M409 41h10M111 43h10M135 43h10M403 43h8M113 45h12M135 45h12M469 45h8M117 47h32M463 47h28M119 49h30M463 49h38M123 51h26M463 51h10M499 51h10M127 53h22M461 53h8M507 53h8M133 55h16M461 55h8M513 55h8M461 57h8M519 57h8M461 59h8M523 59h8M463 61h6M527 61h8M463 63h6M529 63h6M465 65h6M533 65h2M467 67h4M533 67h2M469 69h6M475 71h6M533 71h2M483 73h14M531 73h4M497 75h38M513 77h22M367 79h14M457 79h2M245 81h10M361 81h24M457 81h2M243 83h14M357 83h10M381 83h8M457 83h2M243 85h14M355 85h8M383 85h6M243 87h14M353 87h6M387 87h4M457 87h2M243 89h14M351 89h6M387 89h4M457 89h2M243 91h14M349 91h6M387 91h6M245 93h10M347 93h8M387 93h6M117 95h6M347 95h8M387 95h6M113 97h14M345 97h8M387 97h4M115 99h10M345 99h8M385 99h6M345 101h8M385 101h6M345 103h8M383 103h6M345 105h10M381 105h8M345 107h10M377 107h10M345 109h12M373 109h12M347 111h36M347 113h34M349 115h28M353 117h20"/><path stroke="#98cde0" d="M337 3h8M307 5h64M395 5h18M295 7h88M387 7h30M291 9h128M289 11h112M413 11h6M291 13h106M415 13h6M95 15h8M289 15h108M417 15h4M89 17h22M275 17h46M345 17h50M417 17h6M89 19h28M265 19h12M373 19h18M419 19h4M87 21h36M259 21h8M421 21h4M87 23h40M255 23h6M421 23h4M87 25h14M117 25h14M253 25h4M423 25h4M89 27h12M123 27h12M251 27h4M425 27h2M89 29h12M127 29h10M251 29h4M425 29h4M91 31h10M131 31h10M253 31h4M425 31h4M93 33h8M133 33h10M255 33h4M425 33h4M93 35h10M137 35h8M259 35h6M425 35h4M95 37h10M139 37h10M265 37h10M423 37h6M97 39h10M141 39h10M363 39h18M421 39h6M99 41h10M143 41h10M379 41h12M419 41h6M455 41h20M101 43h10M145 43h10M391 43h12M411 43h10M451 43h36M105 45h8M147 45h10M451 45h18M477 45h18M107 47h10M149 47h8M451 47h12M491 47h14M109 49h10M149 49h10M453 49h10M501 49h12M113 51h10M149 51h10M453 51h10M509 51h10M115 53h12M149 53h12M453 53h8M515 53h10M119 55h14M149 55h12M453 55h8M521 55h10M123 57h40M453 57h8M527 57h8M127 59h36M455 59h6M531 59h4M133 61h28M455 61h8M139 63h22M457 63h6M147 65h8M459 65h6M459 67h8M463 69h6M467 71h8M371 73h8M473 73h10M245 75h8M363 75h22M457 75h2M481 75h16M243 77h14M359 77h30M457 77h2M493 77h20M241 79h18M355 79h12M381 79h10M505 79h30M239 81h6M255 81h6M351 81h10M385 81h8M455 81h2M459 81h2M519 81h16M237 83h6M257 83h4M349 83h8M389 83h4M455 83h2M459 83h2M237 85h6M257 85h6M347 85h8M389 85h6M455 85h2M459 85h2M237 87h6M257 87h6M345 87h8M391 87h4M237 89h6M257 89h6M343 89h8M391 89h6M237 91h6M257 91h4M341 91h8M393 91h4M457 91h2M239 93h6M255 93h6M341 93h6M393 93h4M111 95h6M123 95h8M241 95h18M339 95h8M393 95h4M107 97h6M127 97h6M243 97h14M339 97h6M391 97h6M109 99h6M125 99h6M247 99h6M337 99h8M391 99h4M337 101h8M391 101h4M337 103h8M389 103h6M337 105h8M389 105h6M337 107h8M387 107h6M337 109h8M385 109h8M337 111h10M383 111h8M337 113h10M381 113h8M337 115h12M377 115h12M339 117h14M373 117h14M341 119h44M343 121h38M345 123h32M349 125h22"/><path stroke="#b0d8e6" d="M325 -3h30M399 -3h14M289 -1h128M271 1h148M259 3h78M345 3h76M77 5h24M253 5h54M371 5h24M413 5h10M73 7h34M247 7h48M383 7h4M417 7h6M71 9h42M245 9h46M419 9h6M71 11h48M245 11h44M419 11h6M71 13h52M247 13h44M421 13h4M71 15h24M103 15h24M249 15h40M421 15h4M71 17h18M111 17h20M251 17h24M423 17h4M71 19h18M117 19h18M251 19h14M423 19h4M71 21h16M123 21h16M249 21h10M425 21h4M73 23h14M127 23h14M247 23h8M425 23h4M73 25h14M131 25h14M245 25h8M427 25h4M75 27h14M135 27h12M243 27h8M427 27h6M77 29h12M137 29h14M243 29h8M429 29h6M77 31h14M141 31h12M245 31h8M429 31h8M79 33h14M143 33h12M247 33h8M429 33h10M81 35h12M145 35h14M251 35h8M429 35h34M83 37h12M149 37h12M255 37h10M429 37h46M85 39h12M151 39h12M261 39h102M427 39h56M87 41h12M153 41h12M273 41h14M359 41h20M425 41h30M475 41h16M89 43h12M155 43h12M373 43h18M421 43h30M487 43h14M91 45h14M157 45h12M391 45h34M437 45h14M495 45h14M95 47h12M157 47h12M441 47h10M505 47h14M97 49h12M159 49h12M445 49h8M513 49h16M99 51h14M159 51h12M445 51h8M519 51h16M103 53h12M161 53h12M445 53h8M525 53h10M105 55h14M161 55h14M445 55h8M531 55h4M109 57h14M163 57h14M445 57h8M111 59h16M163 59h14M445 59h10M115 61h18M161 61h18M447 61h8M119 63h20M161 63h18M447 63h10M123 65h24M155 65h24M365 65h20M449 65h10M127 67h52M361 67h28M451 67h8M131 69h48M245 69h10M357 69h34M453 69h10M137 71h40M239 71h20M355 71h38M455 71h12M143 73h34M237 73h26M353 73h18M379 73h14M455 73h18M149 75h24M235 75h10M253 75h10M351 75h12M385 75h10M455 75h2M459 75h2M467 75h14M233 77h10M257 77h8M349 77h10M389 77h8M455 77h2M459 77h2M475 77h18M233 79h8M259 79h8M345 79h10M391 79h6M455 79h2M459 79h2M485 79h20M233 81h6M261 81h6M343 81h8M393 81h6M495 81h24M231 83h6M261 83h6M341 83h8M393 83h6M511 83h24M231 85h6M263 85h4M339 85h8M395 85h4M523 85h12M231 87h6M263 87h4M337 87h8M395 87h6M455 87h2M459 87h2M529 87h6M231 89h6M263 89h4M335 89h8M397 89h4M455 89h2M459 89h2M231 91h6M261 91h6M333 91h8M397 91h4M113 93h20M233 93h6M261 93h6M331 93h10M397 93h4M457 93h2M105 95h6M131 95h6M233 95h8M259 95h6M331 95h8M397 95h4M103 97h4M133 97h6M235 97h8M257 97h8M329 97h10M397 97h4M103 99h6M131 99h6M235 99h12M253 99h10M329 99h8M395 99h6M107 101h26M237 101h24M327 101h10M395 101h6M241 103h16M327 103h10M395 103h4M327 105h10M395 105h4M327 107h10M393 107h6M327 109h10M393 109h6M327 111h10M391 111h6M327 113h10M389 113h8M327 115h10M389 115h8M327 117h12M387 117h8M327 119h14M385 119h10M329 121h14M381 121h12M329 123h16M377 123h16M329 125h20M371 125h20M331 127h58M333 129h54M335 131h48M337 133h42M341 135h34M347 137h20"/><path stroke="#c9e4ee" d="M37 -5h498M37 -3h288M355 -3h44M413 -3h38M469 -3h66M37 -1h252M417 -1h22M489 -1h46M37 1h234M419 1h18M499 1h36M37 3h222M421 3h14M505 3h30M37 5h40M101 5h152M423 5h10M511 5h24M37 7h36M107 7h140M423 7h10M515 7h20M37 9h34M113 9h132M425 9h8M519 9h16M37 11h34M119 11h126M425 11h6M521 11h14M37 13h34M123 13h124M425 13h6M525 13h10M37 15h34M127 15h122M425 15h6M527 15h8M37 17h34M131 17h120M427 17h6M531 17h4M37 19h34M135 19h116M427 19h6M37 21h34M139 21h110M429 21h6M37 23h36M141 23h106M429 23h8M37 25h36M145 25h100M431 25h10M37 27h38M147 27h96M433 27h14M37 29h40M151 29h92M435 29h32M37 31h40M153 31h92M437 31h38M37 33h42M155 33h92M439 33h42M37 35h44M159 35h92M463 35h22M37 37h46M161 37h94M475 37h16M37 39h48M163 39h30M195 39h66M483 39h14M37 41h50M165 41h26M199 41h74M287 41h72M491 41h16M37 43h52M167 43h22M199 43h112M337 43h36M501 43h34M37 45h54M169 45h18M201 45h82M363 45h28M425 45h12M509 45h26M37 47h58M169 47h18M203 47h30M391 47h50M519 47h16M37 49h60M171 49h14M205 49h12M433 49h12M529 49h6M37 51h62M171 51h14M207 51h6M437 51h8M37 53h66M173 53h12M207 53h10M437 53h8M37 55h68M175 55h10M205 55h28M435 55h10M37 57h72M177 57h8M205 57h60M375 57h8M435 57h10M37 59h74M177 59h8M205 59h80M353 59h44M433 59h12M37 61h78M179 61h6M205 61h84M351 61h48M435 61h12M37 63h82M179 63h6M205 63h84M349 63h52M435 63h12M37 65h86M179 65h6M205 65h84M349 65h16M385 65h16M437 65h12M37 67h90M179 67h6M205 67h84M347 67h14M389 67h12M437 67h14M37 69h94M179 69h6M205 69h40M255 69h34M347 69h10M391 69h10M439 69h14M37 71h100M177 71h8M205 71h34M259 71h28M345 71h10M393 71h8M439 71h16M37 73h106M177 73h8M205 73h32M263 73h24M345 73h8M393 73h10M441 73h14M37 75h112M173 75h12M205 75h30M263 75h24M343 75h8M395 75h8M443 75h12M461 75h6M37 77h148M205 77h28M265 77h22M341 77h8M397 77h6M445 77h10M461 77h14M37 79h148M205 79h28M267 79h20M337 79h8M397 79h6M449 79h6M461 79h24M37 81h148M205 81h28M267 81h20M335 81h8M399 81h6M453 81h2M461 81h34M37 83h148M203 83h28M267 83h20M331 83h10M399 83h6M453 83h2M461 83h2M473 83h38M37 85h12M107 85h78M203 85h28M267 85h20M329 85h10M399 85h6M453 85h2M461 85h2M481 85h20M507 85h16M37 87h2M117 87h68M203 87h28M267 87h18M325 87h12M401 87h4M519 87h10M119 89h66M203 89h28M267 89h18M321 89h14M401 89h4M523 89h12M115 91h72M201 91h30M267 91h16M319 91h14M401 91h6M455 91h2M459 91h2M527 91h8M37 93h2M107 93h6M133 93h54M201 93h32M267 93h14M317 93h14M401 93h6M529 93h6M37 95h12M99 95h6M137 95h50M201 95h32M265 95h16M317 95h14M401 95h6M529 95h6M37 97h66M139 97h50M199 97h36M265 97h16M315 97h14M401 97h4M529 97h6M37 99h66M137 99h54M197 99h38M263 99h16M315 99h14M401 99h4M527 99h8M37 101h70M133 101h60M195 101h42M261 101h18M315 101h12M401 101h4M525 101h10M37 103h204M257 103h20M315 103h12M399 103h6M521 103h14M37 105h240M313 105h14M399 105h6M517 105h18M37 107h238M313 107h14M399 107h6M511 107h24M37 109h238M313 109h14M399 109h6M507 109h28M37 111h236M313 111h14M397 111h8M507 111h28M37 113h24M165 113h16M215 113h56M313 113h14M397 113h8M505 113h30M37 115h10M235 115h34M311 115h16M397 115h6M505 115h30M37 117h2M245 117h20M311 117h16M395 117h8M505 117h30M253 119h10M309 119h18M395 119h8M503 119h32M255 121h10M309 121h20M393 121h10M501 121h34M37 123h2M249 123h24M307 123h22M393 123h10M501 123h34M37 125h10M239 125h42M303 125h26M391 125h12M499 125h36M37 127h24M165 127h14M217 127h74M297 127h34M389 127h14M495 127h40M37 129h296M387 129h16M493 129h42M37 131h298M383 131h22M489 131h46M37 133h300M379 133h26M485 133h50M37 135h304M375 135h30M479 135h56M37 137h310M367 137h40M469 137h66"/><path stroke="#e0eff5" d="M451 -3h18M439 -1h50M437 1h62M435 3h70M433 5h78M433 7h82M433 9h86M431 11h22M469 11h52M431 13h18M475 13h50M431 15h16M475 15h52M433 17h18M471 17h60M433 19h102M435 21h100M437 23h62M509 23h26M441 25h52M519 25h16M447 27h44M523 27h12M467 29h24M525 29h10M475 31h18M527 31h8M481 33h14M527 33h8M485 35h14M523 35h12M491 37h20M515 37h20M193 39h2M497 39h38M191 41h8M507 41h28M189 43h10M311 43h26M187 45h14M283 45h80M187 47h16M233 47h70M353 47h38M185 49h6M197 49h8M217 49h64M385 49h48M185 51h4M199 51h8M213 51h60M397 51h40M185 53h4M199 53h8M217 53h62M397 53h18M421 53h16M185 55h4M201 55h4M233 55h60M357 55h78M185 57h4M201 57h4M265 57h34M345 57h30M383 57h52M185 59h2M201 59h4M285 59h16M341 59h12M397 59h36M185 61h2M201 61h4M289 61h12M341 61h10M399 61h36M185 63h2M201 63h4M289 63h12M341 63h8M401 63h34M185 65h2M201 65h4M289 65h12M341 65h8M401 65h36M185 67h2M201 67h4M289 67h12M341 67h6M401 67h12M423 67h14M185 69h2M201 69h4M289 69h12M341 69h6M401 69h12M423 69h16M185 71h2M201 71h4M287 71h14M339 71h6M401 71h10M425 71h14M185 73h2M201 73h4M287 73h14M337 73h8M403 73h8M425 73h16M185 75h2M201 75h4M287 75h16M335 75h8M403 75h8M427 75h16M185 77h2M201 77h4M287 77h18M333 77h8M403 77h8M427 77h18M185 79h2M201 79h4M287 79h20M329 79h8M403 79h10M427 79h22M185 81h2M201 81h4M287 81h24M323 81h12M405 81h8M429 81h24M185 83h4M201 83h2M287 83h44M405 83h8M431 83h22M463 83h10M49 85h58M185 85h4M199 85h4M287 85h42M405 85h8M433 85h20M463 85h18M501 85h6M39 87h14M103 87h14M185 87h4M199 87h4M285 87h40M405 87h8M439 87h16M461 87h42M509 87h10M37 89h10M109 89h10M185 89h6M197 89h6M285 89h36M405 89h8M453 89h2M461 89h2M471 89h24M519 89h4M37 91h10M107 91h8M187 91h6M195 91h6M283 91h36M407 91h6M479 91h10M521 91h6M39 93h14M99 93h8M187 93h14M281 93h36M407 93h6M455 93h2M459 93h2M523 93h6M49 95h50M187 95h14M281 95h36M407 95h6M457 95h2M523 95h6M189 97h10M281 97h34M405 97h8M523 97h6M191 99h6M279 99h36M405 99h6M521 99h6M193 101h2M279 101h36M405 101h6M515 101h10M277 103h38M405 103h6M499 103h22M277 105h36M405 105h6M495 105h22M275 107h38M405 107h6M495 107h16M275 109h38M405 109h6M495 109h12M273 111h40M405 111h6M495 111h12M61 113h104M181 113h34M271 113h42M405 113h6M493 113h12M47 115h188M269 115h42M403 115h10M493 115h12M39 117h206M265 117h46M403 117h10M491 117h14M37 119h216M263 119h46M403 119h12M491 119h12M37 121h218M265 121h44M403 121h12M489 121h12M39 123h210M273 123h34M403 123h16M485 123h16M47 125h192M281 125h22M403 125h20M483 125h16M61 127h104M179 127h38M291 127h6M403 127h28M479 127h16M403 129h38M473 129h20M405 131h84M405 133h80M405 135h74M407 137h62"/><path stroke="#eef3f5" d="M453 11h16M449 13h26M447 15h28M451 17h20M499 23h10M493 25h26M491 27h32M491 29h34M493 31h34M495 33h32M499 35h24M511 37h4M303 47h50M191 49h6M281 49h28M341 49h44M189 51h10M273 51h28M353 51h44M189 53h4M195 53h4M279 53h24M347 53h50M415 53h6M189 55h2M197 55h4M293 55h14M339 55h18M189 57h2M197 57h4M299 57h12M333 57h12M187 59h4M199 59h2M301 59h10M331 59h10M187 61h2M199 61h2M301 61h10M333 61h8M187 63h2M199 63h2M301 63h8M333 63h8M187 65h2M199 65h2M301 65h6M335 65h6M187 67h2M199 67h2M301 67h6M335 67h6M413 67h10M187 69h2M199 69h2M301 69h6M335 69h6M413 69h10M187 71h2M199 71h2M301 71h8M333 71h6M411 71h14M187 73h2M199 73h2M301 73h8M331 73h6M411 73h14M187 75h2M199 75h2M303 75h10M327 75h8M411 75h16M187 77h2M199 77h2M305 77h28M411 77h16M187 79h2M199 79h2M307 79h22M413 79h14M187 81h4M199 81h2M311 81h12M413 81h16M189 83h2M197 83h4M413 83h18M189 85h4M195 85h4M413 85h20M53 87h12M91 87h12M189 87h10M413 87h26M503 87h6M47 89h8M101 89h8M191 89h6M413 89h40M463 89h8M495 89h6M513 89h6M47 91h8M101 91h6M193 91h2M413 91h42M461 91h18M489 91h8M517 91h4M53 93h12M91 93h8M413 93h26M471 93h24M519 93h4M413 95h14M455 95h2M459 95h2M477 95h16M519 95h4M413 97h10M457 97h2M481 97h14M519 97h4M411 99h10M483 99h14M515 99h6M411 101h10M485 101h30M411 103h8M487 103h12M411 105h8M487 105h8M411 107h8M487 107h8M411 109h8M487 109h8M411 111h10M487 111h8M411 113h10M487 113h6M413 115h10M485 115h8M413 117h12M485 117h6M415 119h12M483 119h8M415 121h16M479 121h10M419 123h18M477 123h8M423 125h20M471 125h12M431 127h48M441 129h32"/><path stroke="#f7f4f0" d="M309 49h32M301 51h52M193 53h2M303 53h44M191 55h6M307 55h32M191 57h6M311 57h22M191 59h2M195 59h4M311 59h20M189 61h2M197 61h2M311 61h22M189 63h2M197 63h2M309 63h6M325 63h8M189 65h2M197 65h2M307 65h6M327 65h8M189 67h2M197 67h2M307 67h6M327 67h8M189 69h2M197 69h2M307 69h6M327 69h8M189 71h2M197 71h2M309 71h4M325 71h8M189 73h2M197 73h2M309 73h22M189 75h2M197 75h2M313 75h14M189 77h2M197 77h2M189 79h4M197 79h2M191 81h8M191 83h6M193 85h2M65 87h26M55 89h8M93 89h8M501 89h12M55 91h8M93 91h8M497 91h4M513 91h4M65 93h26M439 93h16M461 93h10M495 93h4M515 93h4M427 95h22M453 95h2M461 95h2M465 95h12M493 95h6M515 95h4M423 97h18M455 97h2M459 97h2M473 97h8M495 97h6M513 97h6M421 99h14M477 99h6M497 99h18M421 101h12M479 101h6M419 103h12M481 103h6M419 105h10M481 105h6M419 107h10M483 107h4M419 109h10M483 109h4M421 111h8M483 111h4M421 113h10M481 113h6M423 115h8M481 115h4M425 117h10M479 117h6M427 119h10M475 119h8M431 121h12M473 121h6M437 123h12M465 123h12M443 125h28"/><path stroke="#f8e6da" d="M193 59h2M191 61h6M191 63h6M315 63h10M191 65h6M313 65h2M321 65h6M191 67h2M195 67h2M313 67h2M323 67h4M191 69h2M195 69h2M313 69h2M321 69h6M191 71h2M195 71h2M313 71h12M191 73h2M195 73h2M191 75h6M191 77h6M193 79h4M63 89h10M83 89h10M63 91h10M83 91h10M501 91h12M499 93h4M511 93h4M449 95h4M463 95h2M499 95h4M511 95h4M441 97h14M461 97h12M501 97h12M435 99h10M455 99h6M469 99h8M433 101h8M473 101h6M431 103h8M475 103h6M429 105h8M477 105h4M429 107h6M477 107h6M429 109h6M477 109h6M429 111h6M477 111h6M431 113h6M477 113h4M431 115h8M475 115h6M435 117h6M473 117h6M437 119h10M469 119h6M443 121h30M449 123h16"/><path stroke="#f5d3c0" d="M315 65h2M319 65h2M193 67h2M315 67h2M321 67h2M193 69h2M315 69h2M319 69h2M193 71h2M193 73h2M73 89h10M73 91h10M503 93h8M503 95h8M445 99h10M461 99h8M441 101h8M455 101h6M465 101h8M439 103h6M469 103h6M437 105h6M471 105h6M435 107h6M473 107h4M435 109h6M473 109h4M435 111h6M473 111h4M437 113h6M471 113h6M439 115h6M469 115h6M441 117h8M465 117h8M447 119h22"/><path stroke="#efb79e" d="M317 65h2M317 67h4M317 69h2M449 101h6M461 101h4M445 103h24M443 105h8M465 105h6M441 107h6M467 107h6M441 109h6M467 109h6M441 111h8M467 111h6M443 113h8M465 113h6M445 115h24M449 117h16"/><path stroke="#e8a080" d="M451 105h14M447 107h20M447 109h20M449 111h18M451 113h14"/></g><path fill="none" stroke="#111" stroke-width="1.9" stroke-dasharray="1.9 1.475" d="M281.7 123.7h62.6M393.1 123.7h133.5M281.7 117.6h62.6M393.1 117.6h133.5M281.7 111.9h62.6M396.4 111.9h130.2M42 106.5h298.9M396.4 106.5h130.2M42 101.4h298.9M396.4 101.4h130.2M42 96.5h302.3M393.1 96.5h133.5M42 91.9h302.3M393.1 91.9h133.5M42 87.4h305.6M393.1 87.4h133.5M42 83h305.6M386.3 83h140.3M42 78.9h309M376.2 78.9h150.4M42 74.8h484.5M42 70.9h484.5M42 67h484.5M42 63.2h484.5M42 59.6h484.5M42 55.9h89.7M150.1 55.9h376.5M42 52.4h82.9M150.1 52.4h376.5M42 48.9h79.5M150.1 48.9h130.2M42 45.4h76.2M146.7 45.4h12M187.2 45.4h93M42 41.9h72.8M146.7 41.9h12M187.2 41.9h93M42 38.5h69.4M143.3 38.5h15.4M190.6 38.5h89.7M42 35.1h69.4M136.6 35.1h22.1M187.2 35.1h184.2M409.9 35.1h116.7M42 31.7h69.4M133.2 31.7h39M180.4 31.7h190.9M409.9 31.7h116.7M42 28.4h72.8M129.8 28.4h241.5M409.9 28.4h116.7M42 25h329.3M409.9 25h116.7M42 21.6h329.3M409.9 21.6h116.7M42 18.2h484.5M42 14.8h484.5M42 11.4h484.5M42 7.9h484.5M42 4.4h484.5"/><use href="#land" fill="#000"/><ellipse cx="87.5" cy="30" rx="1.3" ry="1.6" fill="#fff"/></g><path d="M43,7.9h4M529,7.9h-4M43,28.4h4M529,28.4h-4M43,48.9h4M529,48.9h-4M43,70.9h4M529,70.9h-4M43,96.5h4M529,96.5h-4M124,0.8v4M124,130.2v-4M205,0.8v4M205,130.2v-4M286,0.8v4M286,130.2v-4M367,0.8v4M367,130.2v-4M448,0.8v4M448,130.2v-4" stroke="#000" stroke-width="1.3" fill="none"/><rect x="43" y="0.8" width="486" height="129.4" fill="none" stroke="#000" stroke-width="1.7"/></g><text class="ax" x="5" y="15.8" textLength="35.4" lengthAdjust="spacingAndGlyphs">15<tspan font-size="9.8" dy="-5.6">o</tspan><tspan dy="5.6">N</tspan></text><text class="ax" x="20.5" y="35.7" textLength="16.9" lengthAdjust="spacingAndGlyphs">0<tspan font-size="9.8" dy="-5.6">o</tspan><tspan dy="5.6"></tspan></text><text class="ax" x="7.7" y="56.2" textLength="32.7" lengthAdjust="spacingAndGlyphs">15<tspan font-size="9.8" dy="-5.6">o</tspan><tspan dy="5.6">S</tspan></text><text class="ax" x="6.5" y="78.2" textLength="33.9" lengthAdjust="spacingAndGlyphs">30<tspan font-size="9.8" dy="-5.6">o</tspan><tspan dy="5.6">S</tspan></text><text class="ax" x="6.8" y="103.8" textLength="33.6" lengthAdjust="spacingAndGlyphs">45<tspan font-size="9.8" dy="-5.6">o</tspan><tspan dy="5.6">S</tspan></text><text class="ax" x="6.6" y="137.7" textLength="33.8" lengthAdjust="spacingAndGlyphs">60<tspan font-size="9.8" dy="-5.6">o</tspan><tspan dy="5.6">S</tspan></text><text class="ax" x="35.2" y="145.8" textLength="17.8" lengthAdjust="spacingAndGlyphs">0<tspan font-size="9.8" dy="-5.6">o</tspan><tspan dy="5.6"></tspan></text><text class="ax" x="107.9" y="145.8" textLength="34.8" lengthAdjust="spacingAndGlyphs">60<tspan font-size="9.8" dy="-5.6">o</tspan><tspan dy="5.6">E</tspan></text><text class="ax" x="184.4" y="145.8" textLength="42.4" lengthAdjust="spacingAndGlyphs">120<tspan font-size="9.8" dy="-5.6">o</tspan><tspan dy="5.6">E</tspan></text><text class="ax" x="263.3" y="145.8" textLength="47.4" lengthAdjust="spacingAndGlyphs">180<tspan font-size="9.8" dy="-5.6">o</tspan><tspan dy="5.6">W</tspan></text><text class="ax" x="343.8" y="145.8" textLength="46.8" lengthAdjust="spacingAndGlyphs">120<tspan font-size="9.8" dy="-5.6">o</tspan><tspan dy="5.6">W</tspan></text><text class="ax" x="429.5" y="145.8" textLength="39.3" lengthAdjust="spacingAndGlyphs">60<tspan font-size="9.8" dy="-5.6">o</tspan><tspan dy="5.6">W</tspan></text><text class="ax" x="522.8" y="145.8" textLength="17" lengthAdjust="spacingAndGlyphs">0<tspan font-size="9.8" dy="-5.6">o</tspan><tspan dy="5.6"></tspan></text><text class="lb" x="52.6" y="126.5" textLength="95.5" lengthAdjust="spacingAndGlyphs">f) Group 6</text></g><g transform="translate(0,1085)"><g><g clip-path="url(#pc)"><rect x="43" y="0.8" width="486" height="129.4" fill="#f7f7f7"/><g filter="url(#bl)" fill="none" stroke-width="2"><path stroke="#1b3565" d="M333 23h26M393 23h24M277 25h142M271 27h150M269 29h154M269 31h154M275 33h146M337 35h16M395 35h24M407 37h6"/><path stroke="#2d5595" d="M401 21h12M311 23h22M359 23h22M385 23h8M417 23h2M273 25h4M419 25h2M269 27h2M421 27h2M267 29h2M423 29h2M267 31h2M423 31h2M273 33h2M421 33h2M309 35h28M353 35h24M389 35h6M419 35h2M401 37h6M413 37h4M481 65h14M483 67h14"/><path stroke="#3a6aab" d="M407 19h2M397 21h4M413 21h4M283 23h28M381 23h4M419 23h2M271 25h2M421 25h2M265 27h4M423 27h2M265 29h2M425 29h2M265 31h2M271 33h2M423 33h2M283 35h26M377 35h12M421 35h2M397 37h4M417 37h2M405 39h12M479 63h18M477 65h4M495 65h6M479 67h4M497 67h6M485 69h16"/><path stroke="#4781bb" d="M401 19h6M409 19h6M323 21h46M391 21h6M417 21h2M277 23h6M421 23h2M267 25h4M423 25h2M263 27h2M425 27h2M263 29h2M263 31h2M425 31h2M267 33h4M425 33h2M277 35h6M423 35h2M325 37h42M393 37h4M419 37h4M401 39h4M417 39h4M405 41h14M407 43h10M477 61h18M475 63h4M497 63h4M473 65h4M501 65h4M475 67h4M503 67h6M479 69h6M501 69h8M491 71h10M357 105h10M357 107h12M357 109h12M361 111h6"/><path stroke="#5591c3" d="M405 15h8M401 17h14M397 19h4M415 19h4M309 21h14M369 21h22M419 21h2M273 23h4M423 23h2M265 25h2M425 25h2M261 27h2M427 27h2M261 29h2M427 29h2M261 31h2M427 31h2M265 33h2M427 33h2M275 35h2M425 35h2M309 37h16M367 37h26M423 37h2M397 39h4M421 39h2M401 41h4M419 41h4M403 43h4M417 43h4M405 45h16M409 47h8M479 59h10M471 61h6M495 61h6M469 63h6M501 63h6M471 65h2M505 65h6M473 67h2M509 67h4M475 69h4M509 69h6M483 71h8M501 71h12M355 101h14M351 103h22M351 105h6M367 105h8M351 107h6M369 107h6M351 109h6M369 109h6M351 111h10M367 111h8M353 113h20M357 115h14"/><path stroke="#60a2cb" d="M403 13h12M401 15h4M413 15h4M399 17h2M415 17h4M393 19h4M419 19h2M289 21h20M421 21h2M269 23h4M425 23h2M263 25h2M427 25h2M259 27h2M429 27h2M257 29h4M429 29h2M259 31h2M429 31h2M263 33h2M429 33h2M271 35h4M427 35h2M293 37h16M425 37h2M395 39h2M423 39h2M399 41h2M423 41h2M401 43h2M421 43h4M401 45h4M421 45h2M403 47h6M417 47h6M407 49h14M469 59h10M489 59h8M467 61h4M501 61h4M465 63h4M507 63h4M467 65h4M511 65h6M469 67h4M513 67h6M473 69h2M515 69h8M477 71h6M513 71h10M489 73h30M351 99h22M347 101h8M369 101h6M345 103h6M373 103h4M345 105h6M375 105h4M345 107h6M375 107h6M345 109h6M375 109h6M347 111h4M375 111h6M347 113h6M373 113h8M349 115h8M371 115h8M351 117h26M355 119h18"/><path stroke="#74b2d6" d="M407 9h4M401 11h16M399 13h4M415 13h4M397 15h4M417 15h4M395 17h4M419 17h2M323 19h48M387 19h6M421 19h2M279 21h10M423 21h2M267 23h2M427 23h2M259 25h4M429 25h2M257 27h2M431 27h2M255 29h2M431 29h4M257 31h2M431 31h4M261 33h2M431 33h2M267 35h4M429 35h2M283 37h10M427 37h2M327 39h40M389 39h6M425 39h4M395 41h4M425 41h2M397 43h4M425 43h2M399 45h2M423 45h4M401 47h2M423 47h4M403 49h4M421 49h4M405 51h18M411 53h6M467 57h28M461 59h8M497 59h8M47 61h2M461 61h6M505 61h6M45 63h6M461 63h4M511 63h6M45 65h6M463 65h4M517 65h4M45 67h6M465 67h4M519 67h6M47 69h4M469 69h4M523 69h6M473 71h4M523 71h6M481 73h8M519 73h10M497 75h28M359 95h10M347 97h30M343 99h8M373 99h6M341 101h6M375 101h6M339 103h6M377 103h6M339 105h6M379 105h6M339 107h6M381 107h4M339 109h6M381 109h4M341 111h6M381 111h6M341 113h6M381 113h6M343 115h6M379 115h6M345 117h6M377 117h8M347 119h8M373 119h10M349 121h32M353 123h24M361 125h8"/><path stroke="#98cde0" d="M403 7h12M399 9h8M411 9h8M397 11h4M417 11h4M395 13h4M419 13h4M393 15h4M421 15h2M389 17h6M421 17h4M305 19h18M371 19h16M423 19h2M273 21h6M425 21h2M263 23h4M429 23h2M257 25h2M431 25h2M253 27h4M433 27h2M251 29h4M435 29h2M253 31h4M435 31h2M257 33h4M433 33h2M265 35h2M431 35h2M279 37h4M429 37h2M309 39h18M367 39h22M429 39h2M143 41h4M391 41h4M427 41h4M135 43h18M393 43h4M427 43h4M133 45h24M395 45h4M427 45h4M133 47h26M397 47h4M427 47h4M133 49h26M397 49h6M425 49h4M133 51h26M401 51h4M423 51h6M133 53h24M403 53h8M417 53h8M45 55h6M137 55h18M409 55h12M461 55h30M45 57h8M141 57h10M455 57h12M495 57h8M43 59h10M453 59h8M505 59h6M43 61h4M49 61h4M455 61h6M511 61h6M43 63h2M51 63h2M455 63h6M517 63h6M43 65h2M51 65h2M457 65h6M521 65h8M43 67h2M51 67h2M461 67h4M525 67h8M43 69h4M51 69h2M465 69h4M529 69h6M43 71h10M469 71h4M529 71h6M43 73h10M475 73h6M529 73h6M45 75h6M487 75h10M525 75h10M505 77h26M245 79h6M245 81h6M243 83h10M243 85h10M243 87h10M245 89h6M247 91h2M357 93h24M343 95h16M369 95h14M337 97h10M377 97h8M335 99h8M379 99h8M333 101h8M381 101h8M333 103h6M383 103h6M333 105h6M385 105h6M333 107h6M385 107h6M333 109h6M385 109h6M333 111h8M387 111h6M333 113h8M387 113h6M335 115h8M385 115h8M337 117h8M385 117h6M337 119h10M383 119h8M339 121h10M381 121h10M343 123h10M377 123h12M345 125h16M369 125h18M349 127h34M355 129h22"/><path stroke="#b0d8e6" d="M401 3h14M397 5h22M395 7h8M415 7h6M393 9h6M419 9h4M391 11h6M421 11h4M389 13h6M423 13h2M387 15h6M423 15h4M323 17h66M425 17h2M285 19h20M425 19h4M267 21h6M427 21h4M259 23h4M431 23h2M253 25h4M433 25h4M125 27h22M249 27h4M435 27h4M115 29h42M247 29h4M437 29h4M109 31h54M249 31h4M437 31h4M105 33h62M253 33h4M435 33h4M103 35h68M261 35h4M433 35h4M103 37h70M273 37h6M431 37h4M103 39h70M299 39h10M431 39h4M103 41h40M147 41h28M329 41h42M381 41h10M431 41h4M103 43h32M153 43h22M387 43h6M431 43h4M105 45h28M157 45h18M389 45h6M431 45h4M45 47h6M107 47h26M159 47h16M391 47h6M431 47h4M43 49h10M109 49h24M159 49h16M393 49h4M429 49h6M43 51h12M109 51h24M159 51h16M395 51h6M429 51h6M41 53h14M111 53h22M157 53h18M397 53h6M425 53h10M449 53h40M41 55h4M51 55h6M115 55h22M155 55h18M399 55h10M421 55h10M445 55h16M491 55h12M41 57h4M53 57h4M117 57h24M151 57h20M405 57h20M443 57h12M503 57h8M39 59h4M53 59h4M119 59h50M445 59h8M511 59h8M39 61h4M53 61h4M123 61h44M445 61h10M517 61h8M39 63h4M53 63h4M127 63h36M449 63h6M523 63h8M39 65h4M53 65h4M133 65h22M451 65h6M529 65h6M39 67h4M53 67h4M455 67h6M533 67h2M39 69h4M53 69h4M459 69h6M41 71h2M53 71h4M463 71h6M41 73h2M53 73h2M247 73h2M469 73h6M41 75h4M51 75h4M243 75h10M479 75h8M43 77h10M241 77h12M493 77h12M531 77h4M45 79h6M241 79h4M251 79h4M513 79h22M241 81h4M251 81h4M241 83h2M253 83h2M241 85h2M253 85h2M373 85h8M241 87h2M253 87h2M371 87h14M241 89h4M251 89h4M365 89h24M241 91h6M249 91h6M357 91h34M243 93h10M339 93h18M381 93h12M245 95h6M329 95h14M383 95h10M327 97h10M385 97h8M325 99h10M387 99h8M325 101h8M389 101h6M325 103h8M389 103h6M325 105h8M391 105h6M325 107h8M391 107h6M325 109h8M391 109h6M325 111h8M393 111h6M325 113h8M393 113h6M325 115h10M393 115h6M327 117h10M391 117h8M327 119h10M391 119h8M329 121h10M391 121h8M331 123h12M389 123h10M333 125h12M387 125h10M335 127h14M383 127h12M339 129h16M377 129h16M341 131h50M345 133h42M351 135h30M363 137h8"/><path stroke="#c9e4ee" d="M401 -3h16M397 -1h22M393 1h30M391 3h10M415 3h10M93 5h36M387 5h10M419 5h6M77 7h68M383 7h12M421 7h6M65 9h90M377 9h16M423 9h4M57 11h104M331 11h60M425 11h4M51 13h114M323 13h66M425 13h4M45 15h124M313 15h74M427 15h4M41 17h132M295 17h28M427 17h4M37 19h142M273 19h12M429 19h4M37 21h146M261 21h6M431 21h4M37 23h150M255 23h4M433 23h4M37 25h152M247 25h6M437 25h4M37 27h88M147 27h44M243 27h6M439 27h4M37 29h78M157 29h34M241 29h6M441 29h4M37 31h72M163 31h28M241 31h8M441 31h6M37 33h68M167 33h24M247 33h6M439 33h6M37 35h66M171 35h18M255 35h6M437 35h6M37 37h66M173 37h16M269 37h4M435 37h6M37 39h66M173 39h14M289 39h10M435 39h6M37 41h66M175 41h10M309 41h20M371 41h10M435 41h8M37 43h66M175 43h10M323 43h64M435 43h8M37 45h68M175 45h10M333 45h56M435 45h12M37 47h8M51 47h56M175 47h10M341 47h50M435 47h28M37 49h6M53 49h56M175 49h8M353 49h40M435 49h44M37 51h6M55 51h54M175 51h8M377 51h18M435 51h58M37 53h4M55 53h56M175 53h8M381 53h16M435 53h14M489 53h16M37 55h4M57 55h58M173 55h10M385 55h14M431 55h14M503 55h12M37 57h4M57 57h60M171 57h12M363 57h12M389 57h16M425 57h18M511 57h14M37 59h2M57 59h62M169 59h12M361 59h16M397 59h48M519 59h12M37 61h2M57 61h66M167 61h14M359 61h20M431 61h14M525 61h10M37 63h2M57 63h8M75 63h52M163 63h16M359 63h20M437 63h12M531 63h4M37 65h2M57 65h6M87 65h46M155 65h22M359 65h18M441 65h10M37 67h2M57 67h6M97 67h76M361 67h16M445 67h10M37 69h2M57 69h4M105 69h62M243 69h10M361 69h16M451 69h8M37 71h4M57 71h4M115 71h42M241 71h14M363 71h14M455 71h8M37 73h4M55 73h4M127 73h16M239 73h8M249 73h8M363 73h14M463 73h6M37 75h4M55 75h4M237 75h6M253 75h4M365 75h12M471 75h8M39 77h4M53 77h4M237 77h4M253 77h6M365 77h14M483 77h10M41 79h4M51 79h4M237 79h4M255 79h4M365 79h16M499 79h14M43 81h10M237 81h4M255 81h4M365 81h20M517 81h18M237 83h4M255 83h4M365 83h22M237 85h4M255 85h4M365 85h8M381 85h10M237 87h4M255 87h4M361 87h10M385 87h8M237 89h4M255 89h2M355 89h10M389 89h8M239 91h2M255 91h2M325 91h32M391 91h6M239 93h4M253 93h4M319 93h20M393 93h6M239 95h6M251 95h6M319 95h10M393 95h8M239 97h16M317 97h10M393 97h8M241 99h14M317 99h8M395 99h6M241 101h14M317 101h8M395 101h8M241 103h12M317 103h8M395 103h8M239 105h14M317 105h8M397 105h6M235 107h20M317 107h8M397 107h6M225 109h30M317 109h8M397 109h8M217 111h38M317 111h8M399 111h6M211 113h46M317 113h8M399 113h6M205 115h52M317 115h8M399 115h8M201 117h56M317 117h10M399 117h8M197 119h60M317 119h10M399 119h8M197 121h60M317 121h12M399 121h10M199 123h54M317 123h14M399 123h10M209 125h38M319 125h14M397 125h12M319 127h16M395 127h14M321 129h18M393 129h14M323 131h18M391 131h16M325 133h20M387 133h18M327 135h24M381 135h24M331 137h32M371 137h30"/><path stroke="#e0eff5" d="M37 -5h176M293 -5h146M37 -3h170M297 -3h104M417 -3h18M37 -1h166M301 -1h96M419 -1h16M37 1h162M303 1h90M423 1h10M37 3h160M303 3h88M425 3h8M37 5h56M129 5h66M303 5h84M425 5h8M37 7h40M145 7h50M303 7h80M427 7h6M37 9h28M155 9h40M301 9h76M427 9h6M37 11h20M161 11h34M299 11h32M429 11h6M37 13h14M165 13h32M295 13h28M429 13h6M37 15h8M169 15h30M287 15h26M431 15h4M37 17h4M173 17h30M275 17h20M431 17h4M179 19h28M263 19h10M433 19h4M183 21h28M255 21h6M435 21h4M187 23h32M247 23h8M437 23h6M189 25h58M441 25h6M191 27h52M443 27h8M191 29h50M445 29h8M191 31h50M447 31h8M191 33h56M445 33h10M189 35h66M443 35h14M189 37h42M263 37h6M441 37h18M187 39h6M203 39h14M281 39h8M441 39h22M185 41h6M299 41h10M443 41h26M185 43h4M309 43h14M443 43h34M185 45h4M315 45h18M447 45h38M185 47h2M319 47h22M463 47h32M183 49h4M323 49h30M479 49h28M183 51h4M329 51h48M493 51h42M183 53h4M209 53h12M333 53h48M505 53h30M183 55h2M209 55h24M337 55h48M515 55h20M183 57h2M209 57h30M341 57h22M375 57h14M525 57h10M181 59h4M209 59h36M345 59h16M377 59h20M531 59h4M181 61h4M209 61h42M347 61h12M379 61h52M65 63h10M179 63h6M209 63h46M349 63h10M379 63h58M63 65h24M177 65h6M211 65h48M351 65h8M377 65h14M427 65h14M63 67h34M173 67h10M211 67h52M353 67h8M377 67h10M433 67h12M61 69h44M167 69h16M211 69h32M253 69h10M355 69h6M377 69h8M439 69h12M61 71h54M157 71h24M211 71h30M255 71h10M357 71h6M377 71h8M443 71h12M59 73h68M143 73h32M213 73h26M257 73h8M357 73h6M377 73h8M449 73h14M59 75h102M213 75h24M257 75h8M359 75h6M377 75h8M459 75h12M37 77h2M57 77h90M215 77h22M259 77h4M359 77h6M379 77h6M471 77h12M37 79h4M55 79h76M219 79h18M259 79h4M361 79h4M381 79h6M485 79h14M37 81h6M53 81h6M225 81h12M259 81h4M361 81h4M385 81h6M501 81h16M39 83h16M227 83h10M259 83h4M359 83h6M387 83h6M519 83h16M43 85h8M229 85h8M259 85h4M357 85h8M391 85h6M231 87h6M259 87h2M353 87h8M393 87h6M231 89h6M257 89h4M313 89h42M397 89h6M233 91h6M257 91h4M313 91h12M397 91h6M233 93h6M257 93h4M313 93h6M399 93h6M233 95h6M257 95h4M313 95h6M401 95h6M231 97h8M255 97h6M313 97h4M401 97h6M229 99h12M255 99h6M313 99h4M401 99h8M223 101h18M255 101h6M313 101h4M403 101h6M217 103h24M253 103h8M313 103h4M403 103h6M211 105h28M253 105h10M311 105h6M403 105h8M207 107h28M255 107h8M311 107h6M403 107h8M201 109h24M255 109h10M311 109h6M405 109h6M37 111h12M193 111h24M255 111h12M311 111h6M405 111h8M37 113h94M185 113h26M257 113h10M309 113h8M405 113h8M37 115h104M175 115h30M257 115h12M309 115h8M407 115h8M37 117h164M257 117h14M309 117h8M407 117h10M37 119h160M257 119h16M307 119h10M407 119h10M37 121h160M257 121h16M305 121h12M409 121h10M37 123h162M253 123h24M303 123h14M409 123h12M37 125h172M247 125h32M301 125h18M409 125h14M37 127h282M409 127h16M37 129h284M407 129h22M37 131h286M407 131h24M37 133h288M405 133h30M37 135h290M405 135h36M533 135h2M37 137h294M401 137h48M521 137h14"/><path stroke="#eef3f5" d="M213 -5h80M439 -5h96M207 -3h90M435 -3h100M203 -1h98M435 -1h100M199 1h38M263 1h40M433 1h38M503 1h32M197 3h30M273 3h30M433 3h26M517 3h18M195 5h26M277 5h26M433 5h18M525 5h10M195 7h22M281 7h22M433 7h14M531 7h4M195 9h20M281 9h20M433 9h12M195 11h20M279 11h20M435 11h8M197 13h20M275 13h20M435 13h8M199 15h20M269 15h18M435 15h8M203 17h20M261 17h14M435 17h10M207 19h24M251 19h12M437 19h8M211 21h44M439 21h8M219 23h28M443 23h8M447 25h10M451 27h10M453 29h12M531 29h4M455 31h16M527 31h8M455 33h22M523 33h12M457 35h28M517 35h18M231 37h32M459 37h36M509 37h26M193 39h10M217 39h24M275 39h6M463 39h72M191 41h36M293 41h6M469 41h66M189 43h4M201 43h18M301 43h8M477 43h58M189 45h2M205 45h10M307 45h8M485 45h50M187 47h4M205 47h12M311 47h8M495 47h40M187 49h2M205 49h18M315 49h8M507 49h28M187 51h2M205 51h30M319 51h10M187 53h2M205 53h4M221 53h22M325 53h8M185 55h2M205 55h4M233 55h16M329 55h8M185 57h2M205 57h4M239 57h14M333 57h8M185 59h2M205 59h4M245 59h14M337 59h8M185 61h2M207 61h2M251 61h14M341 61h6M185 63h2M207 63h2M255 63h14M345 63h4M183 65h2M207 65h4M259 65h14M347 65h4M391 65h36M183 67h2M207 67h4M263 67h14M349 67h4M387 67h12M419 67h14M183 69h2M207 69h4M263 69h18M351 69h4M385 69h8M427 69h12M181 71h4M207 71h4M265 71h18M353 71h4M385 71h6M431 71h12M175 73h10M207 73h6M265 73h20M353 73h4M385 73h4M433 73h16M161 75h22M207 75h6M265 75h20M355 75h4M385 75h4M437 75h22M147 77h32M207 77h8M263 77h12M355 77h4M385 77h6M441 77h30M131 79h24M207 79h12M263 79h10M355 79h6M387 79h6M467 79h18M59 81h84M209 81h16M263 81h8M355 81h6M391 81h4M487 81h14M37 83h2M55 83h74M209 83h18M263 83h6M303 83h10M355 83h4M393 83h6M503 83h16M37 85h6M51 85h8M211 85h18M263 85h4M303 85h22M351 85h6M397 85h6M517 85h18M37 87h16M213 87h18M261 87h6M305 87h48M399 87h6M531 87h4M215 89h16M261 89h6M305 89h8M403 89h6M217 91h16M261 91h4M307 91h6M403 91h8M217 93h16M261 93h4M307 93h6M405 93h6M217 95h16M261 95h4M307 95h6M407 95h6M215 97h16M261 97h4M307 97h6M407 97h8M211 99h18M261 99h6M309 99h4M409 99h6M209 101h14M261 101h6M309 101h4M409 101h6M205 103h12M261 103h6M309 103h4M409 103h8M37 105h10M199 105h12M263 105h6M307 105h4M411 105h6M37 107h54M193 107h14M263 107h6M307 107h4M411 107h8M37 109h94M185 109h16M265 109h6M307 109h4M411 109h8M49 111h92M175 111h18M267 111h6M305 111h6M413 111h8M131 113h54M267 113h8M305 113h4M413 113h10M141 115h34M269 115h10M303 115h6M415 115h10M271 117h14M299 117h10M417 117h10M273 119h34M417 119h14M273 121h32M419 121h16M277 123h26M421 123h18M529 123h6M279 125h22M423 125h24M521 125h14M425 127h34M509 127h26M429 129h106M431 131h104M435 133h100M441 135h92M449 137h72"/><path stroke="#f7f4f0" d="M237 1h26M471 1h32M227 3h46M459 3h58M221 5h56M451 5h74M217 7h64M447 7h34M495 7h36M215 9h28M253 9h28M445 9h22M509 9h26M215 11h26M255 11h24M443 11h20M515 11h20M217 13h58M443 13h16M517 13h18M219 15h50M443 15h16M521 15h14M223 17h38M445 17h14M521 17h14M231 19h20M445 19h16M521 19h14M447 21h16M519 21h16M451 23h16M517 23h18M457 25h16M513 25h22M461 27h22M507 27h28M465 29h66M471 31h56M477 33h46M485 35h32M495 37h14M241 39h34M227 41h18M287 41h6M193 43h8M219 43h18M295 43h6M191 45h14M215 45h16M301 45h6M191 47h2M201 47h4M217 47h18M305 47h6M189 49h2M201 49h4M223 49h18M309 49h6M189 51h2M203 51h2M235 51h12M313 51h6M189 53h2M203 53h2M243 53h10M319 53h6M187 55h2M203 55h2M249 55h8M323 55h6M187 57h2M203 57h2M253 57h10M327 57h6M187 59h2M259 59h10M331 59h6M187 61h2M205 61h2M265 61h8M337 61h4M205 63h2M269 63h10M339 63h6M185 65h2M205 65h2M273 65h10M343 65h4M185 67h2M205 67h2M277 67h10M345 67h4M399 67h20M185 69h2M205 69h2M281 69h10M347 69h4M393 69h14M409 69h18M185 71h2M205 71h2M283 71h12M349 71h4M391 71h6M419 71h12M185 73h2M205 73h2M285 73h12M351 73h2M389 73h6M423 73h10M183 75h4M205 75h2M285 75h16M351 75h4M389 75h6M427 75h10M179 77h6M205 77h2M275 77h30M351 77h4M391 77h4M429 77h12M155 79h30M205 79h2M273 79h36M351 79h4M393 79h6M429 79h38M143 81h18M205 81h4M271 81h46M351 81h4M395 81h6M431 81h56M129 83h16M205 83h4M269 83h34M313 83h12M349 83h6M399 83h6M435 83h18M487 83h16M59 85h76M205 85h6M267 85h10M287 85h16M325 85h26M403 85h8M505 85h12M53 87h6M207 87h6M267 87h6M293 87h12M405 87h8M517 87h14M37 89h16M207 89h8M267 89h6M297 89h8M409 89h8M525 89h10M37 91h12M207 91h10M265 91h6M301 91h6M411 91h8M533 91h2M37 93h2M207 93h10M265 93h6M303 93h4M411 93h10M207 95h10M265 95h6M303 95h4M413 95h8M205 97h10M265 97h6M303 97h4M415 97h6M37 99h6M203 99h8M267 99h4M305 99h4M415 99h8M37 101h14M201 101h8M267 101h4M305 101h4M415 101h8M37 103h36M195 103h10M267 103h6M305 103h4M417 103h6M47 105h80M189 105h10M269 105h6M305 105h2M417 105h8M91 107h46M181 107h12M269 107h8M303 107h4M419 107h8M131 109h14M171 109h14M271 109h8M303 109h4M419 109h10M141 111h34M273 111h10M301 111h4M421 111h10M275 113h18M295 113h10M423 113h10M279 115h24M425 115h12M533 115h2M285 117h14M427 117h14M527 117h8M431 119h16M521 119h14M435 121h20M513 121h22M439 123h30M497 123h32M447 125h74M459 127h50"/><path stroke="#f8e6da" d="M481 7h14M243 9h10M467 9h42M241 11h14M463 11h52M459 13h58M459 15h62M459 17h62M461 19h60M463 21h56M467 23h50M473 25h40M483 27h24M245 41h12M279 41h8M237 43h12M291 43h4M231 45h16M297 45h4M193 47h8M235 47h12M301 47h4M191 49h4M197 49h4M241 49h10M305 49h4M191 51h2M199 51h4M247 51h8M309 51h4M191 53h2M201 53h2M253 53h6M313 53h6M189 55h2M201 55h2M257 55h6M317 55h6M189 57h2M201 57h2M263 57h6M323 57h4M189 59h2M203 59h2M269 59h6M327 59h4M203 61h2M273 61h8M331 61h6M187 63h2M203 63h2M279 63h6M337 63h2M187 65h2M203 65h2M283 65h6M339 65h4M187 67h2M203 67h2M287 67h6M343 67h2M187 69h2M203 69h2M291 69h6M345 69h2M407 69h2M187 71h2M203 71h2M295 71h4M345 71h4M397 71h22M187 73h2M203 73h2M297 73h6M347 73h4M395 73h10M411 73h12M187 75h2M203 75h2M301 75h6M347 75h4M395 75h8M417 75h10M185 77h4M203 77h2M305 77h6M349 77h2M395 77h8M419 77h10M185 79h4M203 79h2M309 79h8M347 79h4M399 79h8M419 79h10M161 81h26M203 81h2M317 81h6M345 81h6M401 81h30M145 83h40M203 83h2M325 83h24M405 83h30M453 83h34M135 85h12M203 85h2M277 85h10M411 85h58M485 85h20M59 87h78M203 87h4M273 87h20M413 87h40M503 87h14M53 89h6M77 89h50M203 89h4M273 89h24M417 89h26M513 89h12M49 91h6M203 91h4M271 91h30M419 91h18M521 91h12M39 93h14M203 93h4M271 93h8M293 93h10M421 93h12M525 93h10M37 95h14M201 95h6M271 95h6M297 95h6M421 95h10M529 95h6M37 97h16M199 97h6M271 97h6M299 97h4M421 97h10M531 97h4M43 99h14M197 99h6M271 99h6M299 99h6M423 99h8M533 99h2M51 101h70M191 101h10M271 101h8M301 101h4M423 101h8M73 103h58M185 103h10M273 103h8M299 103h6M423 103h8M127 105h12M177 105h12M275 105h8M299 105h6M425 105h8M533 105h2M137 107h10M169 107h12M277 107h12M297 107h6M427 107h8M533 107h2M145 109h26M279 109h24M429 109h8M531 109h4M283 111h18M431 111h8M527 111h8M293 113h2M433 113h10M523 113h12M437 115h12M519 115h14M441 117h14M511 117h16M447 119h20M499 119h22M455 121h58M469 123h28"/><path stroke="#f5d3c0" d="M257 41h22M249 43h8M285 43h6M247 45h8M291 45h6M247 47h8M297 47h4M195 49h2M251 49h6M299 49h6M193 51h6M255 51h6M303 51h6M193 53h2M197 53h4M259 53h6M307 53h6M191 55h2M199 55h2M263 55h8M313 55h4M191 57h2M269 57h8M317 57h6M201 59h2M275 59h8M323 59h4M189 61h2M201 61h2M281 61h6M327 61h4M189 63h2M201 63h2M285 63h6M333 63h4M189 65h2M201 65h2M289 65h6M337 65h2M189 67h2M201 67h2M293 67h6M339 67h4M189 69h2M201 69h2M297 69h4M341 69h4M189 71h2M201 71h2M299 71h6M343 71h2M189 73h2M201 73h2M303 73h4M345 73h2M405 73h6M189 75h2M201 75h2M307 75h4M345 75h2M403 75h14M189 77h2M201 77h2M311 77h4M345 77h4M403 77h16M189 79h2M201 79h2M317 79h4M343 79h4M407 79h12M187 81h4M201 81h2M323 81h22M185 83h6M199 83h4M147 85h42M199 85h4M469 85h16M137 87h10M181 87h6M199 87h4M453 87h50M59 89h18M127 89h12M199 89h4M443 89h16M501 89h12M55 91h4M75 91h56M199 91h4M437 91h14M509 91h12M53 93h4M77 93h48M197 93h6M279 93h14M433 93h12M515 93h10M51 95h6M79 95h44M195 95h6M277 95h20M431 95h10M521 95h8M53 97h6M75 97h50M191 97h8M277 97h22M431 97h8M523 97h8M57 99h72M187 99h10M277 99h22M431 99h6M525 99h8M121 101h14M181 101h10M279 101h22M431 101h6M525 101h10M131 103h10M175 103h10M281 103h18M431 103h8M525 103h10M139 105h10M167 105h10M283 105h16M433 105h6M525 105h8M147 107h22M289 107h8M435 107h6M523 107h10M437 109h8M521 109h10M439 111h10M517 111h10M443 113h12M511 113h12M449 115h14M503 115h16M455 117h56M467 119h32"/><path stroke="#efb79e" d="M257 43h12M275 43h10M255 45h6M287 45h4M255 47h6M291 47h6M257 49h6M295 49h4M261 51h4M299 51h4M195 53h2M265 53h6M301 53h6M193 55h6M271 55h6M307 55h6M193 57h2M197 57h4M277 57h8M311 57h6M191 59h2M199 59h2M283 59h6M317 59h6M191 61h2M199 61h2M287 61h6M323 61h4M191 63h2M291 63h6M329 63h4M295 65h4M333 65h4M299 67h4M337 67h2M301 69h4M339 69h2M305 71h4M341 71h2M191 73h2M199 73h2M307 73h4M341 73h4M191 75h2M199 75h2M311 75h4M341 75h4M191 77h2M199 77h2M315 77h4M341 77h4M191 79h2M197 79h4M321 79h8M335 79h8M191 81h10M191 83h8M189 85h10M147 87h34M187 87h12M139 89h8M175 89h24M459 89h42M59 91h16M131 91h10M181 91h18M451 91h12M497 91h12M57 93h4M71 93h6M125 93h12M183 93h14M445 93h10M507 93h8M57 95h6M69 95h10M123 95h12M183 95h12M441 95h8M511 95h10M59 97h16M125 97h10M181 97h10M439 97h8M515 97h8M129 99h10M179 99h8M437 99h8M517 99h8M135 101h8M173 101h8M437 101h6M517 101h8M141 103h8M167 103h8M439 103h6M517 103h8M149 105h18M439 105h8M517 105h8M441 107h8M513 107h10M445 109h8M511 109h10M449 111h10M505 111h12M455 113h16M495 113h16M463 115h40"/><path stroke="#e8a080" d="M269 43h6M261 45h10M279 45h8M261 47h6M285 47h6M263 49h6M289 49h6M265 51h8M291 51h8M271 53h8M295 53h6M277 55h12M297 55h10M195 57h2M285 57h12M301 57h10M193 59h6M289 59h10M309 59h8M193 61h2M197 61h2M293 61h8M317 61h6M199 63h2M297 63h6M323 63h6M191 65h2M199 65h2M299 65h6M329 65h4M191 67h2M199 67h2M303 67h4M333 67h4M191 69h2M199 69h2M305 69h4M337 69h2M191 71h2M199 71h2M309 71h2M339 71h2M193 73h2M197 73h2M311 73h4M339 73h2M193 75h6M315 75h4M339 75h2M193 77h6M319 77h6M335 77h6M193 79h4M329 79h6M147 89h28M141 91h8M171 91h10M463 91h34M61 93h10M137 93h6M175 93h8M455 93h10M495 93h12M63 95h6M135 95h6M175 95h8M449 95h8M503 95h8M135 97h8M175 97h6M447 97h6M507 97h8M139 99h6M171 99h8M445 99h6M509 99h8M143 101h8M165 101h8M443 101h8M509 101h8M149 103h18M445 103h6M509 103h8M447 105h6M507 105h10M449 107h8M505 107h8M453 109h10M499 109h12M459 111h46M471 113h24"/><path stroke="#e08468" d="M271 45h8M267 47h18M269 49h20M273 51h18M279 53h16M289 55h8M297 57h4M299 59h10M195 61h2M301 61h16M193 63h6M303 63h20M193 65h6M305 65h6M325 65h4M193 67h6M307 67h4M331 67h2M193 69h6M309 69h4M333 69h4M193 71h6M311 71h4M335 71h4M195 73h2M315 73h4M335 73h4M319 75h4M333 75h6M325 77h10M149 91h22M143 93h8M165 93h10M465 93h30M141 95h8M167 95h8M457 95h10M491 95h12M143 97h6M167 97h8M453 97h8M497 97h10M145 99h10M161 99h10M451 99h6M501 99h8M151 101h14M451 101h6M503 101h6M451 103h6M501 103h8M453 105h8M499 105h8M457 107h10M493 107h12M463 109h36"/><path stroke="#d9664f" d="M311 65h14M311 67h8M323 67h8M313 69h4M329 69h4M315 71h4M331 71h4M319 73h4M331 73h4M323 75h10M151 93h14M149 95h18M467 95h24M149 97h18M461 97h12M485 97h12M155 99h6M457 99h8M491 99h10M457 101h8M493 101h10M457 103h10M491 103h10M461 105h12M485 105h14M467 107h26"/><path stroke="#d24d44" d="M319 67h4M317 69h12M319 71h12M323 73h8M473 97h12M465 99h26M465 101h28M467 103h24M473 105h12"/></g><path fill="none" stroke="#111" stroke-width="1.9" stroke-dasharray="1.9 1.475" d="M362.7 123.7h15.4M467.3 123.7h5.3M447.1 117.6h35.6M288.4 111.9h8.7M443.7 111.9h52.5M139.9 106.5h12M160.2 106.5h8.7M177.1 106.5h8.7M440.3 106.5h32.3M487.6 106.5h18.8M139.9 101.4h12M163.6 101.4h5.3M177.1 101.4h5.3M440.3 101.4h32.3M490.9 101.4h18.8M139.9 96.5h12M177.1 96.5h5.3M440.3 96.5h18.8M467.3 96.5h8.7M494.3 96.5h18.8M139.9 91.9h8.7M507.8 91.9h5.3M322.2 78.9h1.9M315.4 74.8h8.7M335.7 74.8h8.7M308.7 70.9h15.4M339.1 70.9h1.9M301.9 67h22.1M281.7 63.2h42.4M281.7 59.6h42.4M281.7 55.9h32.3M295.2 45.4h28.9M274.9 41.9h93M129.8 38.5h39M261.4 38.5h133.5M123 35.1h69.4M261.4 35.1h136.9M119.7 31.7h72.8M261.4 31.7h140.3M112.9 28.4h79.5M261.4 28.4h143.7M106.2 25h86.3M261.4 25h160.5M106.2 21.6h86.3M261.4 21.6h160.5M106.2 18.2h86.3M271.6 18.2h150.4M106.2 14.8h86.3M285.1 14.8h136.9M106.2 11.4h86.3M369.4 11.4h52.5M106.2 7.9h86.3M106.2 4.4h86.3"/><use href="#land" fill="#000"/><ellipse cx="87.5" cy="30" rx="1.3" ry="1.6" fill="#fff"/></g><path d="M43,7.9h4M529,7.9h-4M43,28.4h4M529,28.4h-4M43,48.9h4M529,48.9h-4M43,70.9h4M529,70.9h-4M43,96.5h4M529,96.5h-4M124,0.8v4M124,130.2v-4M205,0.8v4M205,130.2v-4M286,0.8v4M286,130.2v-4M367,0.8v4M367,130.2v-4M448,0.8v4M448,130.2v-4" stroke="#000" stroke-width="1.3" fill="none"/><rect x="43" y="0.8" width="486" height="129.4" fill="none" stroke="#000" stroke-width="1.7"/></g><text class="ax" x="5" y="15.8" textLength="35.4" lengthAdjust="spacingAndGlyphs">15<tspan font-size="9.8" dy="-5.6">o</tspan><tspan dy="5.6">N</tspan></text><text class="ax" x="20.5" y="35.7" textLength="16.9" lengthAdjust="spacingAndGlyphs">0<tspan font-size="9.8" dy="-5.6">o</tspan><tspan dy="5.6"></tspan></text><text class="ax" x="7.7" y="56.2" textLength="32.7" lengthAdjust="spacingAndGlyphs">15<tspan font-size="9.8" dy="-5.6">o</tspan><tspan dy="5.6">S</tspan></text><text class="ax" x="6.5" y="78.2" textLength="33.9" lengthAdjust="spacingAndGlyphs">30<tspan font-size="9.8" dy="-5.6">o</tspan><tspan dy="5.6">S</tspan></text><text class="ax" x="6.8" y="103.8" textLength="33.6" lengthAdjust="spacingAndGlyphs">45<tspan font-size="9.8" dy="-5.6">o</tspan><tspan dy="5.6">S</tspan></text><text class="ax" x="6.6" y="137.7" textLength="33.8" lengthAdjust="spacingAndGlyphs">60<tspan font-size="9.8" dy="-5.6">o</tspan><tspan dy="5.6">S</tspan></text><text class="ax" x="35.2" y="145.8" textLength="17.8" lengthAdjust="spacingAndGlyphs">0<tspan font-size="9.8" dy="-5.6">o</tspan><tspan dy="5.6"></tspan></text><text class="ax" x="107.9" y="145.8" textLength="34.8" lengthAdjust="spacingAndGlyphs">60<tspan font-size="9.8" dy="-5.6">o</tspan><tspan dy="5.6">E</tspan></text><text class="ax" x="184.4" y="145.8" textLength="42.4" lengthAdjust="spacingAndGlyphs">120<tspan font-size="9.8" dy="-5.6">o</tspan><tspan dy="5.6">E</tspan></text><text class="ax" x="263.3" y="145.8" textLength="47.4" lengthAdjust="spacingAndGlyphs">180<tspan font-size="9.8" dy="-5.6">o</tspan><tspan dy="5.6">W</tspan></text><text class="ax" x="343.8" y="145.8" textLength="46.8" lengthAdjust="spacingAndGlyphs">120<tspan font-size="9.8" dy="-5.6">o</tspan><tspan dy="5.6">W</tspan></text><text class="ax" x="429.5" y="145.8" textLength="39.3" lengthAdjust="spacingAndGlyphs">60<tspan font-size="9.8" dy="-5.6">o</tspan><tspan dy="5.6">W</tspan></text><text class="ax" x="522.8" y="145.8" textLength="17" lengthAdjust="spacingAndGlyphs">0<tspan font-size="9.8" dy="-5.6">o</tspan><tspan dy="5.6"></tspan></text><text class="lb" x="52.6" y="126.5" textLength="95.5" lengthAdjust="spacingAndGlyphs">g) Group 7</text></g><g><rect x="552" y="3.1" width="105.5" height="136.9" fill="#ffffff"/><path fill="#f4dfd3" d="M636.7,3.1L657.5,3.1L657.5,41.2L629.4,41.2L627.4,33.2L627.4,21.2L629.4,14.1L633.4,7.1Z"/><path fill="#efb7a0" d="M626.7,33.2L625,35.7L622.7,41.9L618.8,46.5L611.1,49.6L603.3,51.9L598.6,55.9L595.5,62.1L593.7,68.3L595.2,74.3L600.2,78.3L601.7,82.7L604.9,92.1L612.7,101.4L621.9,106L632.9,110.4L645.4,115.4L657.5,116.8L657.5,40.2L629.4,40.2Z"/><path fill="#ffffff" d="M598.6,55.9L595.5,62.1L593.7,68.3L591.7,73.3L589.3,78L585.5,85.8L579.1,93.4L582.1,100.4L588.2,93.4L593.3,89.5L600.3,77.1L604.8,68.4L602.2,63.3Z"/><path fill="#efb7a0" d="M552,113.7L558.2,111.4L564.5,108.3L569.1,103.7L574.1,100.4L578.1,102.9L570.7,113.7L564.5,123.1L559,132.4L556.6,140L552,140Z"/><path fill="#efb7a0" d="M598.2,140L602.2,136.5L612.3,135.5L622.3,136.5L625.3,140Z"/><path fill="#000" d="M552,3.1L636.7,3.1L632.9,7.7L629,14.7L626.8,20L626.4,25.2L625.9,31.5L624.1,37.6L621.5,42.9L618.8,46.4L613.6,49L608.3,50.3L603.8,52.5L599.5,56.1L596,59.6L594.2,65.7L591.6,72.7L587.4,79.9L583.1,86.3L578.7,90.8L574.5,94.3L569.6,95.4L566.1,95L561.8,92.9L562.7,94L564,95.4L566.1,98.5L567.2,102.7L564.7,107.6L560.4,110.4L555.5,112.2L552,112.5Z"/><path fill="none" stroke="#1a1a1a" stroke-width="0.8" d="M636.7,4.6L632.4,9.1L629.9,15.1L629,20L629.4,28.9L627.7,35L624.1,39.4L623.2,45.5L617.1,49.9L608.3,54.2L601.2,62.2L596.8,69.3L592.2,75.3L588.6,80.2L587.2,87.2L583.6,93.6L578.7,100.6L574.5,104.8L571.7,109.7L569.6,115.3L567.5,120.3L563.6,127.5L559.5,134.5L556.6,140M638.9,5.1L634.4,11.1L631.4,16.1L630.3,20L632.9,25.4L632.1,30.6L632.9,36.7L629.4,40.2L627.7,46.4L623.2,53.4L621.5,57.9L618,66.6L615.3,69.3L612.3,66.3L610.1,66.6L604.8,68.4L601.2,74.3L598.5,80.2L594.2,87.2L590,92.9L585.1,97.8L580.1,103.4L576.6,109.7L573.8,115.3L572.4,120.3L568.6,127.5L565.1,134.5L562.9,140M629.8,40.2L632.4,38.7L635.4,40.7L638.4,39.2L641.4,41L644.4,39.7L647.5,41.2L651.5,40.2L653.5,41.7M630.4,75.3L632.4,72.3L635.4,71.8L638.4,73.3L641.4,70.3L644.4,69.8L647.5,71.3L650.5,73.3L651.5,76.3L649.5,79.3L646.4,81.3L642.4,82.8L638.4,84.8L634.4,83.3L631.4,80.3L630.4,75.3M648.5,58.3L651.5,57.3L655.5,59.3L657.5,58.3M647.5,89.4L650.5,91.4L653.5,89.4L656.5,92.4M640.4,8.1L643.4,11.1L646.4,10.1L649.5,13.1L651.5,16.1M629.4,43.2L631.4,47.2L630.4,51.2L632.4,55.3"/><rect x="552.8" y="3.9" width="104" height="135.4" fill="none" stroke="#333" stroke-width="1.5"/></g><g><rect x="552.3" y="179.7" width="105" height="136.4" fill="#ffffff"/><path fill="#f4dfd3" d="M552.3,179.7L657.3,179.7L657.3,239.7L642.3,237.7L627.3,235.7L612.3,236.7L602.3,239.7L598.3,244.7L596.3,254.6L592.3,264.6L582.3,276.6L572.3,287.6L566.3,299.6L560.3,316.1L552.3,316.1Z"/><path fill="#efb7a0" d="M598.3,234.7L612.3,232.7L627.3,235.7L642.3,237.7L657.3,239.7L657.3,292.6L647.3,289.6L637.3,286.6L627.3,282.6L617.3,278.6L610.3,274.6L604.3,264.6L602.3,254.6L600.3,244.7Z"/><path fill="#f4dfd3" d="M634.3,244.7L657.3,242.7L657.3,271.6L644.3,269.6L636.3,259.6Z"/><path fill="#efb7a0" d="M596.3,316.1L600.3,309.6L612.3,307.6L624.3,309.6L629.3,316.1Z"/><path fill="#000" d="M552.3,179.7L636.6,179.7L632.8,184.3L628.9,191.3L626.7,196.6L626.3,201.7L625.8,208L624.1,214.1L621.5,219.4L618.8,222.9L613.6,225.5L608.3,226.8L603.9,229L599.6,232.5L596.1,236L594.3,242.1L591.7,249L587.5,256.2L583.3,262.6L578.9,267L574.7,270.5L569.8,271.6L566.3,271.2L562.1,269.1L562.9,270.2L564.2,271.6L566.3,274.7L567.4,278.9L564.9,283.8L560.7,286.6L555.8,288.4L552.3,288.7Z"/><path fill="none" stroke="#1a1a1a" stroke-width="0.8" d="M636.6,181.2L632.3,185.7L629.8,191.7L628.9,196.6L629.3,205.4L627.6,211.5L624.1,215.9L623.2,222L617.1,226.4L608.3,230.7L601.3,238.6L596.9,245.7L592.3,251.6L588.7,256.5L587.3,263.5L583.8,269.8L578.9,276.8L574.7,281L571.9,285.9L569.8,291.5L567.7,296.5L563.8,303.6L559.8,310.6L556.9,316.1M638.8,181.7L634.3,187.7L631.3,192.7L630.2,196.6L632.8,201.9L632,207.1L632.8,213.2L629.3,216.7L627.6,222.9L623.2,229.9L621.5,234.3L618,243L615.3,245.7L612.3,242.7L610.1,243L604.8,244.8L601.3,250.6L598.6,256.5L594.3,263.5L590.1,269.1L585.2,274L580.3,279.6L576.8,285.9L574,291.5L572.6,296.5L568.8,303.6L565.3,310.6L563.1,316.1M629.7,216.7L632.3,215.2L635.3,217.2L638.3,215.7L641.3,217.5L644.3,216.2L647.3,217.7L651.3,216.7L653.3,218.2M630.3,251.6L632.3,248.6L635.3,248.1L638.3,249.6L641.3,246.7L644.3,246.2L647.3,247.7L650.3,249.6L651.3,252.6L649.3,255.6L646.3,257.6L642.3,259.1L638.3,261.1L634.3,259.6L631.3,256.6L630.3,251.6M648.3,234.7L651.3,233.7L655.3,235.7L657.3,234.7M647.3,265.6L650.3,267.6L653.3,265.6L656.3,268.6M640.3,184.7L643.3,187.7L646.3,186.7L649.3,189.7L651.3,192.7M629.3,219.7L631.3,223.7L630.3,227.7L632.3,231.7"/><rect x="553" y="180.4" width="103.5" height="134.9" fill="none" stroke="#333" stroke-width="1.5"/></g><g><rect x="552.3" y="363.3" width="104.9" height="136.1" fill="#efb7a0"/><path fill="#ffffff" d="M636.5,363.3L657.2,363.3L657.2,393.2L647.2,396.2L640.2,399.2L632.2,401.2L628.2,393.2L628.2,378.3L632.2,368.3Z"/><path fill="#ffffff" d="M632.2,401.2L642.2,399.2L656.2,400.2L656.2,407.2L647.2,409.2L637.2,408.2Z"/><path fill="#ee8e74" d="M580.3,460.2L593,453.9L599.3,460.2L615,469.7L630.7,474.4L643.3,476L657.2,479.1L657.2,485.3L646.5,482.3L633.9,480.7L618.1,477.5L605.5,472.8L593,468.1L580.3,464.9Z"/><path fill="#ffffff" d="M570.9,499.4L571.8,487.9L574.3,475L578.8,461.8L580.3,464.9L593,468.1L605.5,472.8L618.1,477.5L633.9,480.7L646.5,482.3L657.2,485.3L657.2,494.9L640.2,491.6L624.4,486.9L611.8,483.7L602.4,483.7L596.1,486.9L591.4,493.2L589.8,499.4Z"/><path fill="#ee8e74" d="M589.8,499.4L591.4,493.2L596.1,486.9L602.4,483.7L611.8,483.7L624.4,486.9L640.2,491.6L657.2,494.9L657.2,497.1L640.2,494L624.4,490L611.8,486.9L599.3,490L594.6,499.4Z"/><path fill="#000" d="M552.3,363.3L636.5,363.3L632.7,367.9L628.8,374.9L626.6,380.2L626.2,385.2L625.7,391.5L624,397.6L621.4,402.9L618.7,406.4L613.5,409L608.2,410.3L603.9,412.5L599.6,415.9L596.1,419.4L594.3,425.5L591.7,432.5L587.5,439.7L583.3,446.1L578.9,450.4L574.7,453.9L569.8,455L566.3,454.6L562.1,452.5L562.9,453.6L564.2,455L566.3,458.1L567.4,462.3L564.9,467.2L560.7,470L555.8,471.8L552.3,472.1Z"/><path fill="none" stroke="#1a1a1a" stroke-width="0.8" d="M636.5,364.8L632.2,369.3L629.7,375.3L628.8,380.2L629.2,388.9L627.5,395L624,399.4L623.1,405.5L617,409.9L608.2,414.2L601.3,422L596.9,429.1L592.3,435.1L588.7,440L587.3,447L583.8,453.2L578.9,460.2L574.7,464.4L571.9,469.3L569.8,474.9L567.7,479.9L563.8,486.9L559.8,493.9L556.9,499.4M638.7,365.3L634.2,371.3L631.2,376.3L630.1,380.2L632.7,385.4L631.9,390.6L632.7,396.7L629.2,400.2L627.5,406.4L623.1,413.4L621.4,417.7L617.9,426.4L615.2,429.1L612.2,426.1L610,426.4L604.8,428.2L601.3,434.1L598.6,440L594.3,447L590.1,452.5L585.2,457.4L580.3,463L576.8,469.3L574,474.9L572.6,479.9L568.8,486.9L565.3,493.9L563.1,499.4M629.6,400.2L632.2,398.7L635.2,400.7L638.2,399.2L641.2,401L644.2,399.7L647.2,401.2L651.2,400.2L653.2,401.7M630.2,435.1L632.2,432.1L635.2,431.6L638.2,433.1L641.2,430.1L644.2,429.6L647.2,431.1L650.2,433.1L651.2,436.1L649.2,439.1L646.2,441.1L642.2,442.6L638.2,444.6L634.2,443.1L631.2,440.1L630.2,435.1M648.2,418.1L651.2,417.1L655.2,419.1L657.2,418.1M647.2,449L650.2,451L653.2,449L656.2,452M640.2,368.3L643.2,371.3L646.2,370.3L649.2,373.3L651.2,376.3M629.2,403.2L631.2,407.2L630.2,411.2L632.2,415.1"/><rect x="553" y="364.1" width="103.4" height="134.6" fill="none" stroke="#333" stroke-width="1.5"/></g><g><rect x="554.2" y="544.1" width="105" height="135.8" fill="#ee8e74"/><path fill="#ffffff" d="M638.5,544.1L659.2,544.1L659.2,582.9L642.2,583.9L636.2,589.9L630.2,595.8L626.2,589.9L626.2,583.9L629.2,569L631.2,555L635.2,548.1Z"/><path fill="#efb7a0" d="M614.2,593.8L624.2,591.9L634.2,593.8L634.2,601.8L622.2,602.8L614.2,599.8Z"/><path fill="#efb7a0" d="M618.2,628.7L634.2,625.7L654.2,628.7L654.2,647.6L639.2,646.6L624.2,641.6Z"/><path fill="#ffffff" d="M571.2,679.9L573.2,663.5L577.2,648.6L584.2,642.6L594.2,643.6L603.2,647.6L614.2,652.5L629.2,654.5L644.2,657.5L653.2,662.5L653.2,673.4L639.2,672.4L624.2,670.4L609.2,669.5L603.2,679.9Z"/><path fill="#ef6a50" d="M641.2,655.5L654.2,654.5L658.2,663.5L658.2,672.4L650.2,671.4L643.2,665.5Z"/><path fill="#000" d="M554.2,544.1L638.5,544.1L634.7,548.7L630.8,555.6L628.6,560.9L628.2,566L627.7,572.3L626,578.3L623.4,583.6L620.7,587.1L615.5,589.7L610.2,591L605.8,593.1L601.5,596.6L598,600.1L596.2,606.2L593.6,613.1L589.4,620.3L585.2,626.7L580.8,631.1L576.6,634.5L571.7,635.6L568.2,635.2L564,633.1L564.8,634.2L566.1,635.6L568.2,638.7L569.3,642.9L566.8,647.8L562.6,650.6L557.7,652.3L554.2,652.6Z"/><path fill="none" stroke="#1a1a1a" stroke-width="0.8" d="M638.5,545.6L634.2,550.1L631.7,556L630.8,560.9L631.2,569.7L629.5,575.7L626,580.1L625.1,586.2L619,590.6L610.2,594.8L603.2,602.7L598.8,609.8L594.2,615.7L590.6,620.6L589.2,627.6L585.7,633.8L580.8,640.8L576.6,645L573.8,649.9L571.7,655.4L569.6,660.4L565.7,667.5L561.7,674.4L558.8,679.9M640.7,546.1L636.2,552.1L633.2,557L632.1,560.9L634.7,566.2L633.9,571.4L634.7,577.4L631.2,580.9L629.5,587.1L625.1,594L623.4,598.4L619.9,607.1L617.2,609.8L614.2,606.8L612,607.1L606.7,608.9L603.2,614.7L600.5,620.6L596.2,627.6L592,633.1L587.1,638L582.2,643.6L578.7,649.9L575.9,655.4L574.5,660.4L570.7,667.5L567.2,674.4L565,679.9M631.6,580.9L634.2,579.4L637.2,581.4L640.2,579.9L643.2,581.7L646.2,580.4L649.2,581.9L653.2,580.9L655.2,582.4M632.2,615.7L634.2,612.7L637.2,612.2L640.2,613.7L643.2,610.8L646.2,610.3L649.2,611.8L652.2,613.7L653.2,616.7L651.2,619.7L648.2,621.7L644.2,623.2L640.2,625.2L636.2,623.7L633.2,620.7L632.2,615.7M650.2,598.8L653.2,597.8L657.2,599.8L659.2,598.8M649.2,629.7L652.2,631.6L655.2,629.7L658.2,632.6M642.2,549.1L645.2,552.1L648.2,551.1L651.2,554L653.2,557M631.2,583.9L633.2,587.9L632.2,591.9L634.2,595.8"/><rect x="555" y="544.9" width="103.5" height="134.3" fill="none" stroke="#333" stroke-width="1.5"/></g><g><rect x="554.6" y="721.1" width="104.9" height="136" fill="#ffffff"/><path fill="#d42a26" d="M564.6,857.1L571.3,823.1L581.3,816.5L591.3,814.9L597.9,819.8L606.2,828.1L617.8,831.4L627.8,836.4L641.1,839.7L649.4,838.1L654.4,843.1L654.5,857.1Z"/><path fill="#ffffff" d="M599.6,857.1L601.6,846.6L607.5,844.6L611.5,848.6L612.5,857.1Z"/><path fill="#b01f21" d="M572.6,857.1L572.6,830.7L579.6,824.7L589.6,824.7L597.6,832.7L597.6,845.6L592.6,857.1Z"/><path fill="#d42a26" d="M581.6,808.8L585.6,800.8L588.6,800.8L587.6,808.8Z"/><path fill="#000" d="M554.6,721.1L638.8,721.1L635,725.7L631.1,732.7L628.9,737.9L628.5,743L628,749.3L626.3,755.4L623.7,760.7L621,764.1L615.8,766.7L610.5,768L606.2,770.2L601.9,773.7L598.4,777.2L596.6,783.3L594,790.2L589.8,797.4L585.6,803.8L581.2,808.2L577,811.7L572.1,812.8L568.6,812.4L564.4,810.3L565.2,811.4L566.5,812.8L568.6,815.9L569.7,820L567.2,824.9L563,827.7L558.1,829.5L554.6,829.8Z"/><path fill="none" stroke="#1a1a1a" stroke-width="0.8" d="M638.8,722.6L634.5,727.1L632,733.1L631.1,737.9L631.5,746.7L629.8,752.8L626.3,757.2L625.4,763.2L619.3,767.6L610.5,771.9L603.6,779.8L599.2,786.9L594.6,792.8L591,797.7L589.6,804.7L586.1,811L581.2,817.9L577,822.1L574.2,827L572.1,832.6L570,837.6L566.1,844.6L562.1,851.6L559.2,857.1M641,723.1L636.5,729.1L633.5,734.1L632.4,737.9L635,743.2L634.2,748.4L635,754.5L631.5,758L629.8,764.1L625.4,771.1L623.7,775.5L620.2,784.2L617.5,786.9L614.5,783.9L612.3,784.2L607,786L603.6,791.8L600.9,797.7L596.6,804.7L592.4,810.3L587.5,815.2L582.6,820.7L579.1,827L576.3,832.6L574.9,837.6L571.1,844.6L567.6,851.6L565.4,857.1M631.9,758L634.5,756.5L637.5,758.5L640.5,757L643.5,758.8L646.5,757.5L649.5,759L653.5,758L655.5,759.5M632.5,792.8L634.5,789.8L637.5,789.3L640.5,790.8L643.5,787.9L646.5,787.4L649.5,788.9L652.5,790.8L653.5,793.8L651.5,796.8L648.5,798.8L644.5,800.3L640.5,802.3L636.5,800.8L633.5,797.8L632.5,792.8M650.5,775.9L653.5,774.9L657.5,776.9L659.5,775.9M649.5,806.8L652.5,808.8L655.5,806.8L658.5,809.8M642.5,726.1L645.5,729.1L648.5,728.1L651.5,731.1L653.5,734.1M631.5,761L633.5,764.9L632.5,768.9L634.5,772.9"/><rect x="555.4" y="721.9" width="103.4" height="134.5" fill="none" stroke="#333" stroke-width="1.5"/></g><g><rect x="554.8" y="897.9" width="104.4" height="136.3" fill="#ee8e74"/><path fill="#ffffff" d="M638.6,897.9L659.2,897.9L659.2,957.8L644.3,957.8L629.4,957.8L624.4,952.8L626.4,937.8L629.4,922.9L631.4,908.9L635.3,901.9Z"/><path fill="#ffffff" d="M610.5,959.8L629.4,953.8L659.2,953.8L659.2,1007.7L649.3,1003.7L639.3,997.8L629.4,990.8L619.4,983.8L612.5,973.8Z"/><path fill="#ef6a50" d="M581.6,992.8L594.6,990.8L609.5,994.8L624.4,997.8L639.3,1000.7L659.2,1003.7L659.2,1034.2L581.6,1034.2Z"/><path fill="#ee8e74" d="M594.6,1010.7L614.5,1011.7L644.3,1016.7L644.3,1021.7L614.5,1018.7L594.6,1016.7Z"/><path fill="#ffffff" d="M575.7,1031.7L575.7,1005.7L579.7,999.8L587.6,999.8L595.6,1005.7L595.6,1021.7L589.6,1031.7Z"/><path fill="#ffffff" d="M554.8,1009.7L557.8,1007.7L559.8,1015.7L556.8,1019.7L554.8,1018.7Z"/><path fill="#000" d="M554.8,897.9L638.6,897.9L634.8,902.5L631,909.5L628.8,914.8L628.4,919.9L627.9,926.2L626.2,932.2L623.6,937.5L620.9,941L615.7,943.6L610.5,944.9L606.1,947.1L601.8,950.6L598.3,954.1L596.6,960.2L594,967.2L589.8,974.4L585.6,980.8L581.2,985.2L577.1,988.7L572.2,989.8L568.7,989.4L564.5,987.3L565.3,988.4L566.6,989.8L568.7,992.9L569.8,997.1L567.3,1001.9L563.2,1004.7L558.3,1006.5L554.8,1006.8Z"/><path fill="none" stroke="#1a1a1a" stroke-width="0.8" d="M638.6,899.4L634.3,903.9L631.9,909.9L631,914.8L631.4,923.6L629.7,929.7L626.2,934L625.3,940.1L619.2,944.5L610.5,948.8L603.5,956.7L599.1,963.8L594.6,969.8L591,974.7L589.6,981.7L586.1,988L581.2,995L577.1,999.2L574.3,1004L572.2,1009.6L570.1,1014.6L566.2,1021.7L562.3,1028.7L559.4,1034.2M640.8,899.9L636.3,905.9L633.3,910.9L632.3,914.8L634.8,920.1L634,925.3L634.8,931.4L631.4,934.8L629.7,941L625.3,948L623.6,952.4L620.1,961.1L617.4,963.8L614.5,960.8L612.3,961.1L607,962.9L603.5,968.8L600.8,974.7L596.6,981.7L592.4,987.3L587.5,992.2L582.6,997.8L579.2,1004L576.4,1009.6L575,1014.6L571.2,1021.7L567.7,1028.7L565.5,1034.2M631.8,934.8L634.3,933.3L637.3,935.3L640.3,933.8L643.3,935.6L646.3,934.3L649.3,935.8L653.2,934.8L655.2,936.3M632.4,969.8L634.3,966.8L637.3,966.3L640.3,967.8L643.3,964.8L646.3,964.3L649.3,965.8L652.2,967.8L653.2,970.8L651.2,973.8L648.3,975.8L644.3,977.3L640.3,979.3L636.3,977.8L633.3,974.8L632.4,969.8M650.3,952.8L653.2,951.8L657.2,953.8L659.2,952.8M649.3,983.8L652.2,985.8L655.2,983.8L658.2,986.8M642.3,902.9L645.3,905.9L648.3,904.9L651.2,907.9L653.2,910.9M631.4,937.8L633.3,941.8L632.4,945.8L634.3,949.8"/><rect x="555.5" y="898.6" width="102.9" height="134.8" fill="none" stroke="#333" stroke-width="1.5"/></g><g><rect x="552.3" y="1076" width="105" height="136" fill="#ffffff"/><path fill="#ee3b2e" d="M612.3,1115.9L592.3,1135.8L582.3,1155.7L556.3,1185.6L564.3,1187.6L562.3,1200.5L557.3,1212L657.3,1212L657.3,1192.1L647.8,1190.4L636.2,1187.1L624.5,1178.8L614.6,1173.8L602.9,1170.6L597.9,1160.6L596.3,1143.8L598.3,1135.8L604.3,1130.8L612.3,1127.8L620.3,1122.8Z"/><path fill="#ef6a50" d="M594.3,1161.7L602.3,1163.7L607.3,1176.6L597.3,1175.6Z"/><path fill="#ef6a50" d="M601.3,1212L604.3,1201.5L617.3,1200.5L631.3,1203.5L632.3,1212Z"/><path fill="#d42a26" d="M574.3,1208.5L574.3,1193.6L580.3,1189.6L589.3,1191.6L591.3,1201.5L585.3,1208.5Z"/><path fill="#ee3b2e" d="M635.3,1147.7L638.3,1145.7L641.3,1146.7L642.3,1150.7L639.3,1153.7L636.3,1151.7Z"/><path fill="#ee3b2e" d="M643.3,1155.7L646.3,1153.7L649.3,1155.7L650.3,1161.7L647.3,1165.7L644.3,1163.7Z"/><path fill="#ee3b2e" d="M628.3,1159.7L631.3,1158.7L632.3,1161.7L629.3,1162.7Z"/><path fill="#000" d="M552.3,1076L636.6,1076L632.8,1080.6L628.9,1087.6L626.7,1092.8L626.3,1097.9L625.8,1104.2L624.1,1110.3L621.5,1115.6L618.8,1119L613.6,1121.6L608.3,1122.9L603.9,1125.1L599.6,1128.6L596.1,1132.1L594.3,1138.2L591.7,1145.1L587.5,1152.3L583.3,1158.7L578.9,1163.1L574.7,1166.6L569.8,1167.7L566.3,1167.3L562.1,1165.2L562.9,1166.3L564.2,1167.7L566.3,1170.8L567.4,1174.9L564.9,1179.8L560.7,1182.6L555.8,1184.4L552.3,1184.7Z"/><path fill="none" stroke="#1a1a1a" stroke-width="0.8" d="M636.6,1077.5L632.3,1082L629.8,1088L628.9,1092.8L629.3,1101.6L627.6,1107.7L624.1,1112.1L623.2,1118.1L617.1,1122.5L608.3,1126.8L601.3,1134.7L596.9,1141.8L592.3,1147.7L588.7,1152.6L587.3,1159.6L583.8,1165.9L578.9,1172.8L574.7,1177L571.9,1181.9L569.8,1187.5L567.7,1192.5L563.8,1199.5L559.8,1206.5L556.9,1212M638.8,1078L634.3,1084L631.3,1089L630.2,1092.8L632.8,1098.1L632,1103.3L632.8,1109.4L629.3,1112.9L627.6,1119L623.2,1126L621.5,1130.4L618,1139.1L615.3,1141.8L612.3,1138.8L610.1,1139.1L604.8,1140.9L601.3,1146.7L598.6,1152.6L594.3,1159.6L590.1,1165.2L585.2,1170.1L580.3,1175.6L576.8,1181.9L574,1187.5L572.6,1192.5L568.8,1199.5L565.3,1206.5L563.1,1212M629.7,1112.9L632.3,1111.4L635.3,1113.4L638.3,1111.9L641.3,1113.7L644.3,1112.4L647.3,1113.9L651.3,1112.9L653.3,1114.4M630.3,1147.7L632.3,1144.7L635.3,1144.2L638.3,1145.7L641.3,1142.8L644.3,1142.3L647.3,1143.8L650.3,1145.7L651.3,1148.7L649.3,1151.7L646.3,1153.7L642.3,1155.2L638.3,1157.2L634.3,1155.7L631.3,1152.7L630.3,1147.7M648.3,1130.8L651.3,1129.8L655.3,1131.8L657.3,1130.8M647.3,1161.7L650.3,1163.7L653.3,1161.7L656.3,1164.7M640.3,1081L643.3,1084L646.3,1083L649.3,1086L651.3,1089M629.3,1115.9L631.3,1119.8L630.3,1123.8L632.3,1127.8"/><rect x="553" y="1076.8" width="103.5" height="134.5" fill="none" stroke="#333" stroke-width="1.5"/></g><rect x="500" y="1224.7" width="60" height="10" fill="#fff"/><rect x="186" y="1247.3" width="8.8" height="17.9" fill="#1b3565"/><rect x="194.5" y="1247.3" width="8.8" height="17.9" fill="#2d5595"/><rect x="202.9" y="1247.3" width="8.8" height="17.9" fill="#3a6aab"/><rect x="211.4" y="1247.3" width="8.8" height="17.9" fill="#4781bb"/><rect x="219.8" y="1247.3" width="8.8" height="17.9" fill="#5591c3"/><rect x="228.3" y="1247.3" width="8.8" height="17.9" fill="#60a2cb"/><rect x="236.8" y="1247.3" width="8.8" height="17.9" fill="#74b2d6"/><rect x="245.2" y="1247.3" width="8.8" height="17.9" fill="#98cde0"/><rect x="253.7" y="1247.3" width="8.8" height="17.9" fill="#b0d8e6"/><rect x="262.1" y="1247.3" width="8.8" height="17.9" fill="#c9e4ee"/><rect x="270.6" y="1247.3" width="8.8" height="17.9" fill="#e0eff5"/><rect x="279" y="1247.3" width="8.8" height="17.9" fill="#eef3f5"/><rect x="287.5" y="1247.3" width="8.8" height="17.9" fill="#f7f4f0"/><rect x="296" y="1247.3" width="8.8" height="17.9" fill="#f8e6da"/><rect x="304.4" y="1247.3" width="8.8" height="17.9" fill="#f5d3c0"/><rect x="312.9" y="1247.3" width="8.8" height="17.9" fill="#efb79e"/><rect x="321.3" y="1247.3" width="8.8" height="17.9" fill="#e8a080"/><rect x="329.8" y="1247.3" width="8.8" height="17.9" fill="#e08468"/><rect x="338.2" y="1247.3" width="8.8" height="17.9" fill="#d9664f"/><rect x="346.7" y="1247.3" width="8.8" height="17.9" fill="#d24d44"/><rect x="355.2" y="1247.3" width="8.8" height="17.9" fill="#cb3a3b"/><rect x="363.6" y="1247.3" width="8.8" height="17.9" fill="#b51e30"/><rect x="372.1" y="1247.3" width="8.8" height="17.9" fill="#9a1428"/><rect x="380.5" y="1247.3" width="8.8" height="17.9" fill="#6e0d26"/><rect x="186" y="1247.3" width="203" height="17.9" fill="none" stroke="#555" stroke-width="1"/><path d="M288.5,1265.2v-3" stroke="#333" stroke-width="1"/><text class="cb" x="172" y="1284.3" textLength="29.3" lengthAdjust="spacingAndGlyphs">-0.5</text><text class="cb" x="283.4" y="1284.3" textLength="9" lengthAdjust="spacingAndGlyphs">0</text><text class="cb" x="378" y="1284.3" textLength="23" lengthAdjust="spacingAndGlyphs">0.5</text><text class="cb" x="273.7" y="1302.4" textLength="28.6" lengthAdjust="spacingAndGlyphs">(°C)</text><rect x="504.5" y="1264.1" width="19.4" height="19.3" fill="#f8f1ec"/><rect x="523.6" y="1264.1" width="19.4" height="19.3" fill="#f4dfd3"/><rect x="542.8" y="1264.1" width="19.4" height="19.3" fill="#efb7a0"/><rect x="561.9" y="1264.1" width="19.4" height="19.3" fill="#ee8e74"/><rect x="581" y="1264.1" width="19.4" height="19.3" fill="#ef6a50"/><rect x="600.2" y="1264.1" width="19.4" height="19.3" fill="#ee3b2e"/><rect x="619.3" y="1264.1" width="19.4" height="19.3" fill="#d42a26"/><rect x="638.4" y="1264.1" width="19.4" height="19.3" fill="#b01f21"/><rect x="657.6" y="1264.1" width="19.4" height="19.3" fill="#700c12"/><rect x="504.5" y="1264.1" width="172.2" height="19.3" fill="none" stroke="#555" stroke-width="1"/><text class="cb2" x="500.9" y="1255.6" textLength="7.1" lengthAdjust="spacingAndGlyphs">0</text><text class="cb2" x="569.5" y="1255.6" textLength="6.9" lengthAdjust="spacingAndGlyphs">2</text><text class="cb2" x="638.6" y="1255.6" textLength="6.9" lengthAdjust="spacingAndGlyphs">4</text><text class="cb2" x="583.6" y="1242.1" textLength="14.6" lengthAdjust="spacingAndGlyphs">°C</text></svg></body></html>
